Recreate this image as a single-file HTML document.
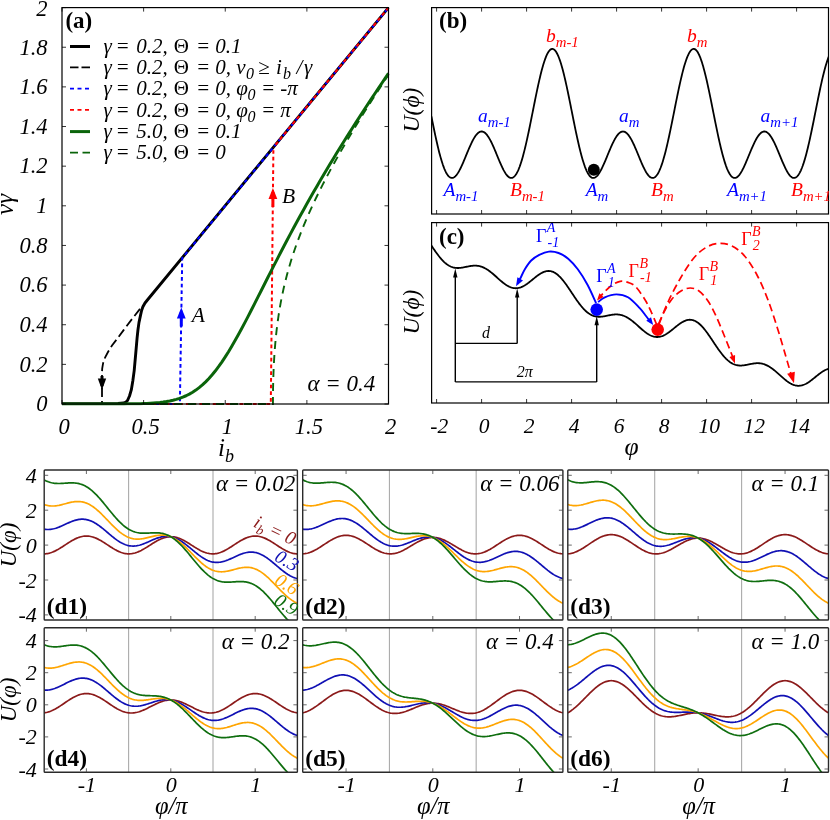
<!DOCTYPE html><html><head><meta charset="utf-8"><style>html,body{margin:0;padding:0;background:#fff}svg{display:block;will-change:transform;opacity:0.999}text{font-family:"Liberation Serif",serif}</style></head><body>
<svg width="830" height="820" viewBox="0 0 830 820">
<rect width="830" height="820" fill="#fff"/>
<defs><clipPath id="clipa"><rect x="62.0" y="6.6" width="327.5" height="398.9"/></clipPath>
<clipPath id="clipb"><rect x="431.6" y="7.6" width="396.9" height="206.4"/></clipPath>
<clipPath id="clipc"><rect x="431.6" y="222.6" width="396.9" height="180.4"/></clipPath></defs>
<g clip-path="url(#clipa)">
<path d="M140 308.9 L132 319 L123.6 330.1 L117 339 L112 345.5 L108 352 L105.3 357.1 L103.6 361 L102.8 364.8 L102.2 368.5 L102 372.5 L102 403.4" fill="none" stroke="#000" stroke-width="1.8" stroke-dasharray="9 4" />
<path d="M62 403.6 L118 403.5 L123.6 403 L126 402 L127.5 400.5 L129.5 396 L131.3 389.9 L132.8 381 L134.2 370.6 L135.6 355 L137.1 337.8 L138 329.5 L139 322.4 L140.5 315.4 L141.6 310.5 L142.9 306.8 L145 303 L147.8 299.5 L388.5 7.6" fill="none" stroke="#000" stroke-width="2.9" stroke-linejoin="round"/>
<path d="M62 404 L179.87 404 L182.2 258.07 L388.5 7.6" fill="none" stroke="#0000ff" stroke-width="2.0" stroke-dasharray="3.7 3" />
<path d="M62 404 L270.8 404 L273.41 147.33" fill="none" stroke="#ff0000" stroke-width="2.0" stroke-dasharray="3.7 3" stroke-dashoffset="3.35"/>
<path d="M273.41 147.33 L388.5 7.6" fill="none" stroke="#ff0000" stroke-width="2.0" stroke-dasharray="3.7 3" stroke-dashoffset="3.35"/>
<path d="M62 404 L65.27 404 L68.53 404 L71.8 404 L75.06 404 L78.33 404 L81.59 404 L84.86 404 L88.12 404 L91.38 404 L94.65 403.99 L97.91 403.99 L101.18 403.99 L104.44 403.98 L107.71 403.98 L110.97 403.97 L114.24 403.96 L117.5 403.95 L120.77 403.93 L124.03 403.9 L127.3 403.87 L130.56 403.83 L133.83 403.78 L137.09 403.72 L140.36 403.63 L143.62 403.53 L146.89 403.39 L150.16 403.22 L153.42 403.01 L156.69 402.74 L159.95 402.42 L163.22 402.02 L166.48 401.53 L169.75 400.94 L173.01 400.22 L176.28 399.37 L179.54 398.35 L182.81 397.15 L186.07 395.75 L189.34 394.12 L192.6 392.24 L195.87 390.1 L199.13 387.66 L202.4 384.93 L205.66 381.88 L208.93 378.5 L212.19 374.81 L215.46 370.79 L218.72 366.45 L221.98 361.82 L225.25 356.89 L228.52 351.7 L231.78 346.26 L235.05 340.61 L238.31 334.77 L241.58 328.76 L244.84 322.61 L248.11 316.36 L251.37 310.02 L254.63 303.61 L257.9 297.17 L261.16 290.71 L264.43 284.24 L267.69 277.78 L270.96 271.34 L274.23 264.93 L277.49 258.57 L280.75 252.25 L284.02 245.99 L287.29 239.78 L290.55 233.63 L293.81 227.54 L297.08 221.52 L300.35 215.55 L303.61 209.65 L306.88 203.81 L310.14 198.04 L313.4 192.32 L316.67 186.66 L319.94 181.06 L323.2 175.51 L326.47 170.01 L329.73 164.57 L333 159.17 L336.26 153.83 L339.52 148.52 L342.79 143.26 L346.06 138.05 L349.32 132.87 L352.58 127.73 L355.85 122.63 L359.12 117.57 L362.38 112.53 L365.65 107.53 L368.91 102.57 L372.18 97.63 L375.44 92.72 L378.7 87.84 L381.97 82.98 L385.24 78.15 L388.5 73.34" fill="none" stroke="#0a640a" stroke-width="3" stroke-linejoin="round"/>
<path d="M62 404 L272.94 404 L272.95 402.33 L272.95 402.26 L272.95 402.19 L272.95 402.11 L272.95 402.04 L272.95 401.96 L272.95 401.87 L272.95 401.79 L272.95 401.7 L272.95 401.61 L272.95 401.52 L272.95 401.42 L272.95 401.32 L272.95 401.22 L272.95 401.12 L272.95 401.01 L272.95 400.9 L272.95 400.78 L272.95 400.66 L272.95 400.54 L272.96 400.41 L272.96 400.27 L272.96 400.14 L272.96 400 L272.96 399.85 L272.96 399.7 L272.96 399.54 L272.96 399.38 L272.96 399.21 L272.96 399.04 L272.96 398.86 L272.96 398.67 L272.96 398.48 L272.96 398.28 L272.97 398.08 L272.97 397.87 L272.97 397.65 L272.97 397.42 L272.97 397.19 L272.97 396.94 L272.98 396.69 L272.98 396.43 L272.98 396.17 L272.98 395.89 L272.98 395.6 L272.99 395.3 L272.99 395 L272.99 394.68 L273 394.35 L273 394.01 L273 393.66 L273.01 393.3 L273.01 392.92 L273.02 392.54 L273.02 392.14 L273.03 391.72 L273.03 391.29 L273.04 390.85 L273.04 390.39 L273.05 389.92 L273.06 389.43 L273.07 388.92 L273.08 388.4 L273.08 387.86 L273.09 387.31 L273.11 386.73 L273.12 386.13 L273.13 385.52 L273.14 384.88 L273.16 384.23 L273.17 383.55 L273.19 382.85 L273.2 382.13 L273.22 381.39 L273.24 380.62 L273.27 379.82 L273.29 379 L273.31 378.16 L273.34 377.28 L273.37 376.38 L273.4 375.46 L273.43 374.5 L273.47 373.51 L273.5 372.49 L273.54 371.44 L273.59 370.36 L273.63 369.24 L273.68 368.09 L273.74 366.9 L273.79 365.68 L273.86 364.42 L273.92 363.13 L273.99 361.79 L274.07 360.42 L274.15 359 L274.24 357.54 L274.33 356.04 L274.43 354.5 L274.54 352.91 L274.66 351.28 L274.78 349.6 L274.91 347.87 L275.06 346.09 L275.21 344.26 L275.38 342.39 L275.55 340.46 L275.74 338.47 L275.95 336.43 L276.16 334.34 L276.4 332.19 L276.65 329.98 L276.92 327.71 L277.21 325.38 L277.52 322.99 L277.85 320.54 L278.2 318.01 L278.59 315.43 L279 312.77 L279.44 310.05 L279.91 307.25 L280.42 304.37 L280.96 301.43 L281.54 298.4 L282.17 295.29 L282.84 292.1 L283.56 288.82 L284.33 285.45 L285.16 282 L286.05 278.44 L287 274.78 L288.02 271.02 L289.12 267.15 L290.29 263.17 L291.56 259.07 L292.91 254.84 L294.36 250.48 L295.92 245.99 L297.59 241.34 L299.39 236.55 L301.31 231.59 L303.37 226.45 L305.59 221.13 L307.96 215.62 L310.51 209.9 L313.24 203.96 L316.17 197.78 L319.32 191.36 L322.69 184.66 L326.31 177.67 L330.19 170.38 L334.36 162.76 L338.83 154.79 L343.62 146.44 L348.76 137.68 L354.28 128.49 L360.2 118.84 L366.55 108.68 L373.36 98 L380.66 86.73 L388.5 74.85" fill="none" stroke="#0a640a" stroke-width="1.9" stroke-dasharray="8 6" />
</g>
<line x1="102" y1="376" x2="102" y2="386" stroke="#000" stroke-width="3" />
<path d="M102 390 L97.8 378.5 L106.2 378.5 Z" fill="#000"/>
<line x1="181.29" y1="312" x2="181.29" y2="326.5" stroke="#0000ff" stroke-width="3" />
<path d="M181.29 307.5 L176.89 318.5 L185.69 318.5 Z" fill="#0000ff"/>
<line x1="272.91" y1="192" x2="272.91" y2="207" stroke="#ff0000" stroke-width="3" />
<path d="M272.91 188 L268.51 199 L277.31 199 Z" fill="#ff0000"/>
<text x="191.7" y="322.3" font-size="21.5" text-anchor="start" font-style="italic" font-weight="normal" fill="#000" >A</text>
<text x="282" y="203" font-size="21.5" text-anchor="start" font-style="italic" font-weight="normal" fill="#000" >B</text>
<rect x="62.0" y="7.6" width="326.5" height="396.4" fill="none" stroke="#000" stroke-width="1.2"/>
<line x1="62" y1="404" x2="66" y2="404" stroke="#000" stroke-width="0.8" />
<line x1="388.5" y1="404" x2="384.5" y2="404" stroke="#000" stroke-width="0.8" />
<text x="47.5" y="411.3" font-size="22.5" text-anchor="end" font-style="italic" font-weight="normal" fill="#000" >0</text>
<line x1="62" y1="364.36" x2="66" y2="364.36" stroke="#000" stroke-width="0.8" />
<line x1="388.5" y1="364.36" x2="384.5" y2="364.36" stroke="#000" stroke-width="0.8" />
<text x="47.5" y="371.66" font-size="22.5" text-anchor="end" font-style="italic" font-weight="normal" fill="#000" >0.2</text>
<line x1="62" y1="324.72" x2="66" y2="324.72" stroke="#000" stroke-width="0.8" />
<line x1="388.5" y1="324.72" x2="384.5" y2="324.72" stroke="#000" stroke-width="0.8" />
<text x="47.5" y="332.02" font-size="22.5" text-anchor="end" font-style="italic" font-weight="normal" fill="#000" >0.4</text>
<line x1="62" y1="285.08" x2="66" y2="285.08" stroke="#000" stroke-width="0.8" />
<line x1="388.5" y1="285.08" x2="384.5" y2="285.08" stroke="#000" stroke-width="0.8" />
<text x="47.5" y="292.38" font-size="22.5" text-anchor="end" font-style="italic" font-weight="normal" fill="#000" >0.6</text>
<line x1="62" y1="245.44" x2="66" y2="245.44" stroke="#000" stroke-width="0.8" />
<line x1="388.5" y1="245.44" x2="384.5" y2="245.44" stroke="#000" stroke-width="0.8" />
<text x="47.5" y="252.74" font-size="22.5" text-anchor="end" font-style="italic" font-weight="normal" fill="#000" >0.8</text>
<line x1="62" y1="205.8" x2="66" y2="205.8" stroke="#000" stroke-width="0.8" />
<line x1="388.5" y1="205.8" x2="384.5" y2="205.8" stroke="#000" stroke-width="0.8" />
<text x="47.5" y="213.1" font-size="22.5" text-anchor="end" font-style="italic" font-weight="normal" fill="#000" >1</text>
<line x1="62" y1="166.16" x2="66" y2="166.16" stroke="#000" stroke-width="0.8" />
<line x1="388.5" y1="166.16" x2="384.5" y2="166.16" stroke="#000" stroke-width="0.8" />
<text x="47.5" y="173.46" font-size="22.5" text-anchor="end" font-style="italic" font-weight="normal" fill="#000" >1.2</text>
<line x1="62" y1="126.52" x2="66" y2="126.52" stroke="#000" stroke-width="0.8" />
<line x1="388.5" y1="126.52" x2="384.5" y2="126.52" stroke="#000" stroke-width="0.8" />
<text x="47.5" y="133.82" font-size="22.5" text-anchor="end" font-style="italic" font-weight="normal" fill="#000" >1.4</text>
<line x1="62" y1="86.88" x2="66" y2="86.88" stroke="#000" stroke-width="0.8" />
<line x1="388.5" y1="86.88" x2="384.5" y2="86.88" stroke="#000" stroke-width="0.8" />
<text x="47.5" y="94.18" font-size="22.5" text-anchor="end" font-style="italic" font-weight="normal" fill="#000" >1.6</text>
<line x1="62" y1="47.24" x2="66" y2="47.24" stroke="#000" stroke-width="0.8" />
<line x1="388.5" y1="47.24" x2="384.5" y2="47.24" stroke="#000" stroke-width="0.8" />
<text x="47.5" y="54.54" font-size="22.5" text-anchor="end" font-style="italic" font-weight="normal" fill="#000" >1.8</text>
<line x1="62" y1="7.6" x2="66" y2="7.6" stroke="#000" stroke-width="0.8" />
<line x1="388.5" y1="7.6" x2="384.5" y2="7.6" stroke="#000" stroke-width="0.8" />
<text x="47.5" y="15.7" font-size="22.5" text-anchor="end" font-style="italic" font-weight="normal" fill="#000" >2</text>
<line x1="62" y1="404" x2="62" y2="400" stroke="#000" stroke-width="0.8" />
<line x1="62" y1="7.6" x2="62" y2="11.6" stroke="#000" stroke-width="0.8" />
<text x="64" y="434" font-size="22.5" text-anchor="middle" font-style="italic" font-weight="normal" fill="#000" >0</text>
<line x1="143.62" y1="404" x2="143.62" y2="400" stroke="#000" stroke-width="0.8" />
<line x1="143.62" y1="7.6" x2="143.62" y2="11.6" stroke="#000" stroke-width="0.8" />
<text x="145.62" y="434" font-size="22.5" text-anchor="middle" font-style="italic" font-weight="normal" fill="#000" >0.5</text>
<line x1="225.25" y1="404" x2="225.25" y2="400" stroke="#000" stroke-width="0.8" />
<line x1="225.25" y1="7.6" x2="225.25" y2="11.6" stroke="#000" stroke-width="0.8" />
<text x="227.25" y="434" font-size="22.5" text-anchor="middle" font-style="italic" font-weight="normal" fill="#000" >1</text>
<line x1="306.88" y1="404" x2="306.88" y2="400" stroke="#000" stroke-width="0.8" />
<line x1="306.88" y1="7.6" x2="306.88" y2="11.6" stroke="#000" stroke-width="0.8" />
<text x="308.88" y="434" font-size="22.5" text-anchor="middle" font-style="italic" font-weight="normal" fill="#000" >1.5</text>
<line x1="388.5" y1="404" x2="388.5" y2="400" stroke="#000" stroke-width="0.8" />
<line x1="388.5" y1="7.6" x2="388.5" y2="11.6" stroke="#000" stroke-width="0.8" />
<text x="390.5" y="434" font-size="22.5" text-anchor="middle" font-style="italic" font-weight="normal" fill="#000" >2</text>
<text x="65.4" y="27.5" font-size="23" text-anchor="start" font-style="normal" font-weight="bold" fill="#000" >(a)</text>
<text x="307.5" y="391" font-size="23" text-anchor="start" font-style="italic" font-weight="normal" fill="#000" >α = 0.4</text>
<text transform="translate(13.4,204.5) rotate(-90)" font-size="25" font-style="italic" text-anchor="middle">vγ</text>
<text x="218" y="455.5" font-size="25" font-style="italic">i<tspan dy="6.5" font-size="18">b</tspan></text>
<line x1="70" y1="46.5" x2="90" y2="46.5" stroke="#000" stroke-width="3" />
<line x1="70" y1="67.3" x2="90" y2="67.3" stroke="#000" stroke-width="1.8" stroke-dasharray="8.5 3"/>
<line x1="70" y1="88.7" x2="90" y2="88.7" stroke="#0000ff" stroke-width="1.8" stroke-dasharray="4 3.5"/>
<line x1="70" y1="109.8" x2="90" y2="109.8" stroke="#ff0000" stroke-width="1.8" stroke-dasharray="4 3.5"/>
<line x1="70" y1="131.6" x2="90" y2="131.6" stroke="#0a640a" stroke-width="3" />
<line x1="70" y1="152.6" x2="90" y2="152.6" stroke="#0a640a" stroke-width="1.6" stroke-dasharray="8 4.5"/>
<text font-size="21" font-style="italic"><tspan x="103.4" y="53" font-style="italic">γ</tspan><tspan x="115.6" y="53" font-style="italic">=</tspan><tspan x="136.3" y="53" font-style="italic">0.2,</tspan><tspan x="173.8" y="53" font-style="normal">Θ</tspan><tspan x="196" y="53" font-style="italic">=</tspan><tspan x="215.3" y="53" font-style="italic">0.1</tspan></text>
<text font-size="21" font-style="italic"><tspan x="103.4" y="74" font-style="italic">γ</tspan><tspan x="115.6" y="74" font-style="italic">=</tspan><tspan x="136.3" y="74" font-style="italic">0.2,</tspan><tspan x="173.8" y="74" font-style="normal">Θ</tspan><tspan x="196" y="74" font-style="italic">=</tspan><tspan x="215.3" y="74" font-style="italic">0,</tspan><tspan x="236.3" y="74" font-style="italic">v</tspan><tspan x="246" y="79" font-style="italic" font-size="16">0</tspan><tspan x="258.3" y="74" font-style="normal">≥</tspan><tspan x="276" y="74" font-style="italic">i</tspan><tspan x="283" y="79" font-style="italic" font-size="16">b</tspan><tspan x="296.5" y="74" font-style="italic">/</tspan><tspan x="304" y="74" font-style="italic">γ</tspan></text>
<text font-size="21" font-style="italic"><tspan x="103.4" y="95" font-style="italic">γ</tspan><tspan x="115.6" y="95" font-style="italic">=</tspan><tspan x="136.3" y="95" font-style="italic">0.2,</tspan><tspan x="173.8" y="95" font-style="normal">Θ</tspan><tspan x="196" y="95" font-style="italic">=</tspan><tspan x="215.3" y="95" font-style="italic">0,</tspan><tspan x="236.3" y="95" font-style="italic">φ</tspan><tspan x="247.6" y="100" font-style="italic" font-size="16">0</tspan><tspan x="261" y="95" font-style="italic">=</tspan><tspan x="280.3" y="95" font-style="italic">-π</tspan></text>
<text font-size="21" font-style="italic"><tspan x="103.4" y="116.5" font-style="italic">γ</tspan><tspan x="115.6" y="116.5" font-style="italic">=</tspan><tspan x="136.3" y="116.5" font-style="italic">0.2,</tspan><tspan x="173.8" y="116.5" font-style="normal">Θ</tspan><tspan x="196" y="116.5" font-style="italic">=</tspan><tspan x="215.3" y="116.5" font-style="italic">0,</tspan><tspan x="236.3" y="116.5" font-style="italic">φ</tspan><tspan x="247.6" y="121.5" font-style="italic" font-size="16">0</tspan><tspan x="261" y="116.5" font-style="italic">=</tspan><tspan x="280.3" y="116.5" font-style="italic">π</tspan></text>
<text font-size="21" font-style="italic"><tspan x="103.4" y="138" font-style="italic">γ</tspan><tspan x="115.6" y="138" font-style="italic">=</tspan><tspan x="136.3" y="138" font-style="italic">5.0,</tspan><tspan x="173.8" y="138" font-style="normal">Θ</tspan><tspan x="196" y="138" font-style="italic">=</tspan><tspan x="215.3" y="138" font-style="italic">0.1</tspan></text>
<text font-size="21" font-style="italic"><tspan x="103.4" y="159" font-style="italic">γ</tspan><tspan x="115.6" y="159" font-style="italic">=</tspan><tspan x="136.3" y="159" font-style="italic">5.0,</tspan><tspan x="173.8" y="159" font-style="normal">Θ</tspan><tspan x="196" y="159" font-style="italic">=</tspan><tspan x="215.3" y="159" font-style="italic">0</tspan></text>
<g clip-path="url(#clipb)">
<path d="M431.43 116.52 L431.99 119.36 L432.56 122.18 L433.13 124.98 L433.7 127.76 L434.27 130.5 L434.84 133.21 L435.4 135.87 L435.97 138.48 L436.54 141.05 L437.11 143.55 L437.68 145.99 L438.25 148.37 L438.81 150.68 L439.38 152.91 L439.95 155.06 L440.52 157.13 L441.09 159.11 L441.66 161.01 L442.23 162.82 L442.79 164.53 L443.36 166.14 L443.93 167.66 L444.5 169.07 L445.07 170.39 L445.64 171.6 L446.2 172.7 L446.77 173.7 L447.34 174.6 L447.91 175.39 L448.48 176.07 L449.05 176.64 L449.62 177.12 L450.18 177.48 L450.75 177.74 L451.32 177.9 L451.89 177.96 L452.46 177.92 L453.03 177.79 L453.59 177.55 L454.16 177.23 L454.73 176.82 L455.3 176.32 L455.87 175.73 L456.44 175.07 L457.01 174.33 L457.57 173.52 L458.14 172.63 L458.71 171.69 L459.28 170.68 L459.85 169.61 L460.42 168.49 L460.98 167.33 L461.55 166.12 L462.12 164.87 L462.69 163.59 L463.26 162.28 L463.83 160.94 L464.4 159.59 L464.96 158.22 L465.53 156.84 L466.1 155.46 L466.67 154.07 L467.24 152.69 L467.81 151.32 L468.37 149.97 L468.94 148.63 L469.51 147.32 L470.08 146.03 L470.65 144.78 L471.22 143.56 L471.79 142.38 L472.35 141.24 L472.92 140.16 L473.49 139.12 L474.06 138.14 L474.63 137.21 L475.2 136.35 L475.76 135.55 L476.33 134.82 L476.9 134.15 L477.47 133.56 L478.04 133.04 L478.61 132.59 L479.18 132.22 L479.74 131.92 L480.31 131.7 L480.88 131.56 L481.45 131.5 L482.02 131.52 L482.59 131.62 L483.15 131.8 L483.72 132.05 L484.29 132.38 L484.86 132.79 L485.43 133.27 L486 133.83 L486.57 134.46 L487.13 135.15 L487.7 135.92 L488.27 136.75 L488.84 137.64 L489.41 138.59 L489.98 139.6 L490.54 140.66 L491.11 141.77 L491.68 142.93 L492.25 144.12 L492.82 145.36 L493.39 146.63 L493.96 147.93 L494.52 149.26 L495.09 150.6 L495.66 151.96 L496.23 153.34 L496.8 154.72 L497.37 156.11 L497.93 157.49 L498.5 158.86 L499.07 160.23 L499.64 161.57 L500.21 162.9 L500.78 164.19 L501.34 165.46 L501.91 166.69 L502.48 167.88 L503.05 169.02 L503.62 170.12 L504.19 171.16 L504.76 172.14 L505.32 173.06 L505.89 173.91 L506.46 174.69 L507.03 175.39 L507.6 176.02 L508.17 176.56 L508.73 177.02 L509.3 177.39 L509.87 177.67 L510.44 177.86 L511.01 177.95 L511.58 177.95 L512.15 177.84 L512.71 177.63 L513.28 177.32 L513.85 176.91 L514.42 176.39 L514.99 175.76 L515.56 175.03 L516.12 174.19 L516.69 173.25 L517.26 172.2 L517.83 171.04 L518.4 169.78 L518.97 168.42 L519.54 166.96 L520.1 165.4 L520.67 163.74 L521.24 161.98 L521.81 160.13 L522.38 158.19 L522.95 156.17 L523.51 154.06 L524.08 151.87 L524.65 149.6 L525.22 147.26 L525.79 144.86 L526.36 142.38 L526.93 139.85 L527.49 137.26 L528.06 134.63 L528.63 131.94 L529.2 129.22 L529.77 126.46 L530.34 123.67 L530.9 120.86 L531.47 118.03 L532.04 115.18 L532.61 112.33 L533.18 109.48 L533.75 106.63 L534.32 103.78 L534.88 100.96 L535.45 98.16 L536.02 95.38 L536.59 92.64 L537.16 89.93 L537.73 87.27 L538.29 84.66 L538.86 82.1 L539.43 79.61 L540 77.18 L540.57 74.82 L541.14 72.54 L541.71 70.34 L542.27 68.23 L542.84 66.2 L543.41 64.27 L543.98 62.44 L544.55 60.71 L545.12 59.09 L545.68 57.57 L546.25 56.17 L546.82 54.89 L547.39 53.72 L547.96 52.68 L548.53 51.76 L549.1 50.96 L549.66 50.3 L550.23 49.76 L550.8 49.35 L551.37 49.07 L551.94 48.92 L552.51 48.91 L553.07 49.03 L553.64 49.28 L554.21 49.65 L554.78 50.16 L555.35 50.8 L555.92 51.57 L556.49 52.46 L557.05 53.48 L557.62 54.62 L558.19 55.87 L558.76 57.25 L559.33 58.74 L559.9 60.33 L560.46 62.04 L561.03 63.85 L561.6 65.76 L562.17 67.76 L562.74 69.86 L563.31 72.04 L563.88 74.3 L564.44 76.64 L565.01 79.06 L565.58 81.54 L566.15 84.08 L566.72 86.68 L567.29 89.33 L567.85 92.02 L568.42 94.76 L568.99 97.53 L569.56 100.32 L570.13 103.15 L570.7 105.98 L571.26 108.83 L571.83 111.69 L572.4 114.54 L572.97 117.39 L573.54 120.22 L574.11 123.04 L574.68 125.83 L575.24 128.6 L575.81 131.33 L576.38 134.02 L576.95 136.67 L577.52 139.27 L578.09 141.82 L578.65 144.3 L579.22 146.73 L579.79 149.08 L580.36 151.36 L580.93 153.57 L581.5 155.7 L582.07 157.74 L582.63 159.7 L583.2 161.57 L583.77 163.35 L584.34 165.03 L584.91 166.62 L585.48 168.1 L586.04 169.49 L586.61 170.77 L587.18 171.95 L587.75 173.02 L588.32 173.99 L588.89 174.85 L589.46 175.61 L590.02 176.26 L590.59 176.8 L591.16 177.24 L591.73 177.57 L592.3 177.8 L592.87 177.93 L593.43 177.96 L594 177.89 L594.57 177.72 L595.14 177.46 L595.71 177.11 L596.28 176.67 L596.85 176.15 L597.41 175.54 L597.98 174.85 L598.55 174.09 L599.12 173.25 L599.69 172.35 L600.26 171.38 L600.82 170.36 L601.39 169.28 L601.96 168.14 L602.53 166.96 L603.1 165.74 L603.67 164.48 L604.24 163.19 L604.8 161.87 L605.37 160.53 L605.94 159.17 L606.51 157.8 L607.08 156.42 L607.65 155.03 L608.21 153.65 L608.78 152.27 L609.35 150.91 L609.92 149.56 L610.49 148.23 L611.06 146.92 L611.63 145.64 L612.19 144.4 L612.76 143.19 L613.33 142.03 L613.9 140.91 L614.47 139.83 L615.04 138.81 L615.6 137.85 L616.17 136.94 L616.74 136.1 L617.31 135.32 L617.88 134.61 L618.45 133.96 L619.02 133.39 L619.58 132.89 L620.15 132.47 L620.72 132.12 L621.29 131.85 L621.86 131.65 L622.43 131.54 L622.99 131.5 L623.56 131.54 L624.13 131.66 L624.7 131.86 L625.27 132.14 L625.84 132.5 L626.41 132.93 L626.97 133.43 L627.54 134.01 L628.11 134.66 L628.68 135.38 L629.25 136.16 L629.82 137.01 L630.38 137.92 L630.95 138.89 L631.52 139.92 L632.09 140.99 L632.66 142.12 L633.23 143.29 L633.79 144.5 L634.36 145.74 L634.93 147.02 L635.5 148.33 L636.07 149.66 L636.64 151.02 L637.21 152.38 L637.77 153.76 L638.34 155.14 L638.91 156.53 L639.48 157.91 L640.05 159.28 L640.62 160.64 L641.18 161.98 L641.75 163.3 L642.32 164.59 L642.89 165.84 L643.46 167.06 L644.03 168.23 L644.6 169.36 L645.16 170.44 L645.73 171.46 L646.3 172.42 L646.87 173.32 L647.44 174.15 L648.01 174.91 L648.57 175.59 L649.14 176.19 L649.71 176.71 L650.28 177.14 L650.85 177.49 L651.42 177.74 L651.99 177.9 L652.55 177.96 L653.12 177.93 L653.69 177.79 L654.26 177.55 L654.83 177.21 L655.4 176.76 L655.96 176.21 L656.53 175.55 L657.1 174.79 L657.67 173.92 L658.24 172.94 L658.81 171.86 L659.38 170.67 L659.94 169.38 L660.51 167.99 L661.08 166.49 L661.65 164.9 L662.22 163.21 L662.79 161.43 L663.35 159.55 L663.92 157.58 L664.49 155.53 L665.06 153.4 L665.63 151.19 L666.2 148.9 L666.77 146.54 L667.33 144.11 L667.9 141.62 L668.47 139.07 L669.04 136.46 L669.61 133.81 L670.18 131.12 L670.74 128.38 L671.31 125.61 L671.88 122.82 L672.45 120 L673.02 117.16 L673.59 114.31 L674.16 111.46 L674.72 108.6 L675.29 105.76 L675.86 102.92 L676.43 100.1 L677 97.31 L677.57 94.54 L678.13 91.81 L678.7 89.11 L679.27 86.47 L679.84 83.87 L680.41 81.34 L680.98 78.86 L681.55 76.45 L682.11 74.12 L682.68 71.86 L683.25 69.69 L683.82 67.6 L684.39 65.6 L684.96 63.7 L685.52 61.9 L686.09 60.2 L686.66 58.61 L687.23 57.13 L687.8 55.77 L688.37 54.52 L688.94 53.39 L689.5 52.39 L690.07 51.5 L690.64 50.75 L691.21 50.12 L691.78 49.62 L692.35 49.25 L692.91 49.01 L693.48 48.91 L694.05 48.93 L694.62 49.09 L695.19 49.38 L695.76 49.8 L696.33 50.35 L696.89 51.02 L697.46 51.83 L698.03 52.76 L698.6 53.81 L699.17 54.99 L699.74 56.28 L700.3 57.69 L700.87 59.21 L701.44 60.84 L702.01 62.58 L702.58 64.42 L703.15 66.36 L703.71 68.39 L704.28 70.51 L704.85 72.72 L705.42 75.01 L705.99 77.37 L706.56 79.81 L707.13 82.31 L707.69 84.87 L708.26 87.48 L708.83 90.15 L709.4 92.85 L709.97 95.6 L710.54 98.38 L711.1 101.18 L711.67 104.01 L712.24 106.85 L712.81 109.7 L713.38 112.56 L713.95 115.41 L714.52 118.25 L715.08 121.08 L715.65 123.9 L716.22 126.68 L716.79 129.44 L717.36 132.16 L717.93 134.84 L718.49 137.47 L719.06 140.06 L719.63 142.58 L720.2 145.05 L720.77 147.45 L721.34 149.79 L721.91 152.05 L722.47 154.23 L723.04 156.33 L723.61 158.35 L724.18 160.28 L724.75 162.12 L725.32 163.87 L725.88 165.53 L726.45 167.08 L727.02 168.54 L727.59 169.89 L728.16 171.14 L728.73 172.29 L729.3 173.33 L729.86 174.26 L730.43 175.09 L731 175.82 L731.57 176.43 L732.14 176.94 L732.71 177.35 L733.27 177.65 L733.84 177.85 L734.41 177.95 L734.98 177.95 L735.55 177.85 L736.12 177.65 L736.69 177.37 L737.25 176.99 L737.82 176.52 L738.39 175.97 L738.96 175.34 L739.53 174.63 L740.1 173.84 L740.66 172.98 L741.23 172.06 L741.8 171.08 L742.37 170.03 L742.94 168.93 L743.51 167.79 L744.08 166.59 L744.64 165.36 L745.21 164.09 L745.78 162.79 L746.35 161.47 L746.92 160.12 L747.49 158.75 L748.05 157.38 L748.62 156 L749.19 154.61 L749.76 153.23 L750.33 151.86 L750.9 150.49 L751.47 149.15 L752.03 147.83 L752.6 146.53 L753.17 145.26 L753.74 144.03 L754.31 142.83 L754.88 141.68 L755.44 140.57 L756.01 139.52 L756.58 138.51 L757.15 137.57 L757.72 136.68 L758.29 135.85 L758.86 135.1 L759.42 134.4 L759.99 133.78 L760.56 133.23 L761.13 132.75 L761.7 132.35 L762.27 132.03 L762.83 131.78 L763.4 131.61 L763.97 131.52 L764.54 131.5 L765.11 131.57 L765.68 131.72 L766.24 131.94 L766.81 132.24 L767.38 132.62 L767.95 133.08 L768.52 133.6 L769.09 134.2 L769.66 134.87 L770.22 135.61 L770.79 136.42 L771.36 137.29 L771.93 138.21 L772.5 139.2 L773.07 140.24 L773.63 141.33 L774.2 142.47 L774.77 143.65 L775.34 144.87 L775.91 146.13 L776.48 147.42 L777.05 148.74 L777.61 150.08 L778.18 151.43 L778.75 152.8 L779.32 154.18 L779.89 155.57 L780.46 156.95 L781.02 158.33 L781.59 159.7 L782.16 161.05 L782.73 162.38 L783.3 163.69 L783.87 164.97 L784.44 166.22 L785 167.42 L785.57 168.58 L786.14 169.7 L786.71 170.76 L787.28 171.76 L787.85 172.71 L788.41 173.58 L788.98 174.39 L789.55 175.12 L790.12 175.78 L790.69 176.36 L791.26 176.85 L791.83 177.26 L792.39 177.58 L792.96 177.8 L793.53 177.93 L794.1 177.96 L794.67 177.89 L795.24 177.73 L795.8 177.46 L796.37 177.08 L796.94 176.6 L797.51 176.02 L798.08 175.33 L798.65 174.53 L799.22 173.63 L799.78 172.62 L800.35 171.51 L800.92 170.29 L801.49 168.96 L802.06 167.54 L802.63 166.02 L803.19 164.39 L803.76 162.68 L804.33 160.86 L804.9 158.96 L805.47 156.97 L806.04 154.89 L806.61 152.73 L807.17 150.49 L807.74 148.18 L808.31 145.8 L808.88 143.35 L809.45 140.84 L810.02 138.28 L810.58 135.66 L811.15 132.99 L811.72 130.28 L812.29 127.54 L812.86 124.76 L813.43 121.96 L814 119.13 L814.56 116.29 L815.13 113.44 L815.7 110.59 L816.27 107.73 L816.84 104.89 L817.41 102.06 L817.97 99.24 L818.54 96.46 L819.11 93.7 L819.68 90.98 L820.25 88.3 L820.82 85.67 L821.39 83.09 L821.95 80.57 L822.52 78.12 L823.09 75.73 L823.66 73.42 L824.23 71.19 L824.8 69.04 L825.36 66.98 L825.93 65.01 L826.5 63.14 L827.07 61.37 L827.64 59.71 L828.21 58.15 L828.78 56.7" fill="none" stroke="#000" stroke-width="1.8" />
</g>
<circle cx="593.8" cy="169.8" r="6" fill="#000"/>
<rect x="431.6" y="7.6" width="396.9" height="206.4" fill="none" stroke="#000" stroke-width="1.2"/>
<line x1="436.6" y1="214" x2="436.6" y2="210" stroke="#000" stroke-width="0.8" />
<line x1="436.6" y1="7.6" x2="436.6" y2="11.6" stroke="#000" stroke-width="0.8" />
<line x1="481.6" y1="214" x2="481.6" y2="210" stroke="#000" stroke-width="0.8" />
<line x1="481.6" y1="7.6" x2="481.6" y2="11.6" stroke="#000" stroke-width="0.8" />
<line x1="526.6" y1="214" x2="526.6" y2="210" stroke="#000" stroke-width="0.8" />
<line x1="526.6" y1="7.6" x2="526.6" y2="11.6" stroke="#000" stroke-width="0.8" />
<line x1="571.6" y1="214" x2="571.6" y2="210" stroke="#000" stroke-width="0.8" />
<line x1="571.6" y1="7.6" x2="571.6" y2="11.6" stroke="#000" stroke-width="0.8" />
<line x1="616.6" y1="214" x2="616.6" y2="210" stroke="#000" stroke-width="0.8" />
<line x1="616.6" y1="7.6" x2="616.6" y2="11.6" stroke="#000" stroke-width="0.8" />
<line x1="661.6" y1="214" x2="661.6" y2="210" stroke="#000" stroke-width="0.8" />
<line x1="661.6" y1="7.6" x2="661.6" y2="11.6" stroke="#000" stroke-width="0.8" />
<line x1="706.6" y1="214" x2="706.6" y2="210" stroke="#000" stroke-width="0.8" />
<line x1="706.6" y1="7.6" x2="706.6" y2="11.6" stroke="#000" stroke-width="0.8" />
<line x1="751.6" y1="214" x2="751.6" y2="210" stroke="#000" stroke-width="0.8" />
<line x1="751.6" y1="7.6" x2="751.6" y2="11.6" stroke="#000" stroke-width="0.8" />
<line x1="796.6" y1="214" x2="796.6" y2="210" stroke="#000" stroke-width="0.8" />
<line x1="796.6" y1="7.6" x2="796.6" y2="11.6" stroke="#000" stroke-width="0.8" />
<text x="439" y="28" font-size="23" text-anchor="start" font-style="normal" font-weight="bold" fill="#000" >(b)</text>
<text transform="translate(419.3,110) rotate(-90)" font-size="23.5" font-style="italic" text-anchor="middle">U(ϕ)</text>
<text x="443.5" y="195.5" font-size="19.5" font-style="italic" fill="#0000ff">A<tspan dy="5.5" font-size="14.8">m-1</tspan></text>
<text x="510" y="195.5" font-size="19.5" font-style="italic" fill="#ff0000">B<tspan dy="5.5" font-size="14.8">m-1</tspan></text>
<text x="585.7" y="195.5" font-size="19.5" font-style="italic" fill="#0000ff">A<tspan dy="5.5" font-size="14.8">m</tspan></text>
<text x="651" y="195.5" font-size="19.5" font-style="italic" fill="#ff0000">B<tspan dy="5.5" font-size="14.8">m</tspan></text>
<text x="727" y="195.5" font-size="19.5" font-style="italic" fill="#0000ff">A<tspan dy="5.5" font-size="14.8">m+1</tspan></text>
<text x="791" y="195.5" font-size="19.5" font-style="italic" fill="#ff0000">B<tspan dy="5.5" font-size="14.8">m+1</tspan></text>
<text x="478" y="122" font-size="19.5" font-style="italic" fill="#0000ff">a<tspan dy="4.5" font-size="14.8">m-1</tspan></text>
<text x="619" y="122" font-size="19.5" font-style="italic" fill="#0000ff">a<tspan dy="4.5" font-size="14.8">m</tspan></text>
<text x="760.5" y="122" font-size="19.5" font-style="italic" fill="#0000ff">a<tspan dy="4.5" font-size="14.8">m+1</tspan></text>
<text x="546" y="41.5" font-size="19.5" font-style="italic" fill="#ff0000">b<tspan dy="5.5" font-size="14.8">m-1</tspan></text>
<text x="687" y="41.5" font-size="19.5" font-style="italic" fill="#ff0000">b<tspan dy="5.5" font-size="14.8">m</tspan></text>
<g clip-path="url(#clipc)">
<path d="M431.43 245.59 L431.99 246.44 L432.56 247.29 L433.13 248.14 L433.7 248.98 L434.27 249.81 L434.84 250.63 L435.4 251.45 L435.97 252.25 L436.54 253.04 L437.11 253.82 L437.68 254.58 L438.25 255.33 L438.81 256.07 L439.38 256.78 L439.95 257.48 L440.52 258.16 L441.09 258.82 L441.66 259.46 L442.23 260.07 L442.79 260.67 L443.36 261.24 L443.93 261.8 L444.5 262.32 L445.07 262.83 L445.64 263.31 L446.2 263.77 L446.77 264.2 L447.34 264.61 L447.91 264.99 L448.48 265.35 L449.05 265.69 L449.62 266 L450.18 266.28 L450.75 266.55 L451.32 266.79 L451.89 267 L452.46 267.2 L453.03 267.37 L453.59 267.52 L454.16 267.64 L454.73 267.75 L455.3 267.84 L455.87 267.91 L456.44 267.95 L457.01 267.99 L457.57 268 L458.14 268 L458.71 267.98 L459.28 267.95 L459.85 267.91 L460.42 267.85 L460.98 267.79 L461.55 267.71 L462.12 267.63 L462.69 267.53 L463.26 267.43 L463.83 267.32 L464.4 267.21 L464.96 267.1 L465.53 266.98 L466.1 266.86 L466.67 266.75 L467.24 266.63 L467.81 266.51 L468.37 266.4 L468.94 266.29 L469.51 266.19 L470.08 266.09 L470.65 266.01 L471.22 265.92 L471.79 265.85 L472.35 265.79 L472.92 265.74 L473.49 265.7 L474.06 265.67 L474.63 265.66 L475.2 265.66 L475.76 265.67 L476.33 265.7 L476.9 265.74 L477.47 265.8 L478.04 265.88 L478.61 265.98 L479.18 266.09 L479.74 266.22 L480.31 266.36 L480.88 266.53 L481.45 266.71 L482.02 266.91 L482.59 267.13 L483.15 267.36 L483.72 267.62 L484.29 267.89 L484.86 268.18 L485.43 268.48 L486 268.81 L486.57 269.15 L487.13 269.5 L487.7 269.87 L488.27 270.26 L488.84 270.66 L489.41 271.07 L489.98 271.49 L490.54 271.93 L491.11 272.38 L491.68 272.84 L492.25 273.31 L492.82 273.79 L493.39 274.27 L493.96 274.76 L494.52 275.26 L495.09 275.76 L495.66 276.27 L496.23 276.78 L496.8 277.29 L497.37 277.8 L497.93 278.31 L498.5 278.82 L499.07 279.32 L499.64 279.82 L500.21 280.32 L500.78 280.81 L501.34 281.29 L501.91 281.76 L502.48 282.23 L503.05 282.68 L503.62 283.12 L504.19 283.55 L504.76 283.97 L505.32 284.37 L505.89 284.76 L506.46 285.13 L507.03 285.48 L507.6 285.81 L508.17 286.13 L508.73 286.42 L509.3 286.7 L509.87 286.95 L510.44 287.19 L511.01 287.4 L511.58 287.59 L512.15 287.75 L512.71 287.89 L513.28 288.01 L513.85 288.11 L514.42 288.18 L514.99 288.22 L515.56 288.24 L516.12 288.24 L516.69 288.21 L517.26 288.16 L517.83 288.08 L518.4 287.98 L518.97 287.86 L519.54 287.71 L520.1 287.54 L520.67 287.35 L521.24 287.14 L521.81 286.9 L522.38 286.65 L522.95 286.37 L523.51 286.07 L524.08 285.76 L524.65 285.43 L525.22 285.08 L525.79 284.72 L526.36 284.34 L526.93 283.95 L527.49 283.54 L528.06 283.12 L528.63 282.7 L529.2 282.26 L529.77 281.82 L530.34 281.37 L530.9 280.91 L531.47 280.45 L532.04 279.99 L532.61 279.52 L533.18 279.06 L533.75 278.59 L534.32 278.13 L534.88 277.67 L535.45 277.22 L536.02 276.77 L536.59 276.33 L537.16 275.9 L537.73 275.48 L538.29 275.07 L538.86 274.68 L539.43 274.3 L540 273.93 L540.57 273.58 L541.14 273.25 L541.71 272.94 L542.27 272.64 L542.84 272.37 L543.41 272.12 L543.98 271.89 L544.55 271.69 L545.12 271.51 L545.68 271.35 L546.25 271.23 L546.82 271.13 L547.39 271.05 L547.96 271.01 L548.53 270.99 L549.1 271 L549.66 271.04 L550.23 271.12 L550.8 271.22 L551.37 271.35 L551.94 271.51 L552.51 271.7 L553.07 271.93 L553.64 272.18 L554.21 272.46 L554.78 272.78 L555.35 273.12 L555.92 273.49 L556.49 273.9 L557.05 274.33 L557.62 274.79 L558.19 275.27 L558.76 275.79 L559.33 276.33 L559.9 276.9 L560.46 277.49 L561.03 278.1 L561.6 278.74 L562.17 279.4 L562.74 280.08 L563.31 280.78 L563.88 281.5 L564.44 282.24 L565.01 282.99 L565.58 283.76 L566.15 284.55 L566.72 285.34 L567.29 286.15 L567.85 286.97 L568.42 287.8 L568.99 288.64 L569.56 289.49 L570.13 290.34 L570.7 291.19 L571.26 292.05 L571.83 292.9 L572.4 293.76 L572.97 294.62 L573.54 295.47 L574.11 296.32 L574.68 297.16 L575.24 298 L575.81 298.83 L576.38 299.65 L576.95 300.46 L577.52 301.26 L578.09 302.05 L578.65 302.83 L579.22 303.59 L579.79 304.33 L580.36 305.06 L580.93 305.77 L581.5 306.46 L582.07 307.13 L582.63 307.78 L583.2 308.42 L583.77 309.03 L584.34 309.62 L584.91 310.19 L585.48 310.73 L586.04 311.25 L586.61 311.75 L587.18 312.22 L587.75 312.67 L588.32 313.1 L588.89 313.5 L589.46 313.87 L590.02 314.23 L590.59 314.55 L591.16 314.86 L591.73 315.14 L592.3 315.39 L592.87 315.62 L593.43 315.83 L594 316.02 L594.57 316.18 L595.14 316.33 L595.71 316.45 L596.28 316.55 L596.85 316.63 L597.41 316.69 L597.98 316.74 L598.55 316.76 L599.12 316.77 L599.69 316.77 L600.26 316.75 L600.82 316.71 L601.39 316.66 L601.96 316.61 L602.53 316.54 L603.1 316.46 L603.67 316.37 L604.24 316.27 L604.8 316.17 L605.37 316.06 L605.94 315.95 L606.51 315.83 L607.08 315.72 L607.65 315.6 L608.21 315.48 L608.78 315.36 L609.35 315.25 L609.92 315.14 L610.49 315.03 L611.06 314.93 L611.63 314.84 L612.19 314.75 L612.76 314.67 L613.33 314.6 L613.9 314.54 L614.47 314.49 L615.04 314.46 L615.6 314.44 L616.17 314.43 L616.74 314.43 L617.31 314.45 L617.88 314.48 L618.45 314.53 L619.02 314.6 L619.58 314.68 L620.15 314.78 L620.72 314.89 L621.29 315.03 L621.86 315.18 L622.43 315.35 L622.99 315.54 L623.56 315.74 L624.13 315.97 L624.7 316.21 L625.27 316.47 L625.84 316.75 L626.41 317.04 L626.97 317.35 L627.54 317.68 L628.11 318.02 L628.68 318.38 L629.25 318.76 L629.82 319.15 L630.38 319.55 L630.95 319.97 L631.52 320.4 L632.09 320.84 L632.66 321.29 L633.23 321.75 L633.79 322.22 L634.36 322.7 L634.93 323.19 L635.5 323.68 L636.07 324.18 L636.64 324.69 L637.21 325.19 L637.77 325.7 L638.34 326.21 L638.91 326.72 L639.48 327.23 L640.05 327.74 L640.62 328.24 L641.18 328.74 L641.75 329.24 L642.32 329.73 L642.89 330.21 L643.46 330.68 L644.03 331.14 L644.6 331.59 L645.16 332.03 L645.73 332.45 L646.3 332.86 L646.87 333.26 L647.44 333.64 L648.01 334.01 L648.57 334.35 L649.14 334.68 L649.71 334.99 L650.28 335.28 L650.85 335.55 L651.42 335.8 L651.99 336.02 L652.55 336.23 L653.12 336.41 L653.69 336.57 L654.26 336.7 L654.83 336.81 L655.4 336.9 L655.96 336.96 L656.53 337 L657.1 337.01 L657.67 337 L658.24 336.97 L658.81 336.91 L659.38 336.83 L659.94 336.72 L660.51 336.59 L661.08 336.43 L661.65 336.26 L662.22 336.06 L662.79 335.84 L663.35 335.6 L663.92 335.33 L664.49 335.05 L665.06 334.75 L665.63 334.43 L666.2 334.09 L666.77 333.74 L667.33 333.37 L667.9 332.99 L668.47 332.59 L669.04 332.18 L669.61 331.77 L670.18 331.34 L670.74 330.9 L671.31 330.45 L671.88 330 L672.45 329.54 L673.02 329.08 L673.59 328.61 L674.16 328.15 L674.72 327.68 L675.29 327.22 L675.86 326.76 L676.43 326.3 L677 325.85 L677.57 325.41 L678.13 324.97 L678.7 324.54 L679.27 324.13 L679.84 323.72 L680.41 323.33 L680.98 322.95 L681.55 322.59 L682.11 322.25 L682.68 321.92 L683.25 321.61 L683.82 321.33 L684.39 321.06 L684.96 320.82 L685.52 320.6 L686.09 320.4 L686.66 320.23 L687.23 320.08 L687.8 319.96 L688.37 319.87 L688.94 319.8 L689.5 319.77 L690.07 319.76 L690.64 319.78 L691.21 319.83 L691.78 319.91 L692.35 320.02 L692.91 320.16 L693.48 320.34 L694.05 320.54 L694.62 320.77 L695.19 321.03 L695.76 321.33 L696.33 321.65 L696.89 322 L697.46 322.38 L698.03 322.8 L698.6 323.24 L699.17 323.7 L699.74 324.2 L700.3 324.72 L700.87 325.27 L701.44 325.84 L702.01 326.44 L702.58 327.06 L703.15 327.71 L703.71 328.37 L704.28 329.06 L704.85 329.77 L705.42 330.49 L705.99 331.24 L706.56 332 L707.13 332.77 L707.69 333.56 L708.26 334.36 L708.83 335.17 L709.4 336 L709.97 336.83 L710.54 337.67 L711.1 338.52 L711.67 339.37 L712.24 340.22 L712.81 341.08 L713.38 341.93 L713.95 342.79 L714.52 343.65 L715.08 344.5 L715.65 345.35 L716.22 346.19 L716.79 347.03 L717.36 347.85 L717.93 348.67 L718.49 349.48 L719.06 350.28 L719.63 351.06 L720.2 351.83 L720.77 352.58 L721.34 353.32 L721.91 354.05 L722.47 354.75 L723.04 355.44 L723.61 356.1 L724.18 356.75 L724.75 357.38 L725.32 357.98 L725.88 358.56 L726.45 359.12 L727.02 359.66 L727.59 360.18 L728.16 360.67 L728.73 361.13 L729.3 361.57 L729.86 361.99 L730.43 362.39 L731 362.75 L731.57 363.1 L732.14 363.42 L732.71 363.72 L733.27 363.99 L733.84 364.24 L734.41 364.46 L734.98 364.66 L735.55 364.84 L736.12 365 L736.69 365.14 L737.25 365.25 L737.82 365.35 L738.39 365.42 L738.96 365.48 L739.53 365.52 L740.1 365.54 L740.66 365.54 L741.23 365.53 L741.8 365.51 L742.37 365.47 L742.94 365.42 L743.51 365.36 L744.08 365.28 L744.64 365.2 L745.21 365.11 L745.78 365.01 L746.35 364.91 L746.92 364.8 L747.49 364.68 L748.05 364.57 L748.62 364.45 L749.19 364.33 L749.76 364.21 L750.33 364.1 L750.9 363.99 L751.47 363.88 L752.03 363.77 L752.6 363.67 L753.17 363.58 L753.74 363.49 L754.31 363.42 L754.88 363.35 L755.44 363.3 L756.01 363.25 L756.58 363.22 L757.15 363.2 L757.72 363.19 L758.29 363.2 L758.86 363.23 L759.42 363.26 L759.99 363.32 L760.56 363.39 L761.13 363.48 L761.7 363.58 L762.27 363.7 L762.83 363.84 L763.4 364 L763.97 364.18 L764.54 364.37 L765.11 364.58 L765.68 364.81 L766.24 365.06 L766.81 365.32 L767.38 365.6 L767.95 365.9 L768.52 366.22 L769.09 366.55 L769.66 366.9 L770.22 367.27 L770.79 367.65 L771.36 368.04 L771.93 368.45 L772.5 368.87 L773.07 369.3 L773.63 369.75 L774.2 370.2 L774.77 370.67 L775.34 371.14 L775.91 371.62 L776.48 372.11 L777.05 372.61 L777.61 373.11 L778.18 373.61 L778.75 374.12 L779.32 374.63 L779.89 375.14 L780.46 375.65 L781.02 376.16 L781.59 376.66 L782.16 377.17 L782.73 377.67 L783.3 378.16 L783.87 378.64 L784.44 379.12 L785 379.59 L785.57 380.05 L786.14 380.49 L786.71 380.93 L787.28 381.35 L787.85 381.76 L788.41 382.15 L788.98 382.53 L789.55 382.88 L790.12 383.23 L790.69 383.55 L791.26 383.85 L791.83 384.14 L792.39 384.4 L792.96 384.64 L793.53 384.86 L794.1 385.06 L794.67 385.23 L795.24 385.38 L795.8 385.51 L796.37 385.61 L796.94 385.69 L797.51 385.75 L798.08 385.78 L798.65 385.78 L799.22 385.77 L799.78 385.72 L800.35 385.66 L800.92 385.57 L801.49 385.45 L802.06 385.31 L802.63 385.15 L803.19 384.97 L803.76 384.76 L804.33 384.54 L804.9 384.29 L805.47 384.02 L806.04 383.73 L806.61 383.42 L807.17 383.1 L807.74 382.76 L808.31 382.4 L808.88 382.03 L809.45 381.64 L810.02 381.24 L810.58 380.83 L811.15 380.4 L811.72 379.97 L812.29 379.53 L812.86 379.08 L813.43 378.63 L814 378.17 L814.56 377.71 L815.13 377.24 L815.7 376.78 L816.27 376.31 L816.84 375.85 L817.41 375.39 L817.97 374.93 L818.54 374.48 L819.11 374.04 L819.68 373.61 L820.25 373.18 L820.82 372.77 L821.39 372.37 L821.95 371.98 L822.52 371.61 L823.09 371.25 L823.66 370.92 L824.23 370.59 L824.8 370.29 L825.36 370.01 L825.93 369.75 L826.5 369.52 L827.07 369.3 L827.64 369.11 L828.21 368.95 L828.78 368.81" fill="none" stroke="#000" stroke-width="1.8" />
</g>
<line x1="455.3" y1="274" x2="455.3" y2="381.9" stroke="#000" stroke-width="1.4" />
<line x1="455.3" y1="343.4" x2="517.2" y2="343.4" stroke="#000" stroke-width="1.4" />
<line x1="517.2" y1="343.4" x2="517.2" y2="294" stroke="#000" stroke-width="1.4" />
<line x1="455.3" y1="381.9" x2="596.7" y2="381.9" stroke="#000" stroke-width="1.4" />
<line x1="596.7" y1="381.9" x2="596.7" y2="322" stroke="#000" stroke-width="1.4" />
<path d="M455.3 268.6 l-2.2 9 l4.4 0 Z" fill="#000"/>
<path d="M517.2 288.6 l-2.2 9 l4.4 0 Z" fill="#000"/>
<path d="M596.7 316.2 l-2.2 9 l4.4 0 Z" fill="#000"/>
<text x="486" y="338.3" font-size="16" text-anchor="middle" font-style="italic" font-weight="normal" fill="#000" >d</text>
<text x="524.8" y="376.8" font-size="16" text-anchor="middle" font-style="italic" font-weight="normal" fill="#000" >2π</text>
<circle cx="596.7" cy="309.6" r="6.3" fill="#0000ff"/>
<circle cx="657.7" cy="329.6" r="6.3" fill="#ff0000"/>
<path d="M596.1 303.1 C594.67 300.05 590.55 290.43 587.5 284.8 C584.45 279.17 581.02 273.65 577.8 269.3 C574.58 264.95 571.4 261.42 568.2 258.7 C565 255.98 561.82 254.18 558.6 253 C555.38 251.82 552.12 251.28 548.9 251.6 C545.68 251.92 542.25 253.42 539.3 254.9 C536.35 256.38 533.58 258.15 531.2 260.5 C528.82 262.85 526.78 266.08 525 269 C523.22 271.92 521.75 275.53 520.5 278 C519.25 280.47 518 282.83 517.5 283.8" fill="none" stroke="#0000ff" stroke-width="1.9"/>
<path d="M516 286.2 L517.41 277.23 L522.98 280.38 Z" fill="#0000ff"/>
<path d="M598.1 302.1 C599.22 301.3 601.75 298.58 604.8 297.3 C607.85 296.02 612.53 294.4 616.4 294.4 C620.27 294.4 624.15 295.05 628 297.3 C631.85 299.55 636.5 304.78 639.5 307.9 C642.5 311.02 644.17 313.65 646 316 C647.83 318.35 649.75 321 650.5 322" fill="none" stroke="#0000ff" stroke-width="1.9"/>
<path d="M653.2 325 L646.27 320.84 L651.05 317.21 Z" fill="#0000ff"/>
<path d="M656.9 325.2 C655.93 322.95 653.03 315.87 651.1 311.7 C649.17 307.53 647.87 304.37 645.3 300.2 C642.73 296.03 638.58 289.67 635.7 286.7 C632.82 283.73 630.58 283.3 628 282.4 C625.42 281.5 622.78 280.9 620.2 281.3 C617.62 281.7 615.07 283.1 612.5 284.8 C609.93 286.5 606.97 289.38 604.8 291.5 C602.63 293.62 600.38 296.5 599.5 297.5" fill="none" stroke="#ff0000" stroke-width="1.7" stroke-dasharray="7.6 4.2"/>
<path d="M597 300.5 L599.38 293.35 L603.66 296.96 Z" fill="#ff0000"/>
<path d="M658.4 324.5 C659.33 322.42 661.73 316.25 664 312 C666.27 307.75 669.17 302.5 672 299 C674.83 295.5 677.97 292.83 681 291 C684.03 289.17 687.2 288 690.2 288 C693.2 288 696.03 288.83 699 291 C701.97 293.17 705.17 296.83 708 301 C710.83 305.17 713.33 310.33 716 316 C718.67 321.67 721.67 329.33 724 335 C726.33 340.67 728.42 346 730 350 C731.58 354 732.92 357.5 733.5 359" fill="none" stroke="#ff0000" stroke-width="1.7" stroke-dasharray="7.6 4.2"/>
<path d="M735 363.5 L729.42 357.03 L735.05 354.96 Z" fill="#ff0000"/>
<path d="M659 324 C660.5 320.33 664.5 309.5 668 302 C671.5 294.5 675.83 286.17 680 279 C684.17 271.83 688.67 264.25 693 259 C697.33 253.75 701.63 250.1 706 247.5 C710.37 244.9 714.87 243.65 719.2 243.4 C723.53 243.15 727.7 243.82 732 246 C736.3 248.18 740.83 251.67 745 256.5 C749.17 261.33 753.17 267.75 757 275 C760.83 282.25 764.5 290.83 768 300 C771.5 309.17 775 320.5 778 330 C781 339.5 783.75 349.33 786 357 C788.25 364.67 790.58 372.83 791.5 376" fill="none" stroke="#ff0000" stroke-width="1.7" stroke-dasharray="7.6 4.2"/>
<path d="M794 383.3 L787.14 373.81 L794.84 371.63 Z" fill="#ff0000"/>
<text x="536" y="241.7" font-size="18" fill="#0000ff">Γ</text>
<text x="546.8" y="232.4" font-size="14" font-style="italic" fill="#0000ff">A</text>
<text x="547.5" y="246.7" font-size="14" font-style="italic" fill="#0000ff">-1</text>
<text x="596.3" y="282.2" font-size="18" fill="#0000ff">Γ</text>
<text x="607.1" y="272.9" font-size="14" font-style="italic" fill="#0000ff">A</text>
<text x="607.8" y="287.2" font-size="14" font-style="italic" fill="#0000ff">1</text>
<text x="628.6" y="277" font-size="18" fill="#ff0000">Γ</text>
<text x="639.4" y="267.7" font-size="14" font-style="italic" fill="#ff0000">B</text>
<text x="640.1" y="282" font-size="14" font-style="italic" fill="#ff0000">-1</text>
<text x="698.7" y="280.2" font-size="18" fill="#ff0000">Γ</text>
<text x="709.5" y="270.9" font-size="14" font-style="italic" fill="#ff0000">B</text>
<text x="710.2" y="285.2" font-size="14" font-style="italic" fill="#ff0000">1</text>
<text x="741.3" y="245.3" font-size="18" fill="#ff0000">Γ</text>
<text x="752.1" y="236" font-size="14" font-style="italic" fill="#ff0000">B</text>
<text x="752.8" y="250.3" font-size="14" font-style="italic" fill="#ff0000">2</text>
<rect x="431.6" y="222.6" width="396.9" height="180.4" fill="none" stroke="#000" stroke-width="1.2"/>
<line x1="436.6" y1="403" x2="436.6" y2="399" stroke="#000" stroke-width="0.8" />
<line x1="436.6" y1="222.6" x2="436.6" y2="226.6" stroke="#000" stroke-width="0.8" />
<text x="439.2" y="433.3" font-size="21.5" text-anchor="middle" font-style="italic" font-weight="normal" fill="#000" >-2</text>
<line x1="481.6" y1="403" x2="481.6" y2="399" stroke="#000" stroke-width="0.8" />
<line x1="481.6" y1="222.6" x2="481.6" y2="226.6" stroke="#000" stroke-width="0.8" />
<text x="484.2" y="433.3" font-size="21.5" text-anchor="middle" font-style="italic" font-weight="normal" fill="#000" >0</text>
<line x1="526.6" y1="403" x2="526.6" y2="399" stroke="#000" stroke-width="0.8" />
<line x1="526.6" y1="222.6" x2="526.6" y2="226.6" stroke="#000" stroke-width="0.8" />
<text x="529.2" y="433.3" font-size="21.5" text-anchor="middle" font-style="italic" font-weight="normal" fill="#000" >2</text>
<line x1="571.6" y1="403" x2="571.6" y2="399" stroke="#000" stroke-width="0.8" />
<line x1="571.6" y1="222.6" x2="571.6" y2="226.6" stroke="#000" stroke-width="0.8" />
<text x="574.2" y="433.3" font-size="21.5" text-anchor="middle" font-style="italic" font-weight="normal" fill="#000" >4</text>
<line x1="616.6" y1="403" x2="616.6" y2="399" stroke="#000" stroke-width="0.8" />
<line x1="616.6" y1="222.6" x2="616.6" y2="226.6" stroke="#000" stroke-width="0.8" />
<text x="619.2" y="433.3" font-size="21.5" text-anchor="middle" font-style="italic" font-weight="normal" fill="#000" >6</text>
<line x1="661.6" y1="403" x2="661.6" y2="399" stroke="#000" stroke-width="0.8" />
<line x1="661.6" y1="222.6" x2="661.6" y2="226.6" stroke="#000" stroke-width="0.8" />
<text x="664.2" y="433.3" font-size="21.5" text-anchor="middle" font-style="italic" font-weight="normal" fill="#000" >8</text>
<line x1="706.6" y1="403" x2="706.6" y2="399" stroke="#000" stroke-width="0.8" />
<line x1="706.6" y1="222.6" x2="706.6" y2="226.6" stroke="#000" stroke-width="0.8" />
<text x="709.2" y="433.3" font-size="21.5" text-anchor="middle" font-style="italic" font-weight="normal" fill="#000" >10</text>
<line x1="751.6" y1="403" x2="751.6" y2="399" stroke="#000" stroke-width="0.8" />
<line x1="751.6" y1="222.6" x2="751.6" y2="226.6" stroke="#000" stroke-width="0.8" />
<text x="754.2" y="433.3" font-size="21.5" text-anchor="middle" font-style="italic" font-weight="normal" fill="#000" >12</text>
<line x1="796.6" y1="403" x2="796.6" y2="399" stroke="#000" stroke-width="0.8" />
<line x1="796.6" y1="222.6" x2="796.6" y2="226.6" stroke="#000" stroke-width="0.8" />
<text x="799.2" y="433.3" font-size="21.5" text-anchor="middle" font-style="italic" font-weight="normal" fill="#000" >14</text>
<text x="439" y="243.5" font-size="23" text-anchor="start" font-style="normal" font-weight="bold" fill="#000" >(c)</text>
<text transform="translate(419.3,312) rotate(-90)" font-size="23.5" font-style="italic" text-anchor="middle">U(ϕ)</text>
<text x="631.5" y="455" font-size="25.5" text-anchor="middle" font-style="italic" font-weight="normal" fill="#000" >φ</text>
<clipPath id="cd0"><rect x="44.2" y="470.0" width="253.2" height="150.0"/></clipPath>
<line x1="128.6" y1="470" x2="128.6" y2="620" stroke="#aaa" stroke-width="1.1" />
<line x1="213" y1="470" x2="213" y2="620" stroke="#aaa" stroke-width="1.1" />
<g clip-path="url(#cd0)">
<path d="M44.2 553.83 L45.25 553.78 L46.31 553.69 L47.37 553.54 L48.42 553.34 L49.47 553.09 L50.53 552.79 L51.58 552.44 L52.64 552.05 L53.69 551.61 L54.75 551.14 L55.8 550.62 L56.86 550.07 L57.92 549.49 L58.97 548.88 L60.02 548.25 L61.08 547.59 L62.13 546.92 L63.19 546.24 L64.25 545.55 L65.3 544.85 L66.35 544.16 L67.41 543.47 L68.47 542.79 L69.52 542.12 L70.57 541.47 L71.63 540.84 L72.68 540.24 L73.74 539.66 L74.8 539.12 L75.85 538.61 L76.9 538.14 L77.96 537.71 L79.02 537.32 L80.07 536.99 L81.12 536.7 L82.18 536.46 L83.23 536.27 L84.29 536.13 L85.34 536.05 L86.4 536.03 L87.45 536.05 L88.51 536.13 L89.56 536.27 L90.62 536.46 L91.67 536.7 L92.73 536.99 L93.78 537.32 L94.84 537.71 L95.89 538.14 L96.95 538.61 L98 539.12 L99.06 539.66 L100.11 540.24 L101.17 540.84 L102.22 541.47 L103.28 542.12 L104.33 542.79 L105.39 543.47 L106.44 544.16 L107.5 544.85 L108.55 545.55 L109.61 546.24 L110.66 546.92 L111.72 547.59 L112.77 548.25 L113.83 548.88 L114.88 549.49 L115.94 550.07 L116.99 550.62 L118.05 551.14 L119.1 551.61 L120.16 552.05 L121.22 552.44 L122.27 552.79 L123.32 553.09 L124.38 553.34 L125.43 553.54 L126.49 553.69 L127.54 553.78 L128.6 553.83 L129.65 553.81 L130.71 553.74 L131.76 553.62 L132.82 553.45 L133.88 553.23 L134.93 552.96 L135.99 552.63 L137.04 552.27 L138.09 551.86 L139.15 551.4 L140.2 550.91 L141.26 550.39 L142.31 549.83 L143.37 549.24 L144.42 548.63 L145.48 548 L146.53 547.35 L147.59 546.69 L148.64 546.02 L149.7 545.35 L150.75 544.67 L151.81 544 L152.86 543.34 L153.92 542.69 L154.97 542.05 L156.03 541.44 L157.09 540.85 L158.14 540.28 L159.19 539.75 L160.25 539.25 L161.31 538.79 L162.36 538.37 L163.41 538 L164.47 537.67 L165.52 537.38 L166.58 537.15 L167.63 536.96 L168.69 536.83 L169.74 536.75 L170.8 536.72 L171.85 536.75 L172.91 536.83 L173.97 536.96 L175.02 537.15 L176.07 537.38 L177.13 537.67 L178.19 538 L179.24 538.37 L180.29 538.79 L181.35 539.25 L182.41 539.75 L183.46 540.28 L184.51 540.85 L185.57 541.44 L186.62 542.05 L187.68 542.69 L188.73 543.34 L189.79 544 L190.84 544.67 L191.9 545.35 L192.95 546.02 L194.01 546.69 L195.06 547.35 L196.12 548 L197.17 548.63 L198.23 549.24 L199.28 549.83 L200.34 550.39 L201.39 550.91 L202.45 551.4 L203.5 551.86 L204.56 552.27 L205.61 552.63 L206.67 552.96 L207.72 553.23 L208.78 553.45 L209.83 553.62 L210.89 553.74 L211.94 553.81 L213 553.83 L214.06 553.78 L215.11 553.69 L216.16 553.54 L217.22 553.34 L218.27 553.09 L219.33 552.79 L220.38 552.44 L221.44 552.05 L222.5 551.61 L223.55 551.14 L224.6 550.62 L225.66 550.07 L226.71 549.49 L227.77 548.88 L228.82 548.25 L229.88 547.59 L230.93 546.92 L231.99 546.24 L233.05 545.55 L234.1 544.85 L235.15 544.16 L236.21 543.47 L237.26 542.79 L238.32 542.12 L239.37 541.47 L240.43 540.84 L241.48 540.24 L242.54 539.66 L243.59 539.12 L244.65 538.61 L245.7 538.14 L246.76 537.71 L247.81 537.32 L248.87 536.99 L249.92 536.7 L250.98 536.46 L252.04 536.27 L253.09 536.13 L254.14 536.05 L255.2 536.03 L256.25 536.05 L257.31 536.13 L258.37 536.27 L259.42 536.46 L260.47 536.7 L261.53 536.99 L262.59 537.32 L263.64 537.71 L264.69 538.14 L265.75 538.61 L266.81 539.12 L267.86 539.66 L268.91 540.24 L269.97 540.84 L271.02 541.47 L272.08 542.12 L273.13 542.79 L274.19 543.47 L275.25 544.16 L276.3 544.85 L277.36 545.55 L278.41 546.24 L279.46 546.92 L280.52 547.59 L281.57 548.25 L282.63 548.88 L283.69 549.49 L284.74 550.07 L285.79 550.62 L286.85 551.14 L287.9 551.61 L288.96 552.05 L290.01 552.44 L291.07 552.79 L292.12 553.09 L293.18 553.34 L294.24 553.54 L295.29 553.69 L296.35 553.78 L297.4 553.83" fill="none" stroke="#8b1a1a" stroke-width="1.7" />
<path d="M44.2 529.16 L45.25 529.32 L46.31 529.43 L47.37 529.49 L48.42 529.5 L49.47 529.45 L50.53 529.36 L51.58 529.21 L52.64 529.03 L53.69 528.79 L54.75 528.52 L55.8 528.21 L56.86 527.87 L57.92 527.49 L58.97 527.09 L60.02 526.66 L61.08 526.21 L62.13 525.75 L63.19 525.27 L64.25 524.78 L65.3 524.3 L66.35 523.81 L67.41 523.32 L68.47 522.85 L69.52 522.39 L70.57 521.94 L71.63 521.52 L72.68 521.12 L73.74 520.75 L74.8 520.41 L75.85 520.11 L76.9 519.84 L77.96 519.62 L79.02 519.44 L80.07 519.31 L81.12 519.22 L82.18 519.19 L83.23 519.21 L84.29 519.28 L85.34 519.4 L86.4 519.58 L87.45 519.81 L88.51 520.1 L89.56 520.44 L90.62 520.83 L91.67 521.28 L92.73 521.77 L93.78 522.32 L94.84 522.91 L95.89 523.54 L96.95 524.22 L98 524.93 L99.06 525.68 L100.11 526.46 L101.17 527.27 L102.22 528.11 L103.28 528.96 L104.33 529.84 L105.39 530.72 L106.44 531.62 L107.5 532.52 L108.55 533.42 L109.61 534.31 L110.66 535.2 L111.72 536.08 L112.77 536.94 L113.83 537.78 L114.88 538.59 L115.94 539.38 L116.99 540.14 L118.05 540.86 L119.1 541.54 L120.16 542.18 L121.22 542.78 L122.27 543.34 L123.32 543.84 L124.38 544.3 L125.43 544.7 L126.49 545.06 L127.54 545.36 L128.6 545.6 L129.65 545.79 L130.71 545.93 L131.76 546.02 L132.82 546.05 L133.88 546.03 L134.93 545.97 L135.99 545.85 L137.04 545.69 L138.09 545.48 L139.15 545.24 L140.2 544.95 L141.26 544.63 L142.31 544.28 L143.37 543.9 L144.42 543.49 L145.48 543.07 L146.53 542.62 L147.59 542.17 L148.64 541.7 L149.7 541.24 L150.75 540.77 L151.81 540.3 L152.86 539.84 L153.92 539.4 L154.97 538.97 L156.03 538.56 L157.09 538.17 L158.14 537.82 L159.19 537.49 L160.25 537.2 L161.31 536.94 L162.36 536.73 L163.41 536.56 L164.47 536.43 L165.52 536.35 L166.58 536.32 L167.63 536.35 L168.69 536.42 L169.74 536.55 L170.8 536.72 L171.85 536.96 L172.91 537.24 L173.97 537.58 L175.02 537.97 L176.07 538.41 L177.13 538.9 L178.19 539.44 L179.24 540.02 L180.29 540.64 L181.35 541.31 L182.41 542.01 L183.46 542.75 L184.51 543.52 L185.57 544.31 L186.62 545.13 L187.68 545.98 L188.73 546.83 L189.79 547.7 L190.84 548.58 L191.9 549.46 L192.95 550.34 L194.01 551.21 L195.06 552.08 L196.12 552.94 L197.17 553.77 L198.23 554.59 L199.28 555.38 L200.34 556.14 L201.39 556.87 L202.45 557.57 L203.5 558.23 L204.56 558.85 L205.61 559.42 L206.67 559.95 L207.72 560.42 L208.78 560.85 L209.83 561.23 L210.89 561.56 L211.94 561.83 L213 562.05 L214.06 562.21 L215.11 562.32 L216.16 562.38 L217.22 562.39 L218.27 562.34 L219.33 562.25 L220.38 562.11 L221.44 561.92 L222.5 561.69 L223.55 561.41 L224.6 561.1 L225.66 560.76 L226.71 560.38 L227.77 559.98 L228.82 559.55 L229.88 559.1 L230.93 558.64 L231.99 558.16 L233.05 557.68 L234.1 557.19 L235.15 556.7 L236.21 556.22 L237.26 555.74 L238.32 555.28 L239.37 554.83 L240.43 554.41 L241.48 554.01 L242.54 553.64 L243.59 553.3 L244.65 553 L245.7 552.73 L246.76 552.51 L247.81 552.33 L248.87 552.2 L249.92 552.12 L250.98 552.08 L252.04 552.1 L253.09 552.17 L254.14 552.29 L255.2 552.47 L256.25 552.7 L257.31 552.99 L258.37 553.33 L259.42 553.73 L260.47 554.17 L261.53 554.67 L262.59 555.21 L263.64 555.8 L264.69 556.43 L265.75 557.11 L266.81 557.82 L267.86 558.57 L268.91 559.36 L269.97 560.17 L271.02 561 L272.08 561.86 L273.13 562.73 L274.19 563.62 L275.25 564.51 L276.3 565.41 L277.36 566.31 L278.41 567.21 L279.46 568.1 L280.52 568.97 L281.57 569.83 L282.63 570.67 L283.69 571.49 L284.74 572.27 L285.79 573.03 L286.85 573.75 L287.9 574.43 L288.96 575.08 L290.01 575.67 L291.07 576.23 L292.12 576.73 L293.18 577.19 L294.24 577.6 L295.29 577.95 L296.35 578.25 L297.4 578.49" fill="none" stroke="#1010b4" stroke-width="1.7" />
<path d="M44.2 504.49 L45.25 504.86 L46.31 505.17 L47.37 505.44 L48.42 505.65 L49.47 505.81 L50.53 505.92 L51.58 505.98 L52.64 506 L53.69 505.98 L54.75 505.91 L55.8 505.8 L56.86 505.67 L57.92 505.49 L58.97 505.3 L60.02 505.07 L61.08 504.83 L62.13 504.57 L63.19 504.3 L64.25 504.02 L65.3 503.74 L66.35 503.45 L67.41 503.18 L68.47 502.91 L69.52 502.65 L70.57 502.41 L71.63 502.19 L72.68 502 L73.74 501.83 L74.8 501.7 L75.85 501.6 L76.9 501.55 L77.96 501.53 L79.02 501.55 L80.07 501.63 L81.12 501.75 L82.18 501.92 L83.23 502.14 L84.29 502.42 L85.34 502.75 L86.4 503.13 L87.45 503.57 L88.51 504.06 L89.56 504.61 L90.62 505.21 L91.67 505.86 L92.73 506.56 L93.78 507.31 L94.84 508.11 L95.89 508.95 L96.95 509.83 L98 510.75 L99.06 511.7 L100.11 512.69 L101.17 513.71 L102.22 514.75 L103.28 515.81 L104.33 516.89 L105.39 517.98 L106.44 519.08 L107.5 520.18 L108.55 521.29 L109.61 522.39 L110.66 523.48 L111.72 524.57 L112.77 525.63 L113.83 526.68 L114.88 527.7 L115.94 528.69 L116.99 529.65 L118.05 530.58 L119.1 531.47 L120.16 532.32 L121.22 533.12 L122.27 533.88 L123.32 534.59 L124.38 535.25 L125.43 535.86 L126.49 536.42 L127.54 536.93 L128.6 537.38 L129.65 537.78 L130.71 538.12 L131.76 538.41 L132.82 538.65 L133.88 538.84 L134.93 538.98 L135.99 539.07 L137.04 539.11 L138.09 539.11 L139.15 539.07 L140.2 538.99 L141.26 538.87 L142.31 538.73 L143.37 538.55 L144.42 538.35 L145.48 538.13 L146.53 537.9 L147.59 537.65 L148.64 537.39 L149.7 537.12 L150.75 536.86 L151.81 536.6 L152.86 536.35 L153.92 536.11 L154.97 535.88 L156.03 535.68 L157.09 535.5 L158.14 535.35 L159.19 535.23 L160.25 535.14 L161.31 535.09 L162.36 535.08 L163.41 535.12 L164.47 535.2 L165.52 535.33 L166.58 535.5 L167.63 535.73 L168.69 536.01 L169.74 536.34 L170.8 536.72 L171.85 537.16 L172.91 537.65 L173.97 538.2 L175.02 538.79 L176.07 539.44 L177.13 540.13 L178.19 540.87 L179.24 541.66 L180.29 542.49 L181.35 543.36 L182.41 544.27 L183.46 545.22 L184.51 546.19 L185.57 547.19 L186.62 548.22 L187.68 549.26 L188.73 550.33 L189.79 551.4 L190.84 552.48 L191.9 553.57 L192.95 554.66 L194.01 555.74 L195.06 556.81 L196.12 557.87 L197.17 558.91 L198.23 559.93 L199.28 560.93 L200.34 561.9 L201.39 562.84 L202.45 563.74 L203.5 564.6 L204.56 565.42 L205.61 566.2 L206.67 566.93 L207.72 567.62 L208.78 568.25 L209.83 568.84 L210.89 569.37 L211.94 569.85 L213 570.27 L214.06 570.64 L215.11 570.96 L216.16 571.22 L217.22 571.43 L218.27 571.59 L219.33 571.71 L220.38 571.77 L221.44 571.79 L222.5 571.76 L223.55 571.69 L224.6 571.59 L225.66 571.45 L226.71 571.28 L227.77 571.08 L228.82 570.86 L229.88 570.62 L230.93 570.36 L231.99 570.09 L233.05 569.81 L234.1 569.52 L235.15 569.24 L236.21 568.96 L237.26 568.69 L238.32 568.44 L239.37 568.2 L240.43 567.98 L241.48 567.78 L242.54 567.62 L243.59 567.49 L244.65 567.39 L245.7 567.33 L246.76 567.31 L247.81 567.34 L248.87 567.41 L249.92 567.53 L250.98 567.71 L252.04 567.93 L253.09 568.2 L254.14 568.53 L255.2 568.92 L256.25 569.36 L257.31 569.85 L258.37 570.4 L259.42 570.99 L260.47 571.65 L261.53 572.35 L262.59 573.1 L263.64 573.89 L264.69 574.73 L265.75 575.61 L266.81 576.53 L267.86 577.49 L268.91 578.47 L269.97 579.49 L271.02 580.53 L272.08 581.59 L273.13 582.67 L274.19 583.76 L275.25 584.86 L276.3 585.97 L277.36 587.07 L278.41 588.18 L279.46 589.27 L280.52 590.35 L281.57 591.42 L282.63 592.46 L283.69 593.48 L284.74 594.47 L285.79 595.44 L286.85 596.36 L287.9 597.25 L288.96 598.1 L290.01 598.91 L291.07 599.66 L292.12 600.38 L293.18 601.04 L294.24 601.65 L295.29 602.21 L296.35 602.71 L297.4 603.16" fill="none" stroke="#ffa500" stroke-width="1.7" />
<path d="M44.2 479.82 L45.25 480.39 L46.31 480.92 L47.37 481.39 L48.42 481.8 L49.47 482.17 L50.53 482.48 L51.58 482.75 L52.64 482.98 L53.69 483.16 L54.75 483.3 L55.8 483.4 L56.86 483.46 L57.92 483.5 L58.97 483.5 L60.02 483.49 L61.08 483.45 L62.13 483.4 L63.19 483.33 L64.25 483.26 L65.3 483.18 L66.35 483.1 L67.41 483.03 L68.47 482.97 L69.52 482.92 L70.57 482.88 L71.63 482.87 L72.68 482.88 L73.74 482.92 L74.8 482.99 L75.85 483.1 L76.9 483.25 L77.96 483.44 L79.02 483.67 L80.07 483.95 L81.12 484.27 L82.18 484.65 L83.23 485.08 L84.29 485.56 L85.34 486.1 L86.4 486.69 L87.45 487.33 L88.51 488.03 L89.56 488.78 L90.62 489.59 L91.67 490.44 L92.73 491.35 L93.78 492.3 L94.84 493.3 L95.89 494.35 L96.95 495.44 L98 496.56 L99.06 497.72 L100.11 498.92 L101.17 500.14 L102.22 501.38 L103.28 502.65 L104.33 503.93 L105.39 505.23 L106.44 506.54 L107.5 507.85 L108.55 509.16 L109.61 510.47 L110.66 511.77 L111.72 513.05 L112.77 514.32 L113.83 515.58 L114.88 516.8 L115.94 518 L116.99 519.17 L118.05 520.3 L119.1 521.39 L120.16 522.45 L121.22 523.46 L122.27 524.42 L123.32 525.34 L124.38 526.21 L125.43 527.02 L126.49 527.79 L127.54 528.5 L128.6 529.16 L129.65 529.76 L130.71 530.31 L131.76 530.81 L132.82 531.25 L133.88 531.64 L134.93 531.99 L135.99 532.28 L137.04 532.53 L138.09 532.74 L139.15 532.9 L140.2 533.03 L141.26 533.12 L142.31 533.18 L143.37 533.21 L144.42 533.21 L145.48 533.2 L146.53 533.17 L147.59 533.12 L148.64 533.07 L149.7 533.01 L150.75 532.95 L151.81 532.9 L152.86 532.85 L153.92 532.82 L154.97 532.8 L156.03 532.8 L157.09 532.83 L158.14 532.88 L159.19 532.97 L160.25 533.09 L161.31 533.24 L162.36 533.44 L163.41 533.68 L164.47 533.96 L165.52 534.3 L166.58 534.68 L167.63 535.11 L168.69 535.6 L169.74 536.13 L170.8 536.72 L171.85 537.37 L172.91 538.06 L173.97 538.81 L175.02 539.61 L176.07 540.47 L177.13 541.37 L178.19 542.31 L179.24 543.31 L180.29 544.34 L181.35 545.42 L182.41 546.53 L183.46 547.68 L184.51 548.86 L185.57 550.07 L186.62 551.3 L187.68 552.55 L188.73 553.82 L189.79 555.1 L190.84 556.39 L191.9 557.68 L192.95 558.97 L194.01 560.26 L195.06 561.54 L196.12 562.8 L197.17 564.05 L198.23 565.28 L199.28 566.48 L200.34 567.66 L201.39 568.8 L202.45 569.91 L203.5 570.97 L204.56 572 L205.61 572.99 L206.67 573.92 L207.72 574.81 L208.78 575.65 L209.83 576.44 L210.89 577.18 L211.94 577.86 L213 578.49 L214.06 579.07 L215.11 579.59 L216.16 580.06 L217.22 580.48 L218.27 580.85 L219.33 581.16 L220.38 581.43 L221.44 581.65 L222.5 581.83 L223.55 581.97 L224.6 582.07 L225.66 582.14 L226.71 582.18 L227.77 582.18 L228.82 582.17 L229.88 582.13 L230.93 582.07 L231.99 582.01 L233.05 581.93 L234.1 581.86 L235.15 581.78 L236.21 581.71 L237.26 581.64 L238.32 581.59 L239.37 581.56 L240.43 581.55 L241.48 581.56 L242.54 581.6 L243.59 581.67 L244.65 581.78 L245.7 581.93 L246.76 582.11 L247.81 582.35 L248.87 582.62 L249.92 582.95 L250.98 583.33 L252.04 583.76 L253.09 584.24 L254.14 584.78 L255.2 585.36 L256.25 586.01 L257.31 586.71 L258.37 587.46 L259.42 588.26 L260.47 589.12 L261.53 590.03 L262.59 590.98 L263.64 591.98 L264.69 593.03 L265.75 594.11 L266.81 595.24 L267.86 596.4 L268.91 597.59 L269.97 598.81 L271.02 600.06 L272.08 601.33 L273.13 602.61 L274.19 603.91 L275.25 605.22 L276.3 606.53 L277.36 607.84 L278.41 609.15 L279.46 610.44 L280.52 611.73 L281.57 613 L282.63 614.25 L283.69 615.48 L284.74 616.68 L285.79 617.84 L286.85 618.98 L287.9 620.07 L288.96 621.13 L290.01 622.14 L291.07 623.1 L292.12 624.02 L293.18 624.88 L294.24 625.7 L295.29 626.46 L296.35 627.18 L297.4 627.83" fill="none" stroke="#0f6e0f" stroke-width="1.7" />
</g>
<rect x="44.2" y="470.0" width="253.2" height="150.0" fill="none" stroke="#2a2a2a" stroke-width="1.4" rx="0.8"/>
<line x1="86.4" y1="620" x2="86.4" y2="616" stroke="#444" stroke-width="0.8" />
<line x1="86.4" y1="470" x2="86.4" y2="474" stroke="#444" stroke-width="0.8" />
<line x1="170.8" y1="620" x2="170.8" y2="616" stroke="#444" stroke-width="0.8" />
<line x1="170.8" y1="470" x2="170.8" y2="474" stroke="#444" stroke-width="0.8" />
<line x1="255.2" y1="620" x2="255.2" y2="616" stroke="#444" stroke-width="0.8" />
<line x1="255.2" y1="470" x2="255.2" y2="474" stroke="#444" stroke-width="0.8" />
<line x1="44.2" y1="614.9" x2="48.2" y2="614.9" stroke="#444" stroke-width="0.8" />
<line x1="297.4" y1="614.9" x2="293.4" y2="614.9" stroke="#444" stroke-width="0.8" />
<text x="36.8" y="622.4" font-size="22" text-anchor="end" font-style="italic" font-weight="normal" fill="#000" >-4</text>
<line x1="44.2" y1="580" x2="48.2" y2="580" stroke="#444" stroke-width="0.8" />
<line x1="297.4" y1="580" x2="293.4" y2="580" stroke="#444" stroke-width="0.8" />
<text x="36.8" y="587.5" font-size="22" text-anchor="end" font-style="italic" font-weight="normal" fill="#000" >-2</text>
<line x1="44.2" y1="545.1" x2="48.2" y2="545.1" stroke="#444" stroke-width="0.8" />
<line x1="297.4" y1="545.1" x2="293.4" y2="545.1" stroke="#444" stroke-width="0.8" />
<text x="36.8" y="552.6" font-size="22" text-anchor="end" font-style="italic" font-weight="normal" fill="#000" >0</text>
<line x1="44.2" y1="510.2" x2="48.2" y2="510.2" stroke="#444" stroke-width="0.8" />
<line x1="297.4" y1="510.2" x2="293.4" y2="510.2" stroke="#444" stroke-width="0.8" />
<text x="36.8" y="517.7" font-size="22" text-anchor="end" font-style="italic" font-weight="normal" fill="#000" >2</text>
<line x1="44.2" y1="475.3" x2="48.2" y2="475.3" stroke="#444" stroke-width="0.8" />
<line x1="297.4" y1="475.3" x2="293.4" y2="475.3" stroke="#444" stroke-width="0.8" />
<text x="36.8" y="482.8" font-size="22" text-anchor="end" font-style="italic" font-weight="normal" fill="#000" >4</text>
<text x="46.7" y="613.8" font-size="23.4" text-anchor="start" font-style="normal" font-weight="bold" fill="#000" >(d1)</text>
<text x="255.6" y="490.8" font-size="23" text-anchor="middle" font-style="italic" font-weight="normal" fill="#000" >α = 0.02</text>
<text transform="translate(16,545) rotate(-90)" font-size="23" font-style="italic" text-anchor="middle">U(φ)</text>
<clipPath id="cd3"><rect x="44.2" y="627.7" width="253.2" height="144.5999999999999"/></clipPath>
<line x1="128.6" y1="627.7" x2="128.6" y2="772.3" stroke="#aaa" stroke-width="1.1" />
<line x1="213" y1="627.7" x2="213" y2="772.3" stroke="#aaa" stroke-width="1.1" />
<g clip-path="url(#cd3)">
<path d="M44.2 712.82 L45.25 712.67 L46.31 712.47 L47.37 712.23 L48.42 711.93 L49.47 711.59 L50.53 711.2 L51.58 710.77 L52.64 710.3 L53.69 709.79 L54.75 709.25 L55.8 708.67 L56.86 708.06 L57.92 707.42 L58.97 706.77 L60.02 706.09 L61.08 705.39 L62.13 704.69 L63.19 703.97 L64.25 703.25 L65.3 702.53 L66.35 701.81 L67.41 701.1 L68.47 700.41 L69.52 699.72 L70.57 699.06 L71.63 698.42 L72.68 697.81 L73.74 697.22 L74.8 696.67 L75.85 696.16 L76.9 695.69 L77.96 695.25 L79.02 694.87 L80.07 694.53 L81.12 694.24 L82.18 694 L83.23 693.81 L84.29 693.67 L85.34 693.59 L86.4 693.56 L87.45 693.59 L88.51 693.67 L89.56 693.81 L90.62 694 L91.67 694.24 L92.73 694.53 L93.78 694.87 L94.84 695.25 L95.89 695.69 L96.95 696.16 L98 696.67 L99.06 697.22 L100.11 697.81 L101.17 698.42 L102.22 699.06 L103.28 699.72 L104.33 700.41 L105.39 701.1 L106.44 701.81 L107.5 702.53 L108.55 703.25 L109.61 703.97 L110.66 704.69 L111.72 705.39 L112.77 706.09 L113.83 706.77 L114.88 707.42 L115.94 708.06 L116.99 708.67 L118.05 709.25 L119.1 709.79 L120.16 710.3 L121.22 710.77 L122.27 711.2 L123.32 711.59 L124.38 711.93 L125.43 712.23 L126.49 712.47 L127.54 712.67 L128.6 712.82 L129.65 712.93 L130.71 712.98 L131.76 712.98 L132.82 712.93 L133.88 712.84 L134.93 712.7 L135.99 712.51 L137.04 712.28 L138.09 712.01 L139.15 711.7 L140.2 711.36 L141.26 710.97 L142.31 710.56 L143.37 710.12 L144.42 709.65 L145.48 709.17 L146.53 708.66 L147.59 708.14 L148.64 707.61 L149.7 707.07 L150.75 706.53 L151.81 705.99 L152.86 705.45 L153.92 704.92 L154.97 704.4 L156.03 703.89 L157.09 703.41 L158.14 702.94 L159.19 702.5 L160.25 702.09 L161.31 701.71 L162.36 701.36 L163.41 701.05 L164.47 700.77 L165.52 700.53 L166.58 700.34 L167.63 700.18 L168.69 700.07 L169.74 700.01 L170.8 699.98 L171.85 700.01 L172.91 700.07 L173.97 700.18 L175.02 700.34 L176.07 700.53 L177.13 700.77 L178.19 701.05 L179.24 701.36 L180.29 701.71 L181.35 702.09 L182.41 702.5 L183.46 702.94 L184.51 703.41 L185.57 703.89 L186.62 704.4 L187.68 704.92 L188.73 705.45 L189.79 705.99 L190.84 706.53 L191.9 707.07 L192.95 707.61 L194.01 708.14 L195.06 708.66 L196.12 709.17 L197.17 709.65 L198.23 710.12 L199.28 710.56 L200.34 710.97 L201.39 711.36 L202.45 711.7 L203.5 712.01 L204.56 712.28 L205.61 712.51 L206.67 712.7 L207.72 712.84 L208.78 712.93 L209.83 712.98 L210.89 712.98 L211.94 712.93 L213 712.82 L214.06 712.67 L215.11 712.47 L216.16 712.23 L217.22 711.93 L218.27 711.59 L219.33 711.2 L220.38 710.77 L221.44 710.3 L222.5 709.79 L223.55 709.25 L224.6 708.67 L225.66 708.06 L226.71 707.42 L227.77 706.77 L228.82 706.09 L229.88 705.39 L230.93 704.69 L231.99 703.97 L233.05 703.25 L234.1 702.53 L235.15 701.81 L236.21 701.1 L237.26 700.41 L238.32 699.72 L239.37 699.06 L240.43 698.42 L241.48 697.81 L242.54 697.22 L243.59 696.67 L244.65 696.16 L245.7 695.69 L246.76 695.25 L247.81 694.87 L248.87 694.53 L249.92 694.24 L250.98 694 L252.04 693.81 L253.09 693.67 L254.14 693.59 L255.2 693.56 L256.25 693.59 L257.31 693.67 L258.37 693.81 L259.42 694 L260.47 694.24 L261.53 694.53 L262.59 694.87 L263.64 695.25 L264.69 695.69 L265.75 696.16 L266.81 696.67 L267.86 697.22 L268.91 697.81 L269.97 698.42 L271.02 699.06 L272.08 699.72 L273.13 700.41 L274.19 701.1 L275.25 701.81 L276.3 702.53 L277.36 703.25 L278.41 703.97 L279.46 704.69 L280.52 705.39 L281.57 706.09 L282.63 706.77 L283.69 707.42 L284.74 708.06 L285.79 708.67 L286.85 709.25 L287.9 709.79 L288.96 710.3 L290.01 710.77 L291.07 711.2 L292.12 711.59 L293.18 711.93 L294.24 712.23 L295.29 712.47 L296.35 712.67 L297.4 712.82" fill="none" stroke="#8b1a1a" stroke-width="1.7" />
<path d="M44.2 690.13 L45.25 690.17 L46.31 690.16 L47.37 690.1 L48.42 690 L49.47 689.84 L50.53 689.65 L51.58 689.4 L52.64 689.12 L53.69 688.8 L54.75 688.45 L55.8 688.06 L56.86 687.64 L57.92 687.19 L58.97 686.72 L60.02 686.23 L61.08 685.73 L62.13 685.21 L63.19 684.68 L64.25 684.15 L65.3 683.62 L66.35 683.09 L67.41 682.57 L68.47 682.06 L69.52 681.57 L70.57 681.1 L71.63 680.65 L72.68 680.22 L73.74 679.83 L74.8 679.47 L75.85 679.14 L76.9 678.86 L77.96 678.62 L79.02 678.42 L80.07 678.27 L81.12 678.17 L82.18 678.11 L83.23 678.11 L84.29 678.17 L85.34 678.28 L86.4 678.44 L87.45 678.65 L88.51 678.93 L89.56 679.25 L90.62 679.63 L91.67 680.06 L92.73 680.54 L93.78 681.06 L94.84 681.64 L95.89 682.26 L96.95 682.92 L98 683.63 L99.06 684.37 L100.11 685.14 L101.17 685.94 L102.22 686.77 L103.28 687.62 L104.33 688.49 L105.39 689.38 L106.44 690.28 L107.5 691.19 L108.55 692.09 L109.61 693 L110.66 693.91 L111.72 694.8 L112.77 695.69 L113.83 696.56 L114.88 697.4 L115.94 698.23 L116.99 699.02 L118.05 699.79 L119.1 700.53 L120.16 701.22 L121.22 701.88 L122.27 702.5 L123.32 703.08 L124.38 703.61 L125.43 704.1 L126.49 704.53 L127.54 704.92 L128.6 705.26 L129.65 705.55 L130.71 705.79 L131.76 705.98 L132.82 706.13 L133.88 706.22 L134.93 706.27 L135.99 706.27 L137.04 706.23 L138.09 706.15 L139.15 706.03 L140.2 705.87 L141.26 705.68 L142.31 705.46 L143.37 705.2 L144.42 704.93 L145.48 704.63 L146.53 704.31 L147.59 703.98 L148.64 703.64 L149.7 703.29 L150.75 702.93 L151.81 702.58 L152.86 702.23 L153.92 701.89 L154.97 701.56 L156.03 701.25 L157.09 700.95 L158.14 700.67 L159.19 700.42 L160.25 700.2 L161.31 700.01 L162.36 699.85 L163.41 699.72 L164.47 699.64 L165.52 699.59 L166.58 699.58 L167.63 699.62 L168.69 699.7 L169.74 699.82 L170.8 699.98 L171.85 700.2 L172.91 700.45 L173.97 700.75 L175.02 701.09 L176.07 701.48 L177.13 701.91 L178.19 702.37 L179.24 702.87 L180.29 703.41 L181.35 703.98 L182.41 704.58 L183.46 705.21 L184.51 705.87 L185.57 706.54 L186.62 707.23 L187.68 707.94 L188.73 708.66 L189.79 709.39 L190.84 710.12 L191.9 710.85 L192.95 711.58 L194.01 712.3 L195.06 713.01 L196.12 713.7 L197.17 714.38 L198.23 715.04 L199.28 715.67 L200.34 716.27 L201.39 716.84 L202.45 717.38 L203.5 717.87 L204.56 718.34 L205.61 718.75 L206.67 719.13 L207.72 719.46 L208.78 719.74 L209.83 719.98 L210.89 720.16 L211.94 720.3 L213 720.39 L214.06 720.43 L215.11 720.42 L216.16 720.36 L217.22 720.25 L218.27 720.1 L219.33 719.9 L220.38 719.66 L221.44 719.38 L222.5 719.06 L223.55 718.7 L224.6 718.31 L225.66 717.89 L226.71 717.45 L227.77 716.98 L228.82 716.49 L229.88 715.98 L230.93 715.46 L231.99 714.94 L233.05 714.41 L234.1 713.88 L235.15 713.35 L236.21 712.83 L237.26 712.32 L238.32 711.82 L239.37 711.35 L240.43 710.9 L241.48 710.47 L242.54 710.08 L243.59 709.72 L244.65 709.4 L245.7 709.11 L246.76 708.87 L247.81 708.67 L248.87 708.52 L249.92 708.42 L250.98 708.37 L252.04 708.37 L253.09 708.42 L254.14 708.53 L255.2 708.69 L256.25 708.91 L257.31 709.18 L258.37 709.5 L259.42 709.88 L260.47 710.31 L261.53 710.79 L262.59 711.32 L263.64 711.89 L264.69 712.51 L265.75 713.18 L266.81 713.88 L267.86 714.62 L268.91 715.39 L269.97 716.19 L271.02 717.02 L272.08 717.88 L273.13 718.75 L274.19 719.63 L275.25 720.53 L276.3 721.44 L277.36 722.35 L278.41 723.26 L279.46 724.16 L280.52 725.06 L281.57 725.94 L282.63 726.81 L283.69 727.66 L284.74 728.48 L285.79 729.28 L286.85 730.05 L287.9 730.78 L288.96 731.48 L290.01 732.14 L291.07 732.76 L292.12 733.33 L293.18 733.86 L294.24 734.35 L295.29 734.79 L296.35 735.18 L297.4 735.52" fill="none" stroke="#1010b4" stroke-width="1.7" />
<path d="M44.2 667.44 L45.25 667.67 L46.31 667.85 L47.37 667.98 L48.42 668.06 L49.47 668.1 L50.53 668.09 L51.58 668.04 L52.64 667.95 L53.69 667.81 L54.75 667.65 L55.8 667.45 L56.86 667.22 L57.92 666.96 L58.97 666.68 L60.02 666.38 L61.08 666.06 L62.13 665.73 L63.19 665.4 L64.25 665.06 L65.3 664.71 L66.35 664.37 L67.41 664.04 L68.47 663.72 L69.52 663.42 L70.57 663.13 L71.63 662.87 L72.68 662.64 L73.74 662.43 L74.8 662.26 L75.85 662.12 L76.9 662.03 L77.96 661.98 L79.02 661.97 L80.07 662.01 L81.12 662.09 L82.18 662.23 L83.23 662.42 L84.29 662.66 L85.34 662.96 L86.4 663.31 L87.45 663.72 L88.51 664.18 L89.56 664.69 L90.62 665.26 L91.67 665.87 L92.73 666.54 L93.78 667.26 L94.84 668.03 L95.89 668.84 L96.95 669.69 L98 670.58 L99.06 671.51 L100.11 672.47 L101.17 673.46 L102.22 674.48 L103.28 675.52 L104.33 676.58 L105.39 677.66 L106.44 678.74 L107.5 679.84 L108.55 680.94 L109.61 682.04 L110.66 683.13 L111.72 684.22 L112.77 685.29 L113.83 686.34 L114.88 687.38 L115.94 688.39 L116.99 689.38 L118.05 690.34 L119.1 691.26 L120.16 692.15 L121.22 693 L122.27 693.81 L123.32 694.57 L124.38 695.29 L125.43 695.96 L126.49 696.59 L127.54 697.17 L128.6 697.7 L129.65 698.18 L130.71 698.61 L131.76 698.99 L132.82 699.32 L133.88 699.6 L134.93 699.84 L135.99 700.03 L137.04 700.18 L138.09 700.29 L139.15 700.36 L140.2 700.39 L141.26 700.39 L142.31 700.35 L143.37 700.29 L144.42 700.2 L145.48 700.09 L146.53 699.96 L147.59 699.82 L148.64 699.67 L149.7 699.51 L150.75 699.34 L151.81 699.18 L152.86 699.02 L153.92 698.87 L154.97 698.73 L156.03 698.6 L157.09 698.49 L158.14 698.41 L159.19 698.34 L160.25 698.31 L161.31 698.31 L162.36 698.34 L163.41 698.4 L164.47 698.5 L165.52 698.64 L166.58 698.83 L167.63 699.05 L168.69 699.32 L169.74 699.63 L170.8 699.98 L171.85 700.39 L172.91 700.83 L173.97 701.32 L175.02 701.85 L176.07 702.43 L177.13 703.04 L178.19 703.69 L179.24 704.39 L180.29 705.11 L181.35 705.87 L182.41 706.66 L183.46 707.48 L184.51 708.32 L185.57 709.19 L186.62 710.07 L187.68 710.97 L188.73 711.88 L189.79 712.79 L190.84 713.71 L191.9 714.63 L192.95 715.55 L194.01 716.46 L195.06 717.36 L196.12 718.24 L197.17 719.11 L198.23 719.95 L199.28 720.77 L200.34 721.56 L201.39 722.32 L202.45 723.05 L203.5 723.74 L204.56 724.39 L205.61 724.99 L206.67 725.56 L207.72 726.08 L208.78 726.55 L209.83 726.97 L210.89 727.35 L211.94 727.67 L213 727.95 L214.06 728.18 L215.11 728.36 L216.16 728.49 L217.22 728.57 L218.27 728.61 L219.33 728.6 L220.38 728.55 L221.44 728.45 L222.5 728.32 L223.55 728.15 L224.6 727.95 L225.66 727.72 L226.71 727.47 L227.77 727.19 L228.82 726.89 L229.88 726.57 L230.93 726.24 L231.99 725.9 L233.05 725.56 L234.1 725.22 L235.15 724.88 L236.21 724.55 L237.26 724.23 L238.32 723.93 L239.37 723.64 L240.43 723.38 L241.48 723.14 L242.54 722.94 L243.59 722.77 L244.65 722.63 L245.7 722.54 L246.76 722.48 L247.81 722.47 L248.87 722.51 L249.92 722.6 L250.98 722.74 L252.04 722.93 L253.09 723.17 L254.14 723.47 L255.2 723.82 L256.25 724.22 L257.31 724.68 L258.37 725.2 L259.42 725.76 L260.47 726.38 L261.53 727.05 L262.59 727.77 L263.64 728.53 L264.69 729.34 L265.75 730.2 L266.81 731.09 L267.86 732.01 L268.91 732.98 L269.97 733.97 L271.02 734.99 L272.08 736.03 L273.13 737.09 L274.19 738.16 L275.25 739.25 L276.3 740.35 L277.36 741.45 L278.41 742.54 L279.46 743.64 L280.52 744.72 L281.57 745.8 L282.63 746.85 L283.69 747.89 L284.74 748.9 L285.79 749.89 L286.85 750.84 L287.9 751.77 L288.96 752.66 L290.01 753.5 L291.07 754.31 L292.12 755.08 L293.18 755.8 L294.24 756.47 L295.29 757.1 L296.35 757.68 L297.4 758.21" fill="none" stroke="#ffa500" stroke-width="1.7" />
<path d="M44.2 644.75 L45.25 645.17 L46.31 645.54 L47.37 645.86 L48.42 646.13 L49.47 646.35 L50.53 646.53 L51.58 646.67 L52.64 646.77 L53.69 646.83 L54.75 646.85 L55.8 646.84 L56.86 646.8 L57.92 646.73 L58.97 646.64 L60.02 646.53 L61.08 646.4 L62.13 646.26 L63.19 646.11 L64.25 645.96 L65.3 645.8 L66.35 645.66 L67.41 645.51 L68.47 645.38 L69.52 645.27 L70.57 645.17 L71.63 645.1 L72.68 645.05 L73.74 645.04 L74.8 645.05 L75.85 645.11 L76.9 645.2 L77.96 645.34 L79.02 645.52 L80.07 645.74 L81.12 646.02 L82.18 646.35 L83.23 646.73 L84.29 647.16 L85.34 647.64 L86.4 648.18 L87.45 648.78 L88.51 649.43 L89.56 650.13 L90.62 650.89 L91.67 651.69 L92.73 652.55 L93.78 653.46 L94.84 654.41 L95.89 655.41 L96.95 656.45 L98 657.53 L99.06 658.65 L100.11 659.8 L101.17 660.98 L102.22 662.19 L103.28 663.42 L104.33 664.67 L105.39 665.93 L106.44 667.21 L107.5 668.49 L108.55 669.78 L109.61 671.07 L110.66 672.35 L111.72 673.63 L112.77 674.89 L113.83 676.13 L114.88 677.36 L115.94 678.56 L116.99 679.74 L118.05 680.88 L119.1 682 L120.16 683.07 L121.22 684.11 L122.27 685.11 L123.32 686.06 L124.38 686.97 L125.43 687.83 L126.49 688.65 L127.54 689.42 L128.6 690.13 L129.65 690.8 L130.71 691.42 L131.76 691.99 L132.82 692.51 L133.88 692.99 L134.93 693.41 L135.99 693.79 L137.04 694.13 L138.09 694.43 L139.15 694.69 L140.2 694.91 L141.26 695.09 L142.31 695.25 L143.37 695.37 L144.42 695.47 L145.48 695.55 L146.53 695.61 L147.59 695.66 L148.64 695.7 L149.7 695.72 L150.75 695.75 L151.81 695.77 L152.86 695.8 L153.92 695.84 L154.97 695.89 L156.03 695.95 L157.09 696.03 L158.14 696.14 L159.19 696.26 L160.25 696.42 L161.31 696.6 L162.36 696.82 L163.41 697.08 L164.47 697.37 L165.52 697.7 L166.58 698.07 L167.63 698.48 L168.69 698.94 L169.74 699.44 L170.8 699.98 L171.85 700.57 L172.91 701.21 L173.97 701.89 L175.02 702.61 L176.07 703.37 L177.13 704.17 L178.19 705.02 L179.24 705.9 L180.29 706.81 L181.35 707.76 L182.41 708.74 L183.46 709.75 L184.51 710.78 L185.57 711.84 L186.62 712.91 L187.68 713.99 L188.73 715.09 L189.79 716.2 L190.84 717.31 L191.9 718.41 L192.95 719.52 L194.01 720.62 L195.06 721.71 L196.12 722.78 L197.17 723.84 L198.23 724.87 L199.28 725.88 L200.34 726.86 L201.39 727.81 L202.45 728.72 L203.5 729.6 L204.56 730.44 L205.61 731.23 L206.67 731.99 L207.72 732.69 L208.78 733.36 L209.83 733.97 L210.89 734.53 L211.94 735.05 L213 735.52 L214.06 735.93 L215.11 736.3 L216.16 736.62 L217.22 736.89 L218.27 737.11 L219.33 737.29 L220.38 737.43 L221.44 737.53 L222.5 737.59 L223.55 737.61 L224.6 737.6 L225.66 737.56 L226.71 737.49 L227.77 737.4 L228.82 737.29 L229.88 737.16 L230.93 737.02 L231.99 736.87 L233.05 736.72 L234.1 736.57 L235.15 736.42 L236.21 736.27 L237.26 736.14 L238.32 736.03 L239.37 735.93 L240.43 735.86 L241.48 735.81 L242.54 735.8 L243.59 735.81 L244.65 735.87 L245.7 735.96 L246.76 736.1 L247.81 736.28 L248.87 736.51 L249.92 736.78 L250.98 737.11 L252.04 737.49 L253.09 737.92 L254.14 738.41 L255.2 738.95 L256.25 739.54 L257.31 740.19 L258.37 740.89 L259.42 741.65 L260.47 742.45 L261.53 743.31 L262.59 744.22 L263.64 745.17 L264.69 746.17 L265.75 747.21 L266.81 748.29 L267.86 749.41 L268.91 750.56 L269.97 751.74 L271.02 752.95 L272.08 754.18 L273.13 755.43 L274.19 756.69 L275.25 757.97 L276.3 759.26 L277.36 760.54 L278.41 761.83 L279.46 763.11 L280.52 764.39 L281.57 765.65 L282.63 766.89 L283.69 768.12 L284.74 769.32 L285.79 770.5 L286.85 771.64 L287.9 772.76 L288.96 773.83 L290.01 774.87 L291.07 775.87 L292.12 776.82 L293.18 777.73 L294.24 778.59 L295.29 779.41 L296.35 780.18 L297.4 780.9" fill="none" stroke="#0f6e0f" stroke-width="1.7" />
</g>
<rect x="44.2" y="627.7" width="253.2" height="144.5999999999999" fill="none" stroke="#2a2a2a" stroke-width="1.4" rx="0.8"/>
<line x1="86.4" y1="772.3" x2="86.4" y2="768.3" stroke="#444" stroke-width="0.8" />
<line x1="86.4" y1="627.7" x2="86.4" y2="631.7" stroke="#444" stroke-width="0.8" />
<text x="86.9" y="791.8" font-size="22" text-anchor="middle" font-style="italic" font-weight="normal" fill="#000" >-1</text>
<line x1="170.8" y1="772.3" x2="170.8" y2="768.3" stroke="#444" stroke-width="0.8" />
<line x1="170.8" y1="627.7" x2="170.8" y2="631.7" stroke="#444" stroke-width="0.8" />
<text x="171.3" y="791.8" font-size="22" text-anchor="middle" font-style="italic" font-weight="normal" fill="#000" >0</text>
<line x1="255.2" y1="772.3" x2="255.2" y2="768.3" stroke="#444" stroke-width="0.8" />
<line x1="255.2" y1="627.7" x2="255.2" y2="631.7" stroke="#444" stroke-width="0.8" />
<text x="255.7" y="791.8" font-size="22" text-anchor="middle" font-style="italic" font-weight="normal" fill="#000" >1</text>
<line x1="44.2" y1="769" x2="48.2" y2="769" stroke="#444" stroke-width="0.8" />
<line x1="297.4" y1="769" x2="293.4" y2="769" stroke="#444" stroke-width="0.8" />
<text x="36.8" y="776.5" font-size="22" text-anchor="end" font-style="italic" font-weight="normal" fill="#000" >-4</text>
<line x1="44.2" y1="736.9" x2="48.2" y2="736.9" stroke="#444" stroke-width="0.8" />
<line x1="297.4" y1="736.9" x2="293.4" y2="736.9" stroke="#444" stroke-width="0.8" />
<text x="36.8" y="744.4" font-size="22" text-anchor="end" font-style="italic" font-weight="normal" fill="#000" >-2</text>
<line x1="44.2" y1="704.8" x2="48.2" y2="704.8" stroke="#444" stroke-width="0.8" />
<line x1="297.4" y1="704.8" x2="293.4" y2="704.8" stroke="#444" stroke-width="0.8" />
<text x="36.8" y="712.3" font-size="22" text-anchor="end" font-style="italic" font-weight="normal" fill="#000" >0</text>
<line x1="44.2" y1="672.7" x2="48.2" y2="672.7" stroke="#444" stroke-width="0.8" />
<line x1="297.4" y1="672.7" x2="293.4" y2="672.7" stroke="#444" stroke-width="0.8" />
<text x="36.8" y="680.2" font-size="22" text-anchor="end" font-style="italic" font-weight="normal" fill="#000" >2</text>
<line x1="44.2" y1="640.6" x2="48.2" y2="640.6" stroke="#444" stroke-width="0.8" />
<line x1="297.4" y1="640.6" x2="293.4" y2="640.6" stroke="#444" stroke-width="0.8" />
<text x="36.8" y="648.1" font-size="22" text-anchor="end" font-style="italic" font-weight="normal" fill="#000" >4</text>
<text x="46.7" y="766.1" font-size="23.4" text-anchor="start" font-style="normal" font-weight="bold" fill="#000" >(d4)</text>
<text x="255.6" y="648.5" font-size="23" text-anchor="middle" font-style="italic" font-weight="normal" fill="#000" >α = 0.2</text>
<text transform="translate(16,700) rotate(-90)" font-size="23" font-style="italic" text-anchor="middle">U(φ)</text>
<text x="171.3" y="814.3" font-size="24.5" text-anchor="middle" font-style="italic" font-weight="normal" fill="#000" >φ/π</text>
<clipPath id="cd1"><rect x="302.7" y="470.0" width="260.2" height="150.0"/></clipPath>
<line x1="389.43" y1="470" x2="389.43" y2="620" stroke="#aaa" stroke-width="1.1" />
<line x1="476.17" y1="470" x2="476.17" y2="620" stroke="#aaa" stroke-width="1.1" />
<g clip-path="url(#cd1)">
<path d="M302.7 553.83 L303.78 553.76 L304.87 553.64 L305.95 553.46 L307.04 553.23 L308.12 552.96 L309.2 552.63 L310.29 552.26 L311.37 551.84 L312.46 551.37 L313.54 550.87 L314.63 550.33 L315.71 549.75 L316.79 549.15 L317.88 548.51 L318.96 547.86 L320.05 547.18 L321.13 546.49 L322.21 545.78 L323.3 545.07 L324.38 544.36 L325.47 543.65 L326.55 542.94 L327.64 542.24 L328.72 541.56 L329.8 540.89 L330.89 540.25 L331.97 539.63 L333.06 539.04 L334.14 538.48 L335.22 537.96 L336.31 537.48 L337.39 537.05 L338.48 536.65 L339.56 536.31 L340.65 536.01 L341.73 535.77 L342.81 535.58 L343.9 535.44 L344.98 535.36 L346.07 535.33 L347.15 535.36 L348.23 535.44 L349.32 535.58 L350.4 535.77 L351.49 536.01 L352.57 536.31 L353.66 536.65 L354.74 537.05 L355.82 537.48 L356.91 537.96 L357.99 538.48 L359.08 539.04 L360.16 539.63 L361.24 540.25 L362.33 540.89 L363.41 541.56 L364.5 542.24 L365.58 542.94 L366.67 543.65 L367.75 544.36 L368.83 545.07 L369.92 545.78 L371 546.49 L372.09 547.18 L373.17 547.86 L374.25 548.51 L375.34 549.15 L376.42 549.75 L377.51 550.33 L378.59 550.87 L379.68 551.37 L380.76 551.84 L381.84 552.26 L382.93 552.63 L384.01 552.96 L385.1 553.23 L386.18 553.46 L387.26 553.64 L388.35 553.76 L389.43 553.83 L390.52 553.84 L391.6 553.8 L392.69 553.71 L393.77 553.56 L394.85 553.37 L395.94 553.12 L397.02 552.82 L398.11 552.48 L399.19 552.1 L400.27 551.67 L401.36 551.2 L402.44 550.7 L403.53 550.17 L404.61 549.61 L405.7 549.02 L406.78 548.41 L407.86 547.79 L408.95 547.14 L410.03 546.5 L411.12 545.84 L412.2 545.18 L413.28 544.53 L414.37 543.89 L415.45 543.25 L416.54 542.63 L417.62 542.03 L418.71 541.45 L419.79 540.9 L420.87 540.38 L421.96 539.9 L423.04 539.45 L424.13 539.04 L425.21 538.67 L426.29 538.34 L427.38 538.07 L428.46 537.84 L429.55 537.66 L430.63 537.53 L431.72 537.45 L432.8 537.42 L433.88 537.45 L434.97 537.53 L436.05 537.66 L437.14 537.84 L438.22 538.07 L439.3 538.34 L440.39 538.67 L441.47 539.04 L442.56 539.45 L443.64 539.9 L444.73 540.38 L445.81 540.9 L446.89 541.45 L447.98 542.03 L449.06 542.63 L450.15 543.25 L451.23 543.89 L452.31 544.53 L453.4 545.18 L454.48 545.84 L455.57 546.5 L456.65 547.14 L457.74 547.79 L458.82 548.41 L459.9 549.02 L460.99 549.61 L462.07 550.17 L463.16 550.7 L464.24 551.2 L465.32 551.67 L466.41 552.1 L467.49 552.48 L468.58 552.82 L469.66 553.12 L470.75 553.37 L471.83 553.56 L472.91 553.71 L474 553.8 L475.08 553.84 L476.17 553.83 L477.25 553.76 L478.33 553.64 L479.42 553.46 L480.5 553.23 L481.59 552.96 L482.67 552.63 L483.76 552.26 L484.84 551.84 L485.92 551.37 L487.01 550.87 L488.09 550.33 L489.18 549.75 L490.26 549.15 L491.34 548.51 L492.43 547.86 L493.51 547.18 L494.6 546.49 L495.68 545.78 L496.77 545.07 L497.85 544.36 L498.93 543.65 L500.02 542.94 L501.1 542.24 L502.19 541.56 L503.27 540.89 L504.35 540.25 L505.44 539.63 L506.52 539.04 L507.61 538.48 L508.69 537.96 L509.78 537.48 L510.86 537.05 L511.94 536.65 L513.03 536.31 L514.11 536.01 L515.2 535.77 L516.28 535.58 L517.37 535.44 L518.45 535.36 L519.53 535.33 L520.62 535.36 L521.7 535.44 L522.79 535.58 L523.87 535.77 L524.95 536.01 L526.04 536.31 L527.12 536.65 L528.21 537.05 L529.29 537.48 L530.38 537.96 L531.46 538.48 L532.54 539.04 L533.63 539.63 L534.71 540.25 L535.8 540.89 L536.88 541.56 L537.96 542.24 L539.05 542.94 L540.13 543.65 L541.22 544.36 L542.3 545.07 L543.38 545.78 L544.47 546.49 L545.55 547.18 L546.64 547.86 L547.72 548.51 L548.81 549.15 L549.89 549.75 L550.97 550.33 L552.06 550.87 L553.14 551.37 L554.23 551.84 L555.31 552.26 L556.39 552.63 L557.48 552.96 L558.56 553.23 L559.65 553.46 L560.73 553.64 L561.82 553.76 L562.9 553.83" fill="none" stroke="#8b1a1a" stroke-width="1.7" />
<path d="M302.7 529.16 L303.78 529.29 L304.87 529.38 L305.95 529.41 L307.04 529.39 L308.12 529.32 L309.2 529.19 L310.29 529.02 L311.37 528.81 L312.46 528.55 L313.54 528.26 L314.63 527.92 L315.71 527.55 L316.79 527.15 L317.88 526.72 L318.96 526.27 L320.05 525.8 L321.13 525.31 L322.21 524.82 L323.3 524.31 L324.38 523.8 L325.47 523.29 L326.55 522.79 L327.64 522.3 L328.72 521.82 L329.8 521.36 L330.89 520.92 L331.97 520.51 L333.06 520.13 L334.14 519.78 L335.22 519.46 L336.31 519.19 L337.39 518.95 L338.48 518.77 L339.56 518.63 L340.65 518.54 L341.73 518.5 L342.81 518.51 L343.9 518.58 L344.98 518.7 L346.07 518.88 L347.15 519.12 L348.23 519.4 L349.32 519.75 L350.4 520.14 L351.49 520.59 L352.57 521.1 L353.66 521.65 L354.74 522.24 L355.82 522.89 L356.91 523.57 L357.99 524.3 L359.08 525.06 L360.16 525.85 L361.24 526.68 L362.33 527.53 L363.41 528.4 L364.5 529.29 L365.58 530.19 L366.67 531.11 L367.75 532.02 L368.83 532.94 L369.92 533.86 L371 534.77 L372.09 535.67 L373.17 536.55 L374.25 537.41 L375.34 538.25 L376.42 539.06 L377.51 539.84 L378.59 540.59 L379.68 541.3 L380.76 541.97 L381.84 542.59 L382.93 543.17 L384.01 543.71 L385.1 544.19 L386.18 544.62 L387.26 545 L388.35 545.33 L389.43 545.6 L390.52 545.82 L391.6 545.99 L392.69 546.1 L393.77 546.16 L394.85 546.17 L395.94 546.13 L397.02 546.04 L398.11 545.9 L399.19 545.72 L400.27 545.5 L401.36 545.24 L402.44 544.95 L403.53 544.62 L404.61 544.26 L405.7 543.88 L406.78 543.48 L407.86 543.06 L408.95 542.62 L410.03 542.18 L411.12 541.73 L412.2 541.28 L413.28 540.83 L414.37 540.39 L415.45 539.96 L416.54 539.55 L417.62 539.15 L418.71 538.78 L419.79 538.44 L420.87 538.12 L421.96 537.84 L423.04 537.6 L424.13 537.39 L425.21 537.23 L426.29 537.11 L427.38 537.04 L428.46 537.01 L429.55 537.04 L430.63 537.12 L431.72 537.24 L432.8 537.42 L433.88 537.65 L434.97 537.94 L436.05 538.27 L437.14 538.66 L438.22 539.09 L439.3 539.58 L440.39 540.11 L441.47 540.68 L442.56 541.3 L443.64 541.95 L444.73 542.65 L445.81 543.37 L446.89 544.13 L447.98 544.91 L449.06 545.72 L450.15 546.54 L451.23 547.38 L452.31 548.23 L453.4 549.09 L454.48 549.95 L455.57 550.81 L456.65 551.67 L457.74 552.51 L458.82 553.35 L459.9 554.16 L460.99 554.95 L462.07 555.72 L463.16 556.46 L464.24 557.17 L465.32 557.84 L466.41 558.47 L467.49 559.06 L468.58 559.61 L469.66 560.11 L470.75 560.56 L471.83 560.96 L472.91 561.31 L474 561.61 L475.08 561.86 L476.17 562.05 L477.25 562.19 L478.33 562.27 L479.42 562.3 L480.5 562.28 L481.59 562.21 L482.67 562.09 L483.76 561.92 L484.84 561.7 L485.92 561.45 L487.01 561.15 L488.09 560.81 L489.18 560.44 L490.26 560.04 L491.34 559.62 L492.43 559.16 L493.51 558.69 L494.6 558.21 L495.68 557.71 L496.77 557.2 L497.85 556.69 L498.93 556.19 L500.02 555.68 L501.1 555.19 L502.19 554.71 L503.27 554.25 L504.35 553.81 L505.44 553.4 L506.52 553.02 L507.61 552.67 L508.69 552.35 L509.78 552.08 L510.86 551.85 L511.94 551.66 L513.03 551.52 L514.11 551.43 L515.2 551.39 L516.28 551.41 L517.37 551.47 L518.45 551.6 L519.53 551.77 L520.62 552.01 L521.7 552.3 L522.79 552.64 L523.87 553.04 L524.95 553.49 L526.04 553.99 L527.12 554.54 L528.21 555.14 L529.29 555.78 L530.38 556.47 L531.46 557.19 L532.54 557.95 L533.63 558.75 L534.71 559.57 L535.8 560.42 L536.88 561.29 L537.96 562.18 L539.05 563.09 L540.13 564 L541.22 564.92 L542.3 565.84 L543.38 566.75 L544.47 567.66 L545.55 568.56 L546.64 569.44 L547.72 570.31 L548.81 571.14 L549.89 571.96 L550.97 572.74 L552.06 573.48 L553.14 574.19 L554.23 574.86 L555.31 575.49 L556.39 576.07 L557.48 576.6 L558.56 577.08 L559.65 577.51 L560.73 577.89 L561.82 578.22 L562.9 578.49" fill="none" stroke="#1010b4" stroke-width="1.7" />
<path d="M302.7 504.49 L303.78 504.83 L304.87 505.12 L305.95 505.36 L307.04 505.54 L308.12 505.67 L309.2 505.76 L310.29 505.79 L311.37 505.79 L312.46 505.73 L313.54 505.64 L314.63 505.51 L315.71 505.35 L316.79 505.15 L317.88 504.93 L318.96 504.69 L320.05 504.42 L321.13 504.14 L322.21 503.85 L323.3 503.55 L324.38 503.24 L325.47 502.94 L326.55 502.65 L327.64 502.36 L328.72 502.09 L329.8 501.83 L330.89 501.6 L331.97 501.39 L333.06 501.21 L334.14 501.07 L335.22 500.96 L336.31 500.89 L337.39 500.86 L338.48 500.88 L339.56 500.95 L340.65 501.06 L341.73 501.23 L342.81 501.45 L343.9 501.72 L344.98 502.05 L346.07 502.44 L347.15 502.87 L348.23 503.37 L349.32 503.92 L350.4 504.52 L351.49 505.18 L352.57 505.88 L353.66 506.64 L354.74 507.44 L355.82 508.29 L356.91 509.18 L357.99 510.11 L359.08 511.08 L360.16 512.08 L361.24 513.11 L362.33 514.17 L363.41 515.24 L364.5 516.34 L365.58 517.45 L366.67 518.57 L367.75 519.69 L368.83 520.82 L369.92 521.94 L371 523.05 L372.09 524.16 L373.17 525.24 L374.25 526.31 L375.34 527.36 L376.42 528.37 L377.51 529.36 L378.59 530.31 L379.68 531.23 L380.76 532.1 L381.84 532.93 L382.93 533.72 L384.01 534.45 L385.1 535.14 L386.18 535.78 L387.26 536.37 L388.35 536.9 L389.43 537.38 L390.52 537.8 L391.6 538.18 L392.69 538.49 L393.77 538.76 L394.85 538.97 L395.94 539.14 L397.02 539.26 L398.11 539.33 L399.19 539.35 L400.27 539.34 L401.36 539.28 L402.44 539.19 L403.53 539.07 L404.61 538.92 L405.7 538.74 L406.78 538.54 L407.86 538.33 L408.95 538.1 L410.03 537.86 L411.12 537.62 L412.2 537.37 L413.28 537.13 L414.37 536.9 L415.45 536.67 L416.54 536.46 L417.62 536.28 L418.71 536.11 L419.79 535.97 L420.87 535.86 L421.96 535.79 L423.04 535.75 L424.13 535.75 L425.21 535.79 L426.29 535.88 L427.38 536.01 L428.46 536.19 L429.55 536.42 L430.63 536.7 L431.72 537.04 L432.8 537.42 L433.88 537.86 L434.97 538.35 L436.05 538.89 L437.14 539.48 L438.22 540.12 L439.3 540.81 L440.39 541.55 L441.47 542.33 L442.56 543.15 L443.64 544.01 L444.73 544.91 L445.81 545.84 L446.89 546.8 L447.98 547.79 L449.06 548.8 L450.15 549.83 L451.23 550.88 L452.31 551.93 L453.4 553 L454.48 554.06 L455.57 555.13 L456.65 556.19 L457.74 557.24 L458.82 558.28 L459.9 559.3 L460.99 560.3 L462.07 561.27 L463.16 562.22 L464.24 563.13 L465.32 564 L466.41 564.84 L467.49 565.64 L468.58 566.39 L469.66 567.1 L470.75 567.76 L471.83 568.36 L472.91 568.92 L474 569.42 L475.08 569.87 L476.17 570.27 L477.25 570.61 L478.33 570.9 L479.42 571.14 L480.5 571.33 L481.59 571.46 L482.67 571.54 L483.76 571.58 L484.84 571.57 L485.92 571.52 L487.01 571.43 L488.09 571.3 L489.18 571.13 L490.26 570.94 L491.34 570.72 L492.43 570.47 L493.51 570.21 L494.6 569.92 L495.68 569.63 L496.77 569.33 L497.85 569.03 L498.93 568.73 L500.02 568.43 L501.1 568.14 L502.19 567.87 L503.27 567.62 L504.35 567.38 L505.44 567.18 L506.52 567 L507.61 566.85 L508.69 566.74 L509.78 566.68 L510.86 566.65 L511.94 566.67 L513.03 566.73 L514.11 566.85 L515.2 567.02 L516.28 567.24 L517.37 567.51 L518.45 567.84 L519.53 568.22 L520.62 568.66 L521.7 569.15 L522.79 569.7 L523.87 570.31 L524.95 570.96 L526.04 571.67 L527.12 572.42 L528.21 573.23 L529.29 574.08 L530.38 574.97 L531.46 575.9 L532.54 576.87 L533.63 577.87 L534.71 578.89 L535.8 579.95 L536.88 581.03 L537.96 582.12 L539.05 583.23 L540.13 584.35 L541.22 585.48 L542.3 586.6 L543.38 587.72 L544.47 588.84 L545.55 589.94 L546.64 591.03 L547.72 592.1 L548.81 593.14 L549.89 594.16 L550.97 595.14 L552.06 596.1 L553.14 597.01 L554.23 597.88 L555.31 598.72 L556.39 599.5 L557.48 600.24 L558.56 600.93 L559.65 601.57 L560.73 602.15 L561.82 602.68 L562.9 603.16" fill="none" stroke="#ffa500" stroke-width="1.7" />
<path d="M302.7 479.82 L303.78 480.37 L304.87 480.86 L305.95 481.3 L307.04 481.69 L308.12 482.03 L309.2 482.32 L310.29 482.56 L311.37 482.76 L312.46 482.91 L313.54 483.03 L314.63 483.1 L315.71 483.15 L316.79 483.16 L317.88 483.14 L318.96 483.1 L320.05 483.04 L321.13 482.97 L322.21 482.88 L323.3 482.78 L324.38 482.69 L325.47 482.59 L326.55 482.5 L327.64 482.42 L328.72 482.35 L329.8 482.3 L330.89 482.27 L331.97 482.27 L333.06 482.3 L334.14 482.36 L335.22 482.46 L336.31 482.59 L337.39 482.77 L338.48 483 L339.56 483.27 L340.65 483.59 L341.73 483.96 L342.81 484.39 L343.9 484.87 L344.98 485.4 L346.07 485.99 L347.15 486.63 L348.23 487.33 L349.32 488.09 L350.4 488.9 L351.49 489.76 L352.57 490.67 L353.66 491.63 L354.74 492.64 L355.82 493.7 L356.91 494.79 L357.99 495.93 L359.08 497.1 L360.16 498.31 L361.24 499.54 L362.33 500.8 L363.41 502.09 L364.5 503.39 L365.58 504.7 L366.67 506.03 L367.75 507.36 L368.83 508.69 L369.92 510.01 L371 511.33 L372.09 512.64 L373.17 513.94 L374.25 515.21 L375.34 516.46 L376.42 517.68 L377.51 518.87 L378.59 520.03 L379.68 521.15 L380.76 522.23 L381.84 523.27 L382.93 524.26 L384.01 525.2 L385.1 526.1 L386.18 526.94 L387.26 527.73 L388.35 528.47 L389.43 529.16 L390.52 529.79 L391.6 530.36 L392.69 530.89 L393.77 531.36 L394.85 531.78 L395.94 532.15 L397.02 532.47 L398.11 532.75 L399.19 532.98 L400.27 533.17 L401.36 533.32 L402.44 533.44 L403.53 533.52 L404.61 533.57 L405.7 533.6 L406.78 533.61 L407.86 533.6 L408.95 533.58 L410.03 533.54 L411.12 533.51 L412.2 533.47 L413.28 533.43 L414.37 533.4 L415.45 533.38 L416.54 533.38 L417.62 533.4 L418.71 533.44 L419.79 533.5 L420.87 533.6 L421.96 533.73 L423.04 533.9 L424.13 534.1 L425.21 534.35 L426.29 534.64 L427.38 534.98 L428.46 535.37 L429.55 535.81 L430.63 536.29 L431.72 536.83 L432.8 537.42 L433.88 538.06 L434.97 538.76 L436.05 539.51 L437.14 540.3 L438.22 541.15 L439.3 542.04 L440.39 542.99 L441.47 543.97 L442.56 545 L443.64 546.07 L444.73 547.17 L445.81 548.31 L446.89 549.47 L447.98 550.67 L449.06 551.88 L450.15 553.12 L451.23 554.37 L452.31 555.63 L453.4 556.9 L454.48 558.18 L455.57 559.45 L456.65 560.71 L457.74 561.97 L458.82 563.21 L459.9 564.44 L460.99 565.64 L462.07 566.82 L463.16 567.97 L464.24 569.09 L465.32 570.17 L466.41 571.22 L467.49 572.22 L468.58 573.18 L469.66 574.09 L470.75 574.95 L471.83 575.76 L472.91 576.53 L474 577.24 L475.08 577.89 L476.17 578.49 L477.25 579.04 L478.33 579.54 L479.42 579.98 L480.5 580.37 L481.59 580.71 L482.67 581 L483.76 581.24 L484.84 581.44 L485.92 581.59 L487.01 581.71 L488.09 581.78 L489.18 581.82 L490.26 581.83 L491.34 581.82 L492.43 581.78 L493.51 581.72 L494.6 581.64 L495.68 581.56 L496.77 581.46 L497.85 581.36 L498.93 581.27 L500.02 581.18 L501.1 581.1 L502.19 581.03 L503.27 580.98 L504.35 580.95 L505.44 580.95 L506.52 580.98 L507.61 581.04 L508.69 581.13 L509.78 581.27 L510.86 581.45 L511.94 581.67 L513.03 581.95 L514.11 582.27 L515.2 582.64 L516.28 583.06 L517.37 583.54 L518.45 584.08 L519.53 584.67 L520.62 585.31 L521.7 586.01 L522.79 586.77 L523.87 587.57 L524.95 588.43 L526.04 589.35 L527.12 590.31 L528.21 591.32 L529.29 592.37 L530.38 593.47 L531.46 594.61 L532.54 595.78 L533.63 596.98 L534.71 598.22 L535.8 599.48 L536.88 600.76 L537.96 602.06 L539.05 603.38 L540.13 604.7 L541.22 606.03 L542.3 607.36 L543.38 608.69 L544.47 610.01 L545.55 611.32 L546.64 612.61 L547.72 613.89 L548.81 615.14 L549.89 616.36 L550.97 617.55 L552.06 618.71 L553.14 619.83 L554.23 620.91 L555.31 621.95 L556.39 622.94 L557.48 623.88 L558.56 624.78 L559.65 625.62 L560.73 626.41 L561.82 627.15 L562.9 627.83" fill="none" stroke="#0f6e0f" stroke-width="1.7" />
</g>
<rect x="302.7" y="470.0" width="260.2" height="150.0" fill="none" stroke="#2a2a2a" stroke-width="1.4" rx="0.8"/>
<line x1="346.07" y1="620" x2="346.07" y2="616" stroke="#444" stroke-width="0.8" />
<line x1="346.07" y1="470" x2="346.07" y2="474" stroke="#444" stroke-width="0.8" />
<line x1="432.8" y1="620" x2="432.8" y2="616" stroke="#444" stroke-width="0.8" />
<line x1="432.8" y1="470" x2="432.8" y2="474" stroke="#444" stroke-width="0.8" />
<line x1="519.53" y1="620" x2="519.53" y2="616" stroke="#444" stroke-width="0.8" />
<line x1="519.53" y1="470" x2="519.53" y2="474" stroke="#444" stroke-width="0.8" />
<line x1="302.7" y1="614.9" x2="306.7" y2="614.9" stroke="#444" stroke-width="0.8" />
<line x1="562.9" y1="614.9" x2="558.9" y2="614.9" stroke="#444" stroke-width="0.8" />
<line x1="302.7" y1="580" x2="306.7" y2="580" stroke="#444" stroke-width="0.8" />
<line x1="562.9" y1="580" x2="558.9" y2="580" stroke="#444" stroke-width="0.8" />
<line x1="302.7" y1="545.1" x2="306.7" y2="545.1" stroke="#444" stroke-width="0.8" />
<line x1="562.9" y1="545.1" x2="558.9" y2="545.1" stroke="#444" stroke-width="0.8" />
<line x1="302.7" y1="510.2" x2="306.7" y2="510.2" stroke="#444" stroke-width="0.8" />
<line x1="562.9" y1="510.2" x2="558.9" y2="510.2" stroke="#444" stroke-width="0.8" />
<line x1="302.7" y1="475.3" x2="306.7" y2="475.3" stroke="#444" stroke-width="0.8" />
<line x1="562.9" y1="475.3" x2="558.9" y2="475.3" stroke="#444" stroke-width="0.8" />
<text x="305.2" y="613.8" font-size="23.4" text-anchor="start" font-style="normal" font-weight="bold" fill="#000" >(d2)</text>
<text x="519.93" y="490.8" font-size="23" text-anchor="middle" font-style="italic" font-weight="normal" fill="#000" >α = 0.06</text>
<clipPath id="cd4"><rect x="302.7" y="627.7" width="260.2" height="144.5999999999999"/></clipPath>
<line x1="389.43" y1="627.7" x2="389.43" y2="772.3" stroke="#aaa" stroke-width="1.1" />
<line x1="476.17" y1="627.7" x2="476.17" y2="772.3" stroke="#aaa" stroke-width="1.1" />
<g clip-path="url(#cd4)">
<path d="M302.7 712.82 L303.78 712.55 L304.87 712.22 L305.95 711.85 L307.04 711.43 L308.12 710.96 L309.2 710.45 L310.29 709.9 L311.37 709.31 L312.46 708.68 L313.54 708.02 L314.63 707.32 L315.71 706.6 L316.79 705.86 L317.88 705.09 L318.96 704.3 L320.05 703.51 L321.13 702.7 L322.21 701.89 L323.3 701.07 L324.38 700.26 L325.47 699.46 L326.55 698.66 L327.64 697.88 L328.72 697.13 L329.8 696.39 L330.89 695.68 L331.97 695.01 L333.06 694.36 L334.14 693.76 L335.22 693.19 L336.31 692.67 L337.39 692.2 L338.48 691.78 L339.56 691.41 L340.65 691.09 L341.73 690.83 L342.81 690.62 L343.9 690.47 L344.98 690.38 L346.07 690.35 L347.15 690.38 L348.23 690.47 L349.32 690.62 L350.4 690.83 L351.49 691.09 L352.57 691.41 L353.66 691.78 L354.74 692.2 L355.82 692.67 L356.91 693.19 L357.99 693.76 L359.08 694.36 L360.16 695.01 L361.24 695.68 L362.33 696.39 L363.41 697.13 L364.5 697.88 L365.58 698.66 L366.67 699.46 L367.75 700.26 L368.83 701.07 L369.92 701.89 L371 702.7 L372.09 703.51 L373.17 704.3 L374.25 705.09 L375.34 705.86 L376.42 706.6 L377.51 707.32 L378.59 708.02 L379.68 708.68 L380.76 709.31 L381.84 709.9 L382.93 710.45 L384.01 710.96 L385.1 711.43 L386.18 711.85 L387.26 712.22 L388.35 712.55 L389.43 712.82 L390.52 713.05 L391.6 713.23 L392.69 713.36 L393.77 713.44 L394.85 713.47 L395.94 713.45 L397.02 713.39 L398.11 713.28 L399.19 713.12 L400.27 712.93 L401.36 712.7 L402.44 712.43 L403.53 712.13 L404.61 711.8 L405.7 711.44 L406.78 711.05 L407.86 710.65 L408.95 710.22 L410.03 709.79 L411.12 709.34 L412.2 708.88 L413.28 708.43 L414.37 707.97 L415.45 707.51 L416.54 707.07 L417.62 706.63 L418.71 706.21 L419.79 705.8 L420.87 705.42 L421.96 705.06 L423.04 704.72 L424.13 704.41 L425.21 704.14 L426.29 703.89 L427.38 703.68 L428.46 703.51 L429.55 703.37 L430.63 703.27 L431.72 703.21 L432.8 703.19 L433.88 703.21 L434.97 703.27 L436.05 703.37 L437.14 703.51 L438.22 703.68 L439.3 703.89 L440.39 704.14 L441.47 704.41 L442.56 704.72 L443.64 705.06 L444.73 705.42 L445.81 705.8 L446.89 706.21 L447.98 706.63 L449.06 707.07 L450.15 707.51 L451.23 707.97 L452.31 708.43 L453.4 708.88 L454.48 709.34 L455.57 709.79 L456.65 710.22 L457.74 710.65 L458.82 711.05 L459.9 711.44 L460.99 711.8 L462.07 712.13 L463.16 712.43 L464.24 712.7 L465.32 712.93 L466.41 713.12 L467.49 713.28 L468.58 713.39 L469.66 713.45 L470.75 713.47 L471.83 713.44 L472.91 713.36 L474 713.23 L475.08 713.05 L476.17 712.82 L477.25 712.55 L478.33 712.22 L479.42 711.85 L480.5 711.43 L481.59 710.96 L482.67 710.45 L483.76 709.9 L484.84 709.31 L485.92 708.68 L487.01 708.02 L488.09 707.32 L489.18 706.6 L490.26 705.86 L491.34 705.09 L492.43 704.3 L493.51 703.51 L494.6 702.7 L495.68 701.89 L496.77 701.07 L497.85 700.26 L498.93 699.46 L500.02 698.66 L501.1 697.88 L502.19 697.13 L503.27 696.39 L504.35 695.68 L505.44 695.01 L506.52 694.36 L507.61 693.76 L508.69 693.19 L509.78 692.67 L510.86 692.2 L511.94 691.78 L513.03 691.41 L514.11 691.09 L515.2 690.83 L516.28 690.62 L517.37 690.47 L518.45 690.38 L519.53 690.35 L520.62 690.38 L521.7 690.47 L522.79 690.62 L523.87 690.83 L524.95 691.09 L526.04 691.41 L527.12 691.78 L528.21 692.2 L529.29 692.67 L530.38 693.19 L531.46 693.76 L532.54 694.36 L533.63 695.01 L534.71 695.68 L535.8 696.39 L536.88 697.13 L537.96 697.88 L539.05 698.66 L540.13 699.46 L541.22 700.26 L542.3 701.07 L543.38 701.89 L544.47 702.7 L545.55 703.51 L546.64 704.3 L547.72 705.09 L548.81 705.86 L549.89 706.6 L550.97 707.32 L552.06 708.02 L553.14 708.68 L554.23 709.31 L555.31 709.9 L556.39 710.45 L557.48 710.96 L558.56 711.43 L559.65 711.85 L560.73 712.22 L561.82 712.55 L562.9 712.82" fill="none" stroke="#8b1a1a" stroke-width="1.7" />
<path d="M302.7 690.13 L303.78 690.05 L304.87 689.91 L305.95 689.73 L307.04 689.49 L308.12 689.22 L309.2 688.9 L310.29 688.53 L311.37 688.13 L312.46 687.69 L313.54 687.22 L314.63 686.71 L315.71 686.18 L316.79 685.62 L317.88 685.05 L318.96 684.45 L320.05 683.84 L321.13 683.22 L322.21 682.6 L323.3 681.97 L324.38 681.35 L325.47 680.74 L326.55 680.13 L327.64 679.54 L328.72 678.97 L329.8 678.43 L330.89 677.91 L331.97 677.42 L333.06 676.97 L334.14 676.55 L335.22 676.18 L336.31 675.85 L337.39 675.56 L338.48 675.33 L339.56 675.15 L340.65 675.02 L341.73 674.94 L342.81 674.93 L343.9 674.97 L344.98 675.07 L346.07 675.23 L347.15 675.45 L348.23 675.72 L349.32 676.06 L350.4 676.46 L351.49 676.91 L352.57 677.41 L353.66 677.98 L354.74 678.59 L355.82 679.25 L356.91 679.96 L357.99 680.71 L359.08 681.51 L360.16 682.34 L361.24 683.2 L362.33 684.1 L363.41 685.02 L364.5 685.97 L365.58 686.94 L366.67 687.92 L367.75 688.92 L368.83 689.92 L369.92 690.92 L371 691.92 L372.09 692.92 L373.17 693.9 L374.25 694.88 L375.34 695.83 L376.42 696.77 L377.51 697.68 L378.59 698.56 L379.68 699.42 L380.76 700.23 L381.84 701.01 L382.93 701.75 L384.01 702.45 L385.1 703.11 L386.18 703.72 L387.26 704.28 L388.35 704.8 L389.43 705.26 L390.52 705.68 L391.6 706.04 L392.69 706.36 L393.77 706.63 L394.85 706.85 L395.94 707.02 L397.02 707.15 L398.11 707.23 L399.19 707.26 L400.27 707.26 L401.36 707.22 L402.44 707.14 L403.53 707.02 L404.61 706.88 L405.7 706.71 L406.78 706.52 L407.86 706.3 L408.95 706.06 L410.03 705.82 L411.12 705.56 L412.2 705.29 L413.28 705.02 L414.37 704.75 L415.45 704.49 L416.54 704.23 L417.62 703.98 L418.71 703.75 L419.79 703.53 L420.87 703.34 L421.96 703.17 L423.04 703.02 L424.13 702.9 L425.21 702.81 L426.29 702.76 L427.38 702.74 L428.46 702.75 L429.55 702.8 L430.63 702.9 L431.72 703.03 L432.8 703.19 L433.88 703.4 L434.97 703.65 L436.05 703.94 L437.14 704.27 L438.22 704.63 L439.3 705.03 L440.39 705.46 L441.47 705.93 L442.56 706.42 L443.64 706.95 L444.73 707.5 L445.81 708.07 L446.89 708.67 L447.98 709.28 L449.06 709.9 L450.15 710.54 L451.23 711.18 L452.31 711.83 L453.4 712.48 L454.48 713.12 L455.57 713.76 L456.65 714.38 L457.74 715 L458.82 715.59 L459.9 716.16 L460.99 716.71 L462.07 717.24 L463.16 717.73 L464.24 718.18 L465.32 718.6 L466.41 718.99 L467.49 719.33 L468.58 719.62 L469.66 719.88 L470.75 720.08 L471.83 720.24 L472.91 720.35 L474 720.42 L475.08 720.43 L476.17 720.39 L477.25 720.3 L478.33 720.16 L479.42 719.98 L480.5 719.75 L481.59 719.47 L482.67 719.15 L483.76 718.79 L484.84 718.38 L485.92 717.95 L487.01 717.47 L488.09 716.97 L489.18 716.43 L490.26 715.88 L491.34 715.3 L492.43 714.7 L493.51 714.1 L494.6 713.48 L495.68 712.85 L496.77 712.23 L497.85 711.61 L498.93 710.99 L500.02 710.39 L501.1 709.8 L502.19 709.23 L503.27 708.68 L504.35 708.16 L505.44 707.67 L506.52 707.22 L507.61 706.8 L508.69 706.43 L509.78 706.1 L510.86 705.82 L511.94 705.58 L513.03 705.4 L514.11 705.27 L515.2 705.2 L516.28 705.18 L517.37 705.22 L518.45 705.32 L519.53 705.48 L520.62 705.7 L521.7 705.98 L522.79 706.32 L523.87 706.71 L524.95 707.16 L526.04 707.67 L527.12 708.23 L528.21 708.84 L529.29 709.5 L530.38 710.21 L531.46 710.96 L532.54 711.76 L533.63 712.59 L534.71 713.46 L535.8 714.35 L536.88 715.28 L537.96 716.23 L539.05 717.19 L540.13 718.18 L541.22 719.17 L542.3 720.17 L543.38 721.17 L544.47 722.17 L545.55 723.17 L546.64 724.16 L547.72 725.13 L548.81 726.09 L549.89 727.02 L550.97 727.93 L552.06 728.82 L553.14 729.67 L554.23 730.49 L555.31 731.27 L556.39 732.01 L557.48 732.71 L558.56 733.36 L559.65 733.97 L560.73 734.53 L561.82 735.05 L562.9 735.52" fill="none" stroke="#1010b4" stroke-width="1.7" />
<path d="M302.7 667.44 L303.78 667.55 L304.87 667.6 L305.95 667.6 L307.04 667.56 L308.12 667.47 L309.2 667.34 L310.29 667.17 L311.37 666.95 L312.46 666.7 L313.54 666.42 L314.63 666.1 L315.71 665.76 L316.79 665.39 L317.88 665 L318.96 664.6 L320.05 664.18 L321.13 663.75 L322.21 663.31 L323.3 662.88 L324.38 662.44 L325.47 662.02 L326.55 661.6 L327.64 661.2 L328.72 660.82 L329.8 660.46 L330.89 660.13 L331.97 659.84 L333.06 659.57 L334.14 659.34 L335.22 659.16 L336.31 659.02 L337.39 658.92 L338.48 658.88 L339.56 658.88 L340.65 658.94 L341.73 659.06 L342.81 659.23 L343.9 659.46 L344.98 659.75 L346.07 660.1 L347.15 660.51 L348.23 660.98 L349.32 661.5 L350.4 662.09 L351.49 662.73 L352.57 663.42 L353.66 664.17 L354.74 664.97 L355.82 665.82 L356.91 666.72 L357.99 667.66 L359.08 668.65 L360.16 669.67 L361.24 670.72 L362.33 671.81 L363.41 672.92 L364.5 674.06 L365.58 675.22 L366.67 676.39 L367.75 677.57 L368.83 678.76 L369.92 679.95 L371 681.14 L372.09 682.33 L373.17 683.5 L374.25 684.67 L375.34 685.81 L376.42 686.94 L377.51 688.04 L378.59 689.11 L379.68 690.15 L380.76 691.16 L381.84 692.13 L382.93 693.06 L384.01 693.94 L385.1 694.79 L386.18 695.59 L387.26 696.34 L388.35 697.04 L389.43 697.7 L390.52 698.3 L391.6 698.86 L392.69 699.37 L393.77 699.82 L394.85 700.23 L395.94 700.59 L397.02 700.91 L398.11 701.17 L399.19 701.4 L400.27 701.59 L401.36 701.73 L402.44 701.84 L403.53 701.92 L404.61 701.97 L405.7 701.98 L406.78 701.98 L407.86 701.95 L408.95 701.91 L410.03 701.85 L411.12 701.78 L412.2 701.7 L413.28 701.62 L414.37 701.54 L415.45 701.46 L416.54 701.39 L417.62 701.34 L418.71 701.29 L419.79 701.27 L420.87 701.26 L421.96 701.28 L423.04 701.32 L424.13 701.39 L425.21 701.49 L426.29 701.62 L427.38 701.79 L428.46 702 L429.55 702.24 L430.63 702.52 L431.72 702.84 L432.8 703.19 L433.88 703.59 L434.97 704.03 L436.05 704.51 L437.14 705.02 L438.22 705.57 L439.3 706.16 L440.39 706.78 L441.47 707.44 L442.56 708.12 L443.64 708.84 L444.73 709.58 L445.81 710.34 L446.89 711.12 L447.98 711.93 L449.06 712.74 L450.15 713.56 L451.23 714.4 L452.31 715.23 L453.4 716.07 L454.48 716.9 L455.57 717.73 L456.65 718.54 L457.74 719.35 L458.82 720.13 L459.9 720.89 L460.99 721.63 L462.07 722.34 L463.16 723.02 L464.24 723.67 L465.32 724.28 L466.41 724.85 L467.49 725.38 L468.58 725.86 L469.66 726.31 L470.75 726.7 L471.83 727.05 L472.91 727.35 L474 727.6 L475.08 727.8 L476.17 727.95 L477.25 728.05 L478.33 728.11 L479.42 728.11 L480.5 728.07 L481.59 727.98 L482.67 727.85 L483.76 727.67 L484.84 727.46 L485.92 727.21 L487.01 726.93 L488.09 726.61 L489.18 726.27 L490.26 725.9 L491.34 725.51 L492.43 725.1 L493.51 724.68 L494.6 724.25 L495.68 723.82 L496.77 723.38 L497.85 722.95 L498.93 722.52 L500.02 722.11 L501.1 721.71 L502.19 721.33 L503.27 720.97 L504.35 720.64 L505.44 720.34 L506.52 720.08 L507.61 719.85 L508.69 719.67 L509.78 719.52 L510.86 719.43 L511.94 719.38 L513.03 719.39 L514.11 719.45 L515.2 719.57 L516.28 719.74 L517.37 719.97 L518.45 720.26 L519.53 720.61 L520.62 721.02 L521.7 721.48 L522.79 722.01 L523.87 722.59 L524.95 723.23 L526.04 723.93 L527.12 724.68 L528.21 725.48 L529.29 726.33 L530.38 727.23 L531.46 728.17 L532.54 729.15 L533.63 730.18 L534.71 731.23 L535.8 732.32 L536.88 733.43 L537.96 734.57 L539.05 735.72 L540.13 736.89 L541.22 738.08 L542.3 739.27 L543.38 740.46 L544.47 741.65 L545.55 742.84 L546.64 744.01 L547.72 745.17 L548.81 746.32 L549.89 747.44 L550.97 748.54 L552.06 749.62 L553.14 750.66 L554.23 751.66 L555.31 752.63 L556.39 753.56 L557.48 754.45 L558.56 755.3 L559.65 756.09 L560.73 756.85 L561.82 757.55 L562.9 758.21" fill="none" stroke="#ffa500" stroke-width="1.7" />
<path d="M302.7 644.75 L303.78 645.05 L304.87 645.29 L305.95 645.48 L307.04 645.63 L308.12 645.73 L309.2 645.78 L310.29 645.8 L311.37 645.78 L312.46 645.72 L313.54 645.62 L314.63 645.49 L315.71 645.34 L316.79 645.16 L317.88 644.96 L318.96 644.74 L320.05 644.51 L321.13 644.27 L322.21 644.03 L323.3 643.78 L324.38 643.53 L325.47 643.3 L326.55 643.07 L327.64 642.86 L328.72 642.67 L329.8 642.5 L330.89 642.36 L331.97 642.25 L333.06 642.18 L334.14 642.14 L335.22 642.14 L336.31 642.19 L337.39 642.28 L338.48 642.43 L339.56 642.62 L340.65 642.87 L341.73 643.18 L342.81 643.54 L343.9 643.96 L344.98 644.44 L346.07 644.97 L347.15 645.57 L348.23 646.23 L349.32 646.94 L350.4 647.72 L351.49 648.55 L352.57 649.43 L353.66 650.37 L354.74 651.36 L355.82 652.4 L356.91 653.49 L357.99 654.62 L359.08 655.79 L360.16 657 L361.24 658.24 L362.33 659.52 L363.41 660.82 L364.5 662.15 L365.58 663.49 L366.67 664.85 L367.75 666.23 L368.83 667.6 L369.92 668.99 L371 670.37 L372.09 671.74 L373.17 673.11 L374.25 674.46 L375.34 675.79 L376.42 677.11 L377.51 678.39 L378.59 679.66 L379.68 680.88 L380.76 682.08 L381.84 683.24 L382.93 684.36 L384.01 685.44 L385.1 686.47 L386.18 687.46 L387.26 688.4 L388.35 689.29 L389.43 690.13 L390.52 690.93 L391.6 691.67 L392.69 692.37 L393.77 693.02 L394.85 693.61 L395.94 694.16 L397.02 694.67 L398.11 695.12 L399.19 695.54 L400.27 695.91 L401.36 696.25 L402.44 696.55 L403.53 696.81 L404.61 697.05 L405.7 697.26 L406.78 697.44 L407.86 697.6 L408.95 697.75 L410.03 697.88 L411.12 697.99 L412.2 698.11 L413.28 698.22 L414.37 698.33 L415.45 698.44 L416.54 698.56 L417.62 698.69 L418.71 698.83 L419.79 699 L420.87 699.18 L421.96 699.38 L423.04 699.62 L424.13 699.88 L425.21 700.17 L426.29 700.49 L427.38 700.85 L428.46 701.24 L429.55 701.67 L430.63 702.14 L431.72 702.65 L432.8 703.19 L433.88 703.78 L434.97 704.41 L436.05 705.07 L437.14 705.78 L438.22 706.52 L439.3 707.3 L440.39 708.11 L441.47 708.95 L442.56 709.83 L443.64 710.73 L444.73 711.66 L445.81 712.61 L446.89 713.58 L447.98 714.57 L449.06 715.58 L450.15 716.59 L451.23 717.61 L452.31 718.64 L453.4 719.66 L454.48 720.68 L455.57 721.7 L456.65 722.7 L457.74 723.69 L458.82 724.67 L459.9 725.62 L460.99 726.55 L462.07 727.45 L463.16 728.31 L464.24 729.15 L465.32 729.95 L466.41 730.71 L467.49 731.43 L468.58 732.1 L469.66 732.74 L470.75 733.32 L471.83 733.86 L472.91 734.35 L474 734.79 L475.08 735.18 L476.17 735.52 L477.25 735.81 L478.33 736.05 L479.42 736.24 L480.5 736.39 L481.59 736.49 L482.67 736.55 L483.76 736.56 L484.84 736.54 L485.92 736.48 L487.01 736.38 L488.09 736.25 L489.18 736.1 L490.26 735.92 L491.34 735.72 L492.43 735.5 L493.51 735.27 L494.6 735.03 L495.68 734.79 L496.77 734.54 L497.85 734.3 L498.93 734.06 L500.02 733.83 L501.1 733.62 L502.19 733.43 L503.27 733.26 L504.35 733.12 L505.44 733.01 L506.52 732.94 L507.61 732.9 L508.69 732.9 L509.78 732.95 L510.86 733.04 L511.94 733.19 L513.03 733.38 L514.11 733.63 L515.2 733.94 L516.28 734.3 L517.37 734.72 L518.45 735.2 L519.53 735.74 L520.62 736.33 L521.7 736.99 L522.79 737.7 L523.87 738.48 L524.95 739.31 L526.04 740.19 L527.12 741.13 L528.21 742.12 L529.29 743.16 L530.38 744.25 L531.46 745.38 L532.54 746.55 L533.63 747.76 L534.71 749 L535.8 750.28 L536.88 751.58 L537.96 752.91 L539.05 754.25 L540.13 755.61 L541.22 756.99 L542.3 758.36 L543.38 759.75 L544.47 761.13 L545.55 762.5 L546.64 763.87 L547.72 765.22 L548.81 766.55 L549.89 767.87 L550.97 769.15 L552.06 770.42 L553.14 771.65 L554.23 772.84 L555.31 774 L556.39 775.12 L557.48 776.2 L558.56 777.23 L559.65 778.22 L560.73 779.16 L561.82 780.05 L562.9 780.9" fill="none" stroke="#0f6e0f" stroke-width="1.7" />
</g>
<rect x="302.7" y="627.7" width="260.2" height="144.5999999999999" fill="none" stroke="#2a2a2a" stroke-width="1.4" rx="0.8"/>
<line x1="346.07" y1="772.3" x2="346.07" y2="768.3" stroke="#444" stroke-width="0.8" />
<line x1="346.07" y1="627.7" x2="346.07" y2="631.7" stroke="#444" stroke-width="0.8" />
<text x="346.57" y="791.8" font-size="22" text-anchor="middle" font-style="italic" font-weight="normal" fill="#000" >-1</text>
<line x1="432.8" y1="772.3" x2="432.8" y2="768.3" stroke="#444" stroke-width="0.8" />
<line x1="432.8" y1="627.7" x2="432.8" y2="631.7" stroke="#444" stroke-width="0.8" />
<text x="433.3" y="791.8" font-size="22" text-anchor="middle" font-style="italic" font-weight="normal" fill="#000" >0</text>
<line x1="519.53" y1="772.3" x2="519.53" y2="768.3" stroke="#444" stroke-width="0.8" />
<line x1="519.53" y1="627.7" x2="519.53" y2="631.7" stroke="#444" stroke-width="0.8" />
<text x="520.03" y="791.8" font-size="22" text-anchor="middle" font-style="italic" font-weight="normal" fill="#000" >1</text>
<line x1="302.7" y1="769" x2="306.7" y2="769" stroke="#444" stroke-width="0.8" />
<line x1="562.9" y1="769" x2="558.9" y2="769" stroke="#444" stroke-width="0.8" />
<line x1="302.7" y1="736.9" x2="306.7" y2="736.9" stroke="#444" stroke-width="0.8" />
<line x1="562.9" y1="736.9" x2="558.9" y2="736.9" stroke="#444" stroke-width="0.8" />
<line x1="302.7" y1="704.8" x2="306.7" y2="704.8" stroke="#444" stroke-width="0.8" />
<line x1="562.9" y1="704.8" x2="558.9" y2="704.8" stroke="#444" stroke-width="0.8" />
<line x1="302.7" y1="672.7" x2="306.7" y2="672.7" stroke="#444" stroke-width="0.8" />
<line x1="562.9" y1="672.7" x2="558.9" y2="672.7" stroke="#444" stroke-width="0.8" />
<line x1="302.7" y1="640.6" x2="306.7" y2="640.6" stroke="#444" stroke-width="0.8" />
<line x1="562.9" y1="640.6" x2="558.9" y2="640.6" stroke="#444" stroke-width="0.8" />
<text x="305.2" y="766.1" font-size="23.4" text-anchor="start" font-style="normal" font-weight="bold" fill="#000" >(d5)</text>
<text x="519.93" y="648.5" font-size="23" text-anchor="middle" font-style="italic" font-weight="normal" fill="#000" >α = 0.4</text>
<text x="433.3" y="814.3" font-size="24.5" text-anchor="middle" font-style="italic" font-weight="normal" fill="#000" >φ/π</text>
<clipPath id="cd2"><rect x="567.8" y="470.0" width="260.70000000000005" height="150.0"/></clipPath>
<line x1="654.7" y1="470" x2="654.7" y2="620" stroke="#aaa" stroke-width="1.1" />
<line x1="741.6" y1="470" x2="741.6" y2="620" stroke="#aaa" stroke-width="1.1" />
<g clip-path="url(#cd2)">
<path d="M567.8 553.83 L568.89 553.73 L569.97 553.58 L571.06 553.38 L572.14 553.12 L573.23 552.82 L574.32 552.47 L575.4 552.07 L576.49 551.62 L577.58 551.13 L578.66 550.6 L579.75 550.04 L580.83 549.44 L581.92 548.81 L583.01 548.15 L584.09 547.47 L585.18 546.77 L586.27 546.06 L587.35 545.33 L588.44 544.6 L589.52 543.87 L590.61 543.13 L591.7 542.41 L592.78 541.69 L593.87 540.99 L594.96 540.31 L596.04 539.65 L597.13 539.02 L598.21 538.42 L599.3 537.85 L600.39 537.32 L601.47 536.83 L602.56 536.38 L603.65 535.98 L604.73 535.63 L605.82 535.33 L606.9 535.08 L607.99 534.88 L609.08 534.74 L610.16 534.66 L611.25 534.63 L612.34 534.66 L613.42 534.74 L614.51 534.88 L615.59 535.08 L616.68 535.33 L617.77 535.63 L618.85 535.98 L619.94 536.38 L621.03 536.83 L622.11 537.32 L623.2 537.85 L624.28 538.42 L625.37 539.02 L626.46 539.65 L627.54 540.31 L628.63 540.99 L629.72 541.69 L630.8 542.41 L631.89 543.13 L632.97 543.87 L634.06 544.6 L635.15 545.33 L636.23 546.06 L637.32 546.77 L638.41 547.47 L639.49 548.15 L640.58 548.81 L641.66 549.44 L642.75 550.04 L643.84 550.6 L644.92 551.13 L646.01 551.62 L647.1 552.07 L648.18 552.47 L649.27 552.82 L650.36 553.12 L651.44 553.38 L652.53 553.58 L653.61 553.73 L654.7 553.83 L655.79 553.87 L656.87 553.85 L657.96 553.79 L659.04 553.67 L660.13 553.5 L661.22 553.28 L662.3 553.01 L663.39 552.7 L664.48 552.34 L665.56 551.94 L666.65 551.5 L667.74 551.02 L668.82 550.51 L669.91 549.97 L670.99 549.41 L672.08 548.82 L673.17 548.22 L674.25 547.6 L675.34 546.97 L676.42 546.33 L677.51 545.7 L678.6 545.06 L679.68 544.43 L680.77 543.82 L681.86 543.21 L682.94 542.63 L684.03 542.06 L685.12 541.53 L686.2 541.02 L687.29 540.54 L688.37 540.1 L689.46 539.7 L690.55 539.34 L691.63 539.02 L692.72 538.75 L693.8 538.53 L694.89 538.35 L695.98 538.22 L697.06 538.15 L698.15 538.12 L699.24 538.15 L700.32 538.22 L701.41 538.35 L702.5 538.53 L703.58 538.75 L704.67 539.02 L705.75 539.34 L706.84 539.7 L707.93 540.1 L709.01 540.54 L710.1 541.02 L711.18 541.53 L712.27 542.06 L713.36 542.63 L714.44 543.21 L715.53 543.82 L716.62 544.43 L717.7 545.06 L718.79 545.7 L719.88 546.33 L720.96 546.97 L722.05 547.6 L723.13 548.22 L724.22 548.82 L725.31 549.41 L726.39 549.97 L727.48 550.51 L728.56 551.02 L729.65 551.5 L730.74 551.94 L731.82 552.34 L732.91 552.7 L734 553.01 L735.08 553.28 L736.17 553.5 L737.25 553.67 L738.34 553.79 L739.43 553.85 L740.51 553.87 L741.6 553.83 L742.69 553.73 L743.77 553.58 L744.86 553.38 L745.95 553.12 L747.03 552.82 L748.12 552.47 L749.2 552.07 L750.29 551.62 L751.38 551.13 L752.46 550.6 L753.55 550.04 L754.63 549.44 L755.72 548.81 L756.81 548.15 L757.89 547.47 L758.98 546.77 L760.07 546.06 L761.15 545.33 L762.24 544.6 L763.33 543.87 L764.41 543.13 L765.5 542.41 L766.58 541.69 L767.67 540.99 L768.76 540.31 L769.84 539.65 L770.93 539.02 L772.01 538.42 L773.1 537.85 L774.19 537.32 L775.27 536.83 L776.36 536.38 L777.45 535.98 L778.53 535.63 L779.62 535.33 L780.71 535.08 L781.79 534.88 L782.88 534.74 L783.96 534.66 L785.05 534.63 L786.14 534.66 L787.22 534.74 L788.31 534.88 L789.39 535.08 L790.48 535.33 L791.57 535.63 L792.65 535.98 L793.74 536.38 L794.83 536.83 L795.91 537.32 L797 537.85 L798.09 538.42 L799.17 539.02 L800.26 539.65 L801.34 540.31 L802.43 540.99 L803.52 541.69 L804.6 542.41 L805.69 543.13 L806.77 543.87 L807.86 544.6 L808.95 545.33 L810.03 546.06 L811.12 546.77 L812.21 547.47 L813.29 548.15 L814.38 548.81 L815.47 549.44 L816.55 550.04 L817.64 550.6 L818.72 551.13 L819.81 551.62 L820.9 552.07 L821.98 552.47 L823.07 552.82 L824.15 553.12 L825.24 553.38 L826.33 553.58 L827.41 553.73 L828.5 553.83" fill="none" stroke="#8b1a1a" stroke-width="1.7" />
<path d="M567.8 529.16 L568.89 529.27 L569.97 529.32 L571.06 529.33 L572.14 529.28 L573.23 529.18 L574.32 529.03 L575.4 528.84 L576.49 528.59 L577.58 528.31 L578.66 527.99 L579.75 527.63 L580.83 527.23 L581.92 526.81 L583.01 526.36 L584.09 525.88 L585.18 525.39 L586.27 524.88 L587.35 524.36 L588.44 523.84 L589.52 523.31 L590.61 522.78 L591.7 522.26 L592.78 521.75 L593.87 521.26 L594.96 520.78 L596.04 520.33 L597.13 519.9 L598.21 519.5 L599.3 519.14 L600.39 518.82 L601.47 518.53 L602.56 518.29 L603.65 518.1 L604.73 517.95 L605.82 517.85 L606.9 517.81 L607.99 517.82 L609.08 517.89 L610.16 518.01 L611.25 518.18 L612.34 518.42 L613.42 518.71 L614.51 519.05 L615.59 519.45 L616.68 519.91 L617.77 520.42 L618.85 520.97 L619.94 521.58 L621.03 522.23 L622.11 522.93 L623.2 523.66 L624.28 524.44 L625.37 525.24 L626.46 526.08 L627.54 526.95 L628.63 527.84 L629.72 528.74 L630.8 529.66 L631.89 530.59 L632.97 531.53 L634.06 532.47 L635.15 533.41 L636.23 534.34 L637.32 535.26 L638.41 536.16 L639.49 537.05 L640.58 537.91 L641.66 538.75 L642.75 539.55 L643.84 540.32 L644.92 541.06 L646.01 541.75 L647.1 542.4 L648.18 543.01 L649.27 543.57 L650.36 544.08 L651.44 544.54 L652.53 544.95 L653.61 545.3 L654.7 545.6 L655.79 545.85 L656.87 546.04 L657.96 546.18 L659.04 546.27 L660.13 546.31 L661.22 546.29 L662.3 546.23 L663.39 546.12 L664.48 545.97 L665.56 545.77 L666.65 545.54 L667.74 545.26 L668.82 544.96 L669.91 544.63 L670.99 544.27 L672.08 543.89 L673.17 543.49 L674.25 543.08 L675.34 542.65 L676.42 542.22 L677.51 541.79 L678.6 541.36 L679.68 540.94 L680.77 540.53 L681.86 540.13 L682.94 539.75 L684.03 539.39 L685.12 539.06 L686.2 538.76 L687.29 538.49 L688.37 538.25 L689.46 538.06 L690.55 537.9 L691.63 537.79 L692.72 537.72 L693.8 537.7 L694.89 537.73 L695.98 537.81 L697.06 537.94 L698.15 538.12 L699.24 538.35 L700.32 538.63 L701.41 538.97 L702.5 539.35 L703.58 539.78 L704.67 540.26 L705.75 540.78 L706.84 541.35 L707.93 541.95 L709.01 542.6 L710.1 543.28 L711.18 543.99 L712.27 544.74 L713.36 545.5 L714.44 546.3 L715.53 547.1 L716.62 547.93 L717.7 548.76 L718.79 549.6 L719.88 550.45 L720.96 551.29 L722.05 552.12 L723.13 552.95 L724.22 553.76 L725.31 554.55 L726.39 555.32 L727.48 556.06 L728.56 556.78 L729.65 557.46 L730.74 558.1 L731.82 558.71 L732.91 559.28 L734 559.8 L735.08 560.27 L736.17 560.7 L737.25 561.07 L738.34 561.4 L739.43 561.67 L740.51 561.88 L741.6 562.05 L742.69 562.16 L743.77 562.21 L744.86 562.22 L745.95 562.17 L747.03 562.07 L748.12 561.92 L749.2 561.73 L750.29 561.49 L751.38 561.2 L752.46 560.88 L753.55 560.52 L754.63 560.13 L755.72 559.7 L756.81 559.25 L757.89 558.78 L758.98 558.28 L760.07 557.77 L761.15 557.26 L762.24 556.73 L763.33 556.2 L764.41 555.67 L765.5 555.15 L766.58 554.64 L767.67 554.15 L768.76 553.67 L769.84 553.22 L770.93 552.79 L772.01 552.4 L773.1 552.03 L774.19 551.71 L775.27 551.42 L776.36 551.18 L777.45 550.99 L778.53 550.84 L779.62 550.75 L780.71 550.7 L781.79 550.71 L782.88 550.78 L783.96 550.9 L785.05 551.08 L786.14 551.31 L787.22 551.6 L788.31 551.95 L789.39 552.35 L790.48 552.8 L791.57 553.31 L792.65 553.87 L793.74 554.47 L794.83 555.12 L795.91 555.82 L797 556.56 L798.09 557.33 L799.17 558.14 L800.26 558.98 L801.34 559.84 L802.43 560.73 L803.52 561.63 L804.6 562.55 L805.69 563.49 L806.77 564.42 L807.86 565.36 L808.95 566.3 L810.03 567.23 L811.12 568.15 L812.21 569.06 L813.29 569.94 L814.38 570.8 L815.47 571.64 L816.55 572.44 L817.64 573.22 L818.72 573.95 L819.81 574.64 L820.9 575.3 L821.98 575.9 L823.07 576.46 L824.15 576.97 L825.24 577.43 L826.33 577.84 L827.41 578.19 L828.5 578.49" fill="none" stroke="#1010b4" stroke-width="1.7" />
<path d="M567.8 504.49 L568.89 504.8 L569.97 505.06 L571.06 505.27 L572.14 505.43 L573.23 505.54 L574.32 505.59 L575.4 505.61 L576.49 505.57 L577.58 505.49 L578.66 505.37 L579.75 505.22 L580.83 505.03 L581.92 504.81 L583.01 504.57 L584.09 504.3 L585.18 504.01 L586.27 503.71 L587.35 503.39 L588.44 503.07 L589.52 502.75 L590.61 502.43 L591.7 502.11 L592.78 501.81 L593.87 501.52 L594.96 501.25 L596.04 501 L597.13 500.78 L598.21 500.59 L599.3 500.43 L600.39 500.31 L601.47 500.24 L602.56 500.2 L603.65 500.21 L604.73 500.27 L605.82 500.38 L606.9 500.54 L607.99 500.76 L609.08 501.03 L610.16 501.35 L611.25 501.74 L612.34 502.18 L613.42 502.67 L614.51 503.22 L615.59 503.83 L616.68 504.49 L617.77 505.2 L618.85 505.97 L619.94 506.78 L621.03 507.64 L622.11 508.54 L623.2 509.48 L624.28 510.46 L625.37 511.47 L626.46 512.51 L627.54 513.59 L628.63 514.68 L629.72 515.79 L630.8 516.92 L631.89 518.05 L632.97 519.2 L634.06 520.34 L635.15 521.48 L636.23 522.62 L637.32 523.75 L638.41 524.86 L639.49 525.95 L640.58 527.01 L641.66 528.06 L642.75 529.07 L643.84 530.04 L644.92 530.98 L646.01 531.88 L647.1 532.74 L648.18 533.55 L649.27 534.32 L650.36 535.03 L651.44 535.7 L652.53 536.31 L653.61 536.87 L654.7 537.38 L655.79 537.83 L656.87 538.23 L657.96 538.58 L659.04 538.87 L660.13 539.11 L661.22 539.3 L662.3 539.44 L663.39 539.54 L664.48 539.59 L665.56 539.6 L666.65 539.57 L667.74 539.51 L668.82 539.41 L669.91 539.28 L670.99 539.13 L672.08 538.95 L673.17 538.76 L674.25 538.55 L675.34 538.33 L676.42 538.11 L677.51 537.88 L678.6 537.66 L679.68 537.44 L680.77 537.24 L681.86 537.04 L682.94 536.87 L684.03 536.72 L685.12 536.59 L686.2 536.5 L687.29 536.43 L688.37 536.4 L689.46 536.41 L690.55 536.46 L691.63 536.56 L692.72 536.69 L693.8 536.88 L694.89 537.12 L695.98 537.4 L697.06 537.73 L698.15 538.12 L699.24 538.56 L700.32 539.04 L701.41 539.58 L702.5 540.17 L703.58 540.81 L704.67 541.49 L705.75 542.22 L706.84 542.99 L707.93 543.8 L709.01 544.65 L710.1 545.54 L711.18 546.46 L712.27 547.41 L713.36 548.38 L714.44 549.38 L715.53 550.39 L716.62 551.42 L717.7 552.46 L718.79 553.51 L719.88 554.56 L720.96 555.6 L722.05 556.64 L723.13 557.67 L724.22 558.69 L725.31 559.69 L726.39 560.66 L727.48 561.61 L728.56 562.53 L729.65 563.42 L730.74 564.27 L731.82 565.08 L732.91 565.85 L734 566.58 L735.08 567.26 L736.17 567.89 L737.25 568.47 L738.34 569 L739.43 569.48 L740.51 569.9 L741.6 570.27 L742.69 570.59 L743.77 570.85 L744.86 571.06 L745.95 571.22 L747.03 571.32 L748.12 571.38 L749.2 571.39 L750.29 571.35 L751.38 571.28 L752.46 571.16 L753.55 571 L754.63 570.82 L755.72 570.6 L756.81 570.35 L757.89 570.08 L758.98 569.8 L760.07 569.49 L761.15 569.18 L762.24 568.86 L763.33 568.54 L764.41 568.21 L765.5 567.9 L766.58 567.6 L767.67 567.31 L768.76 567.04 L769.84 566.79 L770.93 566.57 L772.01 566.38 L773.1 566.22 L774.19 566.1 L775.27 566.02 L776.36 565.98 L777.45 566 L778.53 566.05 L779.62 566.16 L780.71 566.33 L781.79 566.54 L782.88 566.81 L783.96 567.14 L785.05 567.52 L786.14 567.96 L787.22 568.46 L788.31 569.01 L789.39 569.62 L790.48 570.28 L791.57 570.99 L792.65 571.75 L793.74 572.56 L794.83 573.42 L795.91 574.32 L797 575.26 L798.09 576.24 L799.17 577.26 L800.26 578.3 L801.34 579.37 L802.43 580.46 L803.52 581.57 L804.6 582.7 L805.69 583.84 L806.77 584.98 L807.86 586.13 L808.95 587.27 L810.03 588.41 L811.12 589.53 L812.21 590.64 L813.29 591.73 L814.38 592.8 L815.47 593.84 L816.55 594.85 L817.64 595.83 L818.72 596.77 L819.81 597.67 L820.9 598.53 L821.98 599.34 L823.07 600.1 L824.15 600.82 L825.24 601.48 L826.33 602.1 L827.41 602.66 L828.5 603.16" fill="none" stroke="#ffa500" stroke-width="1.7" />
<path d="M567.8 479.82 L568.89 480.34 L569.97 480.81 L571.06 481.22 L572.14 481.58 L573.23 481.9 L574.32 482.16 L575.4 482.37 L576.49 482.55 L577.58 482.67 L578.66 482.76 L579.75 482.81 L580.83 482.83 L581.92 482.82 L583.01 482.78 L584.09 482.71 L585.18 482.63 L586.27 482.53 L587.35 482.42 L588.44 482.31 L589.52 482.19 L590.61 482.08 L591.7 481.97 L592.78 481.87 L593.87 481.79 L594.96 481.72 L596.04 481.68 L597.13 481.66 L598.21 481.68 L599.3 481.73 L600.39 481.81 L601.47 481.94 L602.56 482.11 L603.65 482.33 L604.73 482.59 L605.82 482.91 L606.9 483.27 L607.99 483.69 L609.08 484.17 L610.16 484.7 L611.25 485.29 L612.34 485.94 L613.42 486.64 L614.51 487.39 L615.59 488.21 L616.68 489.07 L617.77 489.99 L618.85 490.96 L619.94 491.98 L621.03 493.04 L622.11 494.15 L623.2 495.29 L624.28 496.48 L625.37 497.7 L626.46 498.95 L627.54 500.22 L628.63 501.52 L629.72 502.84 L630.8 504.17 L631.89 505.51 L632.97 506.86 L634.06 508.21 L635.15 509.56 L636.23 510.9 L637.32 512.23 L638.41 513.55 L639.49 514.85 L640.58 516.12 L641.66 517.37 L642.75 518.58 L643.84 519.77 L644.92 520.91 L646.01 522.02 L647.1 523.08 L648.18 524.1 L649.27 525.07 L650.36 525.99 L651.44 526.86 L652.53 527.68 L653.61 528.44 L654.7 529.16 L655.79 529.81 L656.87 530.42 L657.96 530.97 L659.04 531.47 L660.13 531.92 L661.22 532.31 L662.3 532.66 L663.39 532.96 L664.48 533.22 L665.56 533.44 L666.65 533.61 L667.74 533.75 L668.82 533.86 L669.91 533.94 L670.99 533.99 L672.08 534.02 L673.17 534.03 L674.25 534.03 L675.34 534.02 L676.42 534 L677.51 533.98 L678.6 533.96 L679.68 533.95 L680.77 533.95 L681.86 533.96 L682.94 533.99 L684.03 534.05 L685.12 534.13 L686.2 534.23 L687.29 534.38 L688.37 534.55 L689.46 534.77 L690.55 535.02 L691.63 535.32 L692.72 535.67 L693.8 536.06 L694.89 536.5 L695.98 536.99 L697.06 537.53 L698.15 538.12 L699.24 538.76 L700.32 539.46 L701.41 540.2 L702.5 540.99 L703.58 541.83 L704.67 542.72 L705.75 543.66 L706.84 544.63 L707.93 545.65 L709.01 546.71 L710.1 547.8 L711.18 548.93 L712.27 550.08 L713.36 551.26 L714.44 552.46 L715.53 553.68 L716.62 554.92 L717.7 556.16 L718.79 557.41 L719.88 558.67 L720.96 559.92 L722.05 561.17 L723.13 562.4 L724.22 563.62 L725.31 564.83 L726.39 566.01 L727.48 567.16 L728.56 568.29 L729.65 569.38 L730.74 570.44 L731.82 571.46 L732.91 572.43 L734 573.37 L735.08 574.25 L736.17 575.09 L737.25 575.87 L738.34 576.61 L739.43 577.29 L740.51 577.92 L741.6 578.49 L742.69 579.02 L743.77 579.48 L744.86 579.9 L745.95 580.26 L747.03 580.57 L748.12 580.84 L749.2 581.05 L750.29 581.22 L751.38 581.35 L752.46 581.44 L753.55 581.49 L754.63 581.51 L755.72 581.49 L756.81 581.45 L757.89 581.39 L758.98 581.31 L760.07 581.21 L761.15 581.1 L762.24 580.99 L763.33 580.87 L764.41 580.75 L765.5 580.65 L766.58 580.55 L767.67 580.46 L768.76 580.4 L769.84 580.36 L770.93 580.34 L772.01 580.35 L773.1 580.4 L774.19 580.49 L775.27 580.62 L776.36 580.79 L777.45 581 L778.53 581.27 L779.62 581.58 L780.71 581.95 L781.79 582.37 L782.88 582.85 L783.96 583.38 L785.05 583.97 L786.14 584.61 L787.22 585.31 L788.31 586.07 L789.39 586.88 L790.48 587.75 L791.57 588.67 L792.65 589.64 L793.74 590.65 L794.83 591.72 L795.91 592.82 L797 593.97 L798.09 595.16 L799.17 596.37 L800.26 597.62 L801.34 598.9 L802.43 600.2 L803.52 601.52 L804.6 602.85 L805.69 604.19 L806.77 605.54 L807.86 606.89 L808.95 608.24 L810.03 609.58 L811.12 610.91 L812.21 612.23 L813.29 613.52 L814.38 614.8 L815.47 616.04 L816.55 617.26 L817.64 618.44 L818.72 619.59 L819.81 620.69 L820.9 621.76 L821.98 622.77 L823.07 623.74 L824.15 624.67 L825.24 625.54 L826.33 626.36 L827.41 627.12 L828.5 627.83" fill="none" stroke="#0f6e0f" stroke-width="1.7" />
</g>
<rect x="567.8" y="470.0" width="260.70000000000005" height="150.0" fill="none" stroke="#2a2a2a" stroke-width="1.4" rx="0.8"/>
<line x1="611.25" y1="620" x2="611.25" y2="616" stroke="#444" stroke-width="0.8" />
<line x1="611.25" y1="470" x2="611.25" y2="474" stroke="#444" stroke-width="0.8" />
<line x1="698.15" y1="620" x2="698.15" y2="616" stroke="#444" stroke-width="0.8" />
<line x1="698.15" y1="470" x2="698.15" y2="474" stroke="#444" stroke-width="0.8" />
<line x1="785.05" y1="620" x2="785.05" y2="616" stroke="#444" stroke-width="0.8" />
<line x1="785.05" y1="470" x2="785.05" y2="474" stroke="#444" stroke-width="0.8" />
<line x1="567.8" y1="614.9" x2="571.8" y2="614.9" stroke="#444" stroke-width="0.8" />
<line x1="828.5" y1="614.9" x2="824.5" y2="614.9" stroke="#444" stroke-width="0.8" />
<line x1="567.8" y1="580" x2="571.8" y2="580" stroke="#444" stroke-width="0.8" />
<line x1="828.5" y1="580" x2="824.5" y2="580" stroke="#444" stroke-width="0.8" />
<line x1="567.8" y1="545.1" x2="571.8" y2="545.1" stroke="#444" stroke-width="0.8" />
<line x1="828.5" y1="545.1" x2="824.5" y2="545.1" stroke="#444" stroke-width="0.8" />
<line x1="567.8" y1="510.2" x2="571.8" y2="510.2" stroke="#444" stroke-width="0.8" />
<line x1="828.5" y1="510.2" x2="824.5" y2="510.2" stroke="#444" stroke-width="0.8" />
<line x1="567.8" y1="475.3" x2="571.8" y2="475.3" stroke="#444" stroke-width="0.8" />
<line x1="828.5" y1="475.3" x2="824.5" y2="475.3" stroke="#444" stroke-width="0.8" />
<text x="570.3" y="613.8" font-size="23.4" text-anchor="start" font-style="normal" font-weight="bold" fill="#000" >(d3)</text>
<text x="785.45" y="490.8" font-size="23" text-anchor="middle" font-style="italic" font-weight="normal" fill="#000" >α = 0.1</text>
<clipPath id="cd5"><rect x="567.8" y="627.7" width="260.70000000000005" height="144.5999999999999"/></clipPath>
<line x1="654.7" y1="627.7" x2="654.7" y2="772.3" stroke="#aaa" stroke-width="1.1" />
<line x1="741.6" y1="627.7" x2="741.6" y2="772.3" stroke="#aaa" stroke-width="1.1" />
<g clip-path="url(#cd5)">
<path d="M567.8 712.82 L568.89 712.17 L569.97 711.47 L571.06 710.72 L572.14 709.92 L573.23 709.08 L574.32 708.2 L575.4 707.29 L576.49 706.33 L577.58 705.35 L578.66 704.33 L579.75 703.29 L580.83 702.23 L581.92 701.15 L583.01 700.06 L584.09 698.95 L585.18 697.85 L586.27 696.74 L587.35 695.63 L588.44 694.53 L589.52 693.45 L590.61 692.38 L591.7 691.34 L592.78 690.32 L593.87 689.34 L594.96 688.38 L596.04 687.47 L597.13 686.6 L598.21 685.78 L599.3 685.01 L600.39 684.3 L601.47 683.64 L602.56 683.04 L603.65 682.51 L604.73 682.04 L605.82 681.64 L606.9 681.32 L607.99 681.06 L609.08 680.87 L610.16 680.76 L611.25 680.72 L612.34 680.76 L613.42 680.87 L614.51 681.06 L615.59 681.32 L616.68 681.64 L617.77 682.04 L618.85 682.51 L619.94 683.04 L621.03 683.64 L622.11 684.3 L623.2 685.01 L624.28 685.78 L625.37 686.6 L626.46 687.47 L627.54 688.38 L628.63 689.34 L629.72 690.32 L630.8 691.34 L631.89 692.38 L632.97 693.45 L634.06 694.53 L635.15 695.63 L636.23 696.74 L637.32 697.85 L638.41 698.95 L639.49 700.06 L640.58 701.15 L641.66 702.23 L642.75 703.29 L643.84 704.33 L644.92 705.35 L646.01 706.33 L647.1 707.29 L648.18 708.2 L649.27 709.08 L650.36 709.92 L651.44 710.72 L652.53 711.47 L653.61 712.17 L654.7 712.82 L655.79 713.43 L656.87 713.99 L657.96 714.49 L659.04 714.94 L660.13 715.35 L661.22 715.7 L662.3 716 L663.39 716.25 L664.48 716.46 L665.56 716.62 L666.65 716.73 L667.74 716.8 L668.82 716.84 L669.91 716.83 L670.99 716.79 L672.08 716.71 L673.17 716.61 L674.25 716.48 L675.34 716.32 L676.42 716.15 L677.51 715.96 L678.6 715.75 L679.68 715.53 L680.77 715.3 L681.86 715.07 L682.94 714.84 L684.03 714.61 L685.12 714.38 L686.2 714.16 L687.29 713.95 L688.37 713.76 L689.46 713.57 L690.55 713.4 L691.63 713.26 L692.72 713.13 L693.8 713.02 L694.89 712.94 L695.98 712.87 L697.06 712.84 L698.15 712.82 L699.24 712.84 L700.32 712.87 L701.41 712.94 L702.5 713.02 L703.58 713.13 L704.67 713.26 L705.75 713.4 L706.84 713.57 L707.93 713.76 L709.01 713.95 L710.1 714.16 L711.18 714.38 L712.27 714.61 L713.36 714.84 L714.44 715.07 L715.53 715.3 L716.62 715.53 L717.7 715.75 L718.79 715.96 L719.88 716.15 L720.96 716.32 L722.05 716.48 L723.13 716.61 L724.22 716.71 L725.31 716.79 L726.39 716.83 L727.48 716.84 L728.56 716.8 L729.65 716.73 L730.74 716.62 L731.82 716.46 L732.91 716.25 L734 716 L735.08 715.7 L736.17 715.35 L737.25 714.94 L738.34 714.49 L739.43 713.99 L740.51 713.43 L741.6 712.82 L742.69 712.17 L743.77 711.47 L744.86 710.72 L745.95 709.92 L747.03 709.08 L748.12 708.2 L749.2 707.29 L750.29 706.33 L751.38 705.35 L752.46 704.33 L753.55 703.29 L754.63 702.23 L755.72 701.15 L756.81 700.06 L757.89 698.95 L758.98 697.85 L760.07 696.74 L761.15 695.63 L762.24 694.53 L763.33 693.45 L764.41 692.38 L765.5 691.34 L766.58 690.32 L767.67 689.34 L768.76 688.38 L769.84 687.47 L770.93 686.6 L772.01 685.78 L773.1 685.01 L774.19 684.3 L775.27 683.64 L776.36 683.04 L777.45 682.51 L778.53 682.04 L779.62 681.64 L780.71 681.32 L781.79 681.06 L782.88 680.87 L783.96 680.76 L785.05 680.72 L786.14 680.76 L787.22 680.87 L788.31 681.06 L789.39 681.32 L790.48 681.64 L791.57 682.04 L792.65 682.51 L793.74 683.04 L794.83 683.64 L795.91 684.3 L797 685.01 L798.09 685.78 L799.17 686.6 L800.26 687.47 L801.34 688.38 L802.43 689.34 L803.52 690.32 L804.6 691.34 L805.69 692.38 L806.77 693.45 L807.86 694.53 L808.95 695.63 L810.03 696.74 L811.12 697.85 L812.21 698.95 L813.29 700.06 L814.38 701.15 L815.47 702.23 L816.55 703.29 L817.64 704.33 L818.72 705.35 L819.81 706.33 L820.9 707.29 L821.98 708.2 L823.07 709.08 L824.15 709.92 L825.24 710.72 L826.33 711.47 L827.41 712.17 L828.5 712.82" fill="none" stroke="#8b1a1a" stroke-width="1.7" />
<path d="M567.8 690.13 L568.89 689.67 L569.97 689.15 L571.06 688.59 L572.14 687.99 L573.23 687.34 L574.32 686.65 L575.4 685.92 L576.49 685.16 L577.58 684.36 L578.66 683.53 L579.75 682.68 L580.83 681.81 L581.92 680.92 L583.01 680.01 L584.09 679.1 L585.18 678.18 L586.27 677.26 L587.35 676.35 L588.44 675.44 L589.52 674.54 L590.61 673.67 L591.7 672.81 L592.78 671.98 L593.87 671.18 L594.96 670.42 L596.04 669.7 L597.13 669.02 L598.21 668.39 L599.3 667.81 L600.39 667.28 L601.47 666.81 L602.56 666.4 L603.65 666.06 L604.73 665.78 L605.82 665.57 L606.9 665.43 L607.99 665.36 L609.08 665.37 L610.16 665.45 L611.25 665.6 L612.34 665.82 L613.42 666.12 L614.51 666.5 L615.59 666.94 L616.68 667.46 L617.77 668.05 L618.85 668.71 L619.94 669.43 L621.03 670.21 L622.11 671.06 L623.2 671.97 L624.28 672.92 L625.37 673.93 L626.46 674.99 L627.54 676.09 L628.63 677.23 L629.72 678.41 L630.8 679.62 L631.89 680.85 L632.97 682.11 L634.06 683.38 L635.15 684.66 L636.23 685.96 L637.32 687.26 L638.41 688.55 L639.49 689.85 L640.58 691.13 L641.66 692.4 L642.75 693.65 L643.84 694.88 L644.92 696.08 L646.01 697.26 L647.1 698.4 L648.18 699.51 L649.27 700.57 L650.36 701.6 L651.44 702.59 L652.53 703.53 L653.61 704.42 L654.7 705.26 L655.79 706.06 L656.87 706.8 L657.96 707.49 L659.04 708.14 L660.13 708.73 L661.22 709.27 L662.3 709.76 L663.39 710.2 L664.48 710.6 L665.56 710.94 L666.65 711.25 L667.74 711.51 L668.82 711.73 L669.91 711.91 L670.99 712.06 L672.08 712.18 L673.17 712.26 L674.25 712.32 L675.34 712.35 L676.42 712.37 L677.51 712.36 L678.6 712.35 L679.68 712.32 L680.77 712.28 L681.86 712.24 L682.94 712.19 L684.03 712.15 L685.12 712.11 L686.2 712.08 L687.29 712.06 L688.37 712.05 L689.46 712.06 L690.55 712.08 L691.63 712.12 L692.72 712.18 L693.8 712.26 L694.89 712.37 L695.98 712.5 L697.06 712.65 L698.15 712.82 L699.24 713.03 L700.32 713.25 L701.41 713.5 L702.5 713.78 L703.58 714.07 L704.67 714.39 L705.75 714.73 L706.84 715.08 L707.93 715.46 L709.01 715.84 L710.1 716.24 L711.18 716.65 L712.27 717.07 L713.36 717.49 L714.44 717.91 L715.53 718.33 L716.62 718.75 L717.7 719.15 L718.79 719.55 L719.88 719.93 L720.96 720.3 L722.05 720.64 L723.13 720.96 L724.22 721.25 L725.31 721.52 L726.39 721.75 L727.48 721.94 L728.56 722.1 L729.65 722.21 L730.74 722.29 L731.82 722.32 L732.91 722.3 L734 722.24 L735.08 722.13 L736.17 721.96 L737.25 721.75 L738.34 721.49 L739.43 721.17 L740.51 720.8 L741.6 720.39 L742.69 719.92 L743.77 719.41 L744.86 718.85 L745.95 718.24 L747.03 717.59 L748.12 716.9 L749.2 716.17 L750.29 715.41 L751.38 714.61 L752.46 713.79 L753.55 712.94 L754.63 712.06 L755.72 711.17 L756.81 710.27 L757.89 709.35 L758.98 708.43 L760.07 707.51 L761.15 706.6 L762.24 705.69 L763.33 704.8 L764.41 703.92 L765.5 703.06 L766.58 702.23 L767.67 701.44 L768.76 700.67 L769.84 699.95 L770.93 699.27 L772.01 698.64 L773.1 698.06 L774.19 697.53 L775.27 697.06 L776.36 696.66 L777.45 696.31 L778.53 696.04 L779.62 695.83 L780.71 695.69 L781.79 695.62 L782.88 695.62 L783.96 695.7 L785.05 695.85 L786.14 696.08 L787.22 696.38 L788.31 696.75 L789.39 697.2 L790.48 697.72 L791.57 698.3 L792.65 698.96 L793.74 699.68 L794.83 700.47 L795.91 701.31 L797 702.22 L798.09 703.18 L799.17 704.19 L800.26 705.25 L801.34 706.35 L802.43 707.49 L803.52 708.66 L804.6 709.87 L805.69 711.1 L806.77 712.36 L807.86 713.63 L808.95 714.92 L810.03 716.21 L811.12 717.51 L812.21 718.81 L813.29 720.1 L814.38 721.38 L815.47 722.65 L816.55 723.9 L817.64 725.13 L818.72 726.34 L819.81 727.51 L820.9 728.65 L821.98 729.76 L823.07 730.83 L824.15 731.86 L825.24 732.84 L826.33 733.78 L827.41 734.67 L828.5 735.52" fill="none" stroke="#1010b4" stroke-width="1.7" />
<path d="M567.8 667.44 L568.89 667.17 L569.97 666.84 L571.06 666.47 L572.14 666.05 L573.23 665.59 L574.32 665.09 L575.4 664.55 L576.49 663.98 L577.58 663.37 L578.66 662.73 L579.75 662.07 L580.83 661.39 L581.92 660.69 L583.01 659.97 L584.09 659.25 L585.18 658.52 L586.27 657.79 L587.35 657.06 L588.44 656.34 L589.52 655.63 L590.61 654.95 L591.7 654.28 L592.78 653.64 L593.87 653.03 L594.96 652.46 L596.04 651.92 L597.13 651.43 L598.21 650.99 L599.3 650.6 L600.39 650.26 L601.47 649.98 L602.56 649.76 L603.65 649.61 L604.73 649.52 L605.82 649.5 L606.9 649.55 L607.99 649.67 L609.08 649.86 L610.16 650.13 L611.25 650.47 L612.34 650.89 L613.42 651.38 L614.51 651.94 L615.59 652.57 L616.68 653.28 L617.77 654.06 L618.85 654.9 L619.94 655.81 L621.03 656.79 L622.11 657.83 L623.2 658.92 L624.28 660.07 L625.37 661.27 L626.46 662.51 L627.54 663.8 L628.63 665.13 L629.72 666.5 L630.8 667.89 L631.89 669.32 L632.97 670.76 L634.06 672.22 L635.15 673.7 L636.23 675.18 L637.32 676.67 L638.41 678.15 L639.49 679.64 L640.58 681.11 L641.66 682.57 L642.75 684.01 L643.84 685.42 L644.92 686.82 L646.01 688.18 L647.1 689.51 L648.18 690.81 L649.27 692.07 L650.36 693.28 L651.44 694.46 L652.53 695.58 L653.61 696.67 L654.7 697.7 L655.79 698.68 L656.87 699.62 L657.96 700.5 L659.04 701.33 L660.13 702.11 L661.22 702.84 L662.3 703.52 L663.39 704.15 L664.48 704.73 L665.56 705.27 L666.65 705.76 L667.74 706.21 L668.82 706.62 L669.91 707 L670.99 707.33 L672.08 707.64 L673.17 707.91 L674.25 708.16 L675.34 708.38 L676.42 708.59 L677.51 708.77 L678.6 708.94 L679.68 709.1 L680.77 709.25 L681.86 709.4 L682.94 709.55 L684.03 709.69 L685.12 709.85 L686.2 710 L687.29 710.17 L688.37 710.35 L689.46 710.55 L690.55 710.76 L691.63 710.99 L692.72 711.24 L693.8 711.51 L694.89 711.8 L695.98 712.12 L697.06 712.46 L698.15 712.82 L699.24 713.22 L700.32 713.63 L701.41 714.07 L702.5 714.53 L703.58 715.02 L704.67 715.53 L705.75 716.05 L706.84 716.6 L707.93 717.16 L709.01 717.74 L710.1 718.32 L711.18 718.92 L712.27 719.53 L713.36 720.14 L714.44 720.75 L715.53 721.36 L716.62 721.96 L717.7 722.56 L718.79 723.14 L719.88 723.71 L720.96 724.27 L722.05 724.8 L723.13 725.31 L724.22 725.79 L725.31 726.24 L726.39 726.66 L727.48 727.05 L728.56 727.39 L729.65 727.7 L730.74 727.96 L731.82 728.18 L732.91 728.35 L734 728.48 L735.08 728.55 L736.17 728.58 L737.25 728.56 L738.34 728.48 L739.43 728.36 L740.51 728.18 L741.6 727.95 L742.69 727.68 L743.77 727.35 L744.86 726.98 L745.95 726.56 L747.03 726.1 L748.12 725.6 L749.2 725.06 L750.29 724.48 L751.38 723.88 L752.46 723.24 L753.55 722.58 L754.63 721.9 L755.72 721.19 L756.81 720.48 L757.89 719.75 L758.98 719.02 L760.07 718.29 L761.15 717.57 L762.24 716.85 L763.33 716.14 L764.41 715.45 L765.5 714.79 L766.58 714.15 L767.67 713.54 L768.76 712.96 L769.84 712.43 L770.93 711.94 L772.01 711.5 L773.1 711.11 L774.19 710.77 L775.27 710.49 L776.36 710.27 L777.45 710.12 L778.53 710.03 L779.62 710.01 L780.71 710.06 L781.79 710.18 L782.88 710.37 L783.96 710.64 L785.05 710.98 L786.14 711.39 L787.22 711.88 L788.31 712.45 L789.39 713.08 L790.48 713.79 L791.57 714.57 L792.65 715.41 L793.74 716.32 L794.83 717.3 L795.91 718.33 L797 719.43 L798.09 720.57 L799.17 721.77 L800.26 723.02 L801.34 724.31 L802.43 725.64 L803.52 727 L804.6 728.4 L805.69 729.82 L806.77 731.27 L807.86 732.73 L808.95 734.21 L810.03 735.69 L811.12 737.18 L812.21 738.66 L813.29 740.14 L814.38 741.61 L815.47 743.07 L816.55 744.51 L817.64 745.93 L818.72 747.32 L819.81 748.69 L820.9 750.02 L821.98 751.31 L823.07 752.57 L824.15 753.79 L825.24 754.96 L826.33 756.09 L827.41 757.17 L828.5 758.21" fill="none" stroke="#ffa500" stroke-width="1.7" />
<path d="M567.8 644.75 L568.89 644.67 L569.97 644.53 L571.06 644.35 L572.14 644.12 L573.23 643.85 L574.32 643.54 L575.4 643.19 L576.49 642.8 L577.58 642.38 L578.66 641.93 L579.75 641.46 L580.83 640.97 L581.92 640.45 L583.01 639.93 L584.09 639.39 L585.18 638.85 L586.27 638.31 L587.35 637.77 L588.44 637.24 L589.52 636.73 L590.61 636.23 L591.7 635.75 L592.78 635.3 L593.87 634.88 L594.96 634.49 L596.04 634.15 L597.13 633.85 L598.21 633.6 L599.3 633.39 L600.39 633.24 L601.47 633.15 L602.56 633.12 L603.65 633.16 L604.73 633.26 L605.82 633.43 L606.9 633.67 L607.99 633.98 L609.08 634.36 L610.16 634.81 L611.25 635.34 L612.34 635.95 L613.42 636.63 L614.51 637.38 L615.59 638.2 L616.68 639.1 L617.77 640.07 L618.85 641.1 L619.94 642.2 L621.03 643.36 L622.11 644.59 L623.2 645.87 L624.28 647.21 L625.37 648.6 L626.46 650.03 L627.54 651.51 L628.63 653.03 L629.72 654.59 L630.8 656.17 L631.89 657.78 L632.97 659.42 L634.06 661.07 L635.15 662.73 L636.23 664.4 L637.32 666.08 L638.41 667.76 L639.49 669.43 L640.58 671.09 L641.66 672.73 L642.75 674.36 L643.84 675.97 L644.92 677.55 L646.01 679.1 L647.1 680.62 L648.18 682.11 L649.27 683.56 L650.36 684.96 L651.44 686.32 L652.53 687.64 L653.61 688.91 L654.7 690.13 L655.79 691.31 L656.87 692.43 L657.96 693.5 L659.04 694.52 L660.13 695.49 L661.22 696.41 L662.3 697.28 L663.39 698.1 L664.48 698.87 L665.56 699.6 L666.65 700.28 L667.74 700.92 L668.82 701.52 L669.91 702.08 L670.99 702.61 L672.08 703.1 L673.17 703.56 L674.25 704 L675.34 704.41 L676.42 704.8 L677.51 705.18 L678.6 705.54 L679.68 705.89 L680.77 706.23 L681.86 706.57 L682.94 706.9 L684.03 707.24 L685.12 707.58 L686.2 707.92 L687.29 708.28 L688.37 708.65 L689.46 709.03 L690.55 709.43 L691.63 709.85 L692.72 710.29 L693.8 710.75 L694.89 711.23 L695.98 711.74 L697.06 712.27 L698.15 712.82 L699.24 713.4 L700.32 714.01 L701.41 714.64 L702.5 715.29 L703.58 715.96 L704.67 716.66 L705.75 717.38 L706.84 718.11 L707.93 718.86 L709.01 719.63 L710.1 720.4 L711.18 721.19 L712.27 721.98 L713.36 722.78 L714.44 723.58 L715.53 724.38 L716.62 725.17 L717.7 725.96 L718.79 726.73 L719.88 727.49 L720.96 728.24 L722.05 728.96 L723.13 729.66 L724.22 730.33 L725.31 730.97 L726.39 731.58 L727.48 732.15 L728.56 732.69 L729.65 733.18 L730.74 733.63 L731.82 734.04 L732.91 734.4 L734 734.72 L735.08 734.98 L736.17 735.2 L737.25 735.36 L738.34 735.48 L739.43 735.54 L740.51 735.55 L741.6 735.52 L742.69 735.43 L743.77 735.29 L744.86 735.11 L745.95 734.88 L747.03 734.61 L748.12 734.3 L749.2 733.95 L750.29 733.56 L751.38 733.14 L752.46 732.7 L753.55 732.22 L754.63 731.73 L755.72 731.22 L756.81 730.69 L757.89 730.15 L758.98 729.61 L760.07 729.07 L761.15 728.53 L762.24 728 L763.33 727.49 L764.41 726.99 L765.5 726.51 L766.58 726.06 L767.67 725.64 L768.76 725.26 L769.84 724.91 L770.93 724.61 L772.01 724.36 L773.1 724.15 L774.19 724 L775.27 723.91 L776.36 723.89 L777.45 723.92 L778.53 724.02 L779.62 724.19 L780.71 724.43 L781.79 724.74 L782.88 725.12 L783.96 725.58 L785.05 726.11 L786.14 726.71 L787.22 727.39 L788.31 728.14 L789.39 728.96 L790.48 729.86 L791.57 730.83 L792.65 731.86 L793.74 732.96 L794.83 734.13 L795.91 735.35 L797 736.63 L798.09 737.97 L799.17 739.36 L800.26 740.79 L801.34 742.27 L802.43 743.79 L803.52 745.35 L804.6 746.93 L805.69 748.54 L806.77 750.18 L807.86 751.83 L808.95 753.49 L810.03 755.16 L811.12 756.84 L812.21 758.52 L813.29 760.19 L814.38 761.85 L815.47 763.49 L816.55 765.12 L817.64 766.73 L818.72 768.31 L819.81 769.87 L820.9 771.39 L821.98 772.87 L823.07 774.32 L824.15 775.72 L825.24 777.09 L826.33 778.4 L827.41 779.67 L828.5 780.9" fill="none" stroke="#0f6e0f" stroke-width="1.7" />
</g>
<rect x="567.8" y="627.7" width="260.70000000000005" height="144.5999999999999" fill="none" stroke="#2a2a2a" stroke-width="1.4" rx="0.8"/>
<line x1="611.25" y1="772.3" x2="611.25" y2="768.3" stroke="#444" stroke-width="0.8" />
<line x1="611.25" y1="627.7" x2="611.25" y2="631.7" stroke="#444" stroke-width="0.8" />
<text x="611.75" y="791.8" font-size="22" text-anchor="middle" font-style="italic" font-weight="normal" fill="#000" >-1</text>
<line x1="698.15" y1="772.3" x2="698.15" y2="768.3" stroke="#444" stroke-width="0.8" />
<line x1="698.15" y1="627.7" x2="698.15" y2="631.7" stroke="#444" stroke-width="0.8" />
<text x="698.65" y="791.8" font-size="22" text-anchor="middle" font-style="italic" font-weight="normal" fill="#000" >0</text>
<line x1="785.05" y1="772.3" x2="785.05" y2="768.3" stroke="#444" stroke-width="0.8" />
<line x1="785.05" y1="627.7" x2="785.05" y2="631.7" stroke="#444" stroke-width="0.8" />
<text x="785.55" y="791.8" font-size="22" text-anchor="middle" font-style="italic" font-weight="normal" fill="#000" >1</text>
<line x1="567.8" y1="769" x2="571.8" y2="769" stroke="#444" stroke-width="0.8" />
<line x1="828.5" y1="769" x2="824.5" y2="769" stroke="#444" stroke-width="0.8" />
<line x1="567.8" y1="736.9" x2="571.8" y2="736.9" stroke="#444" stroke-width="0.8" />
<line x1="828.5" y1="736.9" x2="824.5" y2="736.9" stroke="#444" stroke-width="0.8" />
<line x1="567.8" y1="704.8" x2="571.8" y2="704.8" stroke="#444" stroke-width="0.8" />
<line x1="828.5" y1="704.8" x2="824.5" y2="704.8" stroke="#444" stroke-width="0.8" />
<line x1="567.8" y1="672.7" x2="571.8" y2="672.7" stroke="#444" stroke-width="0.8" />
<line x1="828.5" y1="672.7" x2="824.5" y2="672.7" stroke="#444" stroke-width="0.8" />
<line x1="567.8" y1="640.6" x2="571.8" y2="640.6" stroke="#444" stroke-width="0.8" />
<line x1="828.5" y1="640.6" x2="824.5" y2="640.6" stroke="#444" stroke-width="0.8" />
<text x="570.3" y="766.1" font-size="23.4" text-anchor="start" font-style="normal" font-weight="bold" fill="#000" >(d6)</text>
<text x="785.45" y="648.5" font-size="23" text-anchor="middle" font-style="italic" font-weight="normal" fill="#000" >α = 1.0</text>
<text x="698.65" y="814.3" font-size="24.5" text-anchor="middle" font-style="italic" font-weight="normal" fill="#000" >φ/π</text>
<text transform="translate(252.6,526.3) rotate(26)" font-size="19" font-style="italic" fill="#8b1a1a">i<tspan dy="4.5" font-size="13.5">b</tspan><tspan dy="-4.5"> = 0</tspan></text>
<text transform="translate(273.6,560) rotate(30)" font-size="19" font-style="italic" fill="#1010b4">0.3</text>
<text transform="translate(273.4,583.3) rotate(32)" font-size="19" font-style="italic" fill="#ffa500">0.6</text>
<text transform="translate(273,603.3) rotate(33)" font-size="19" font-style="italic" fill="#0f6e0f">0.9</text>
</svg></body></html>
